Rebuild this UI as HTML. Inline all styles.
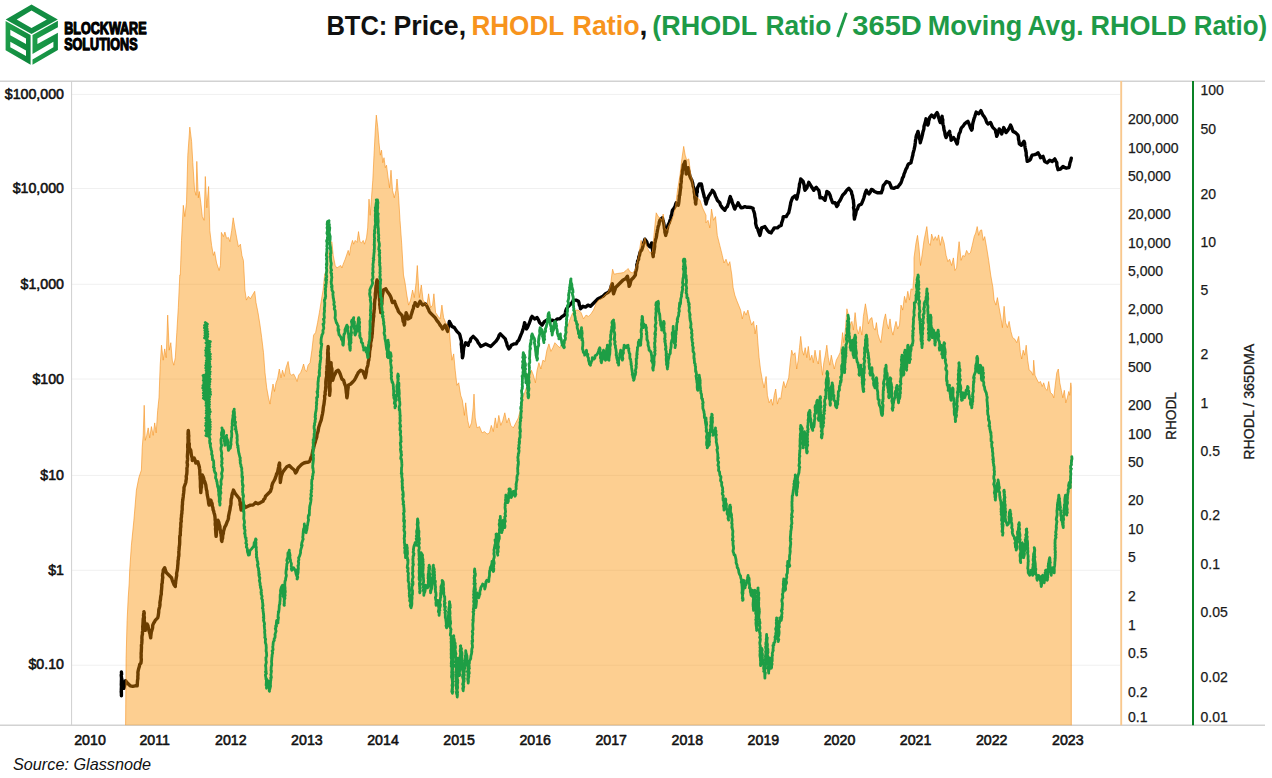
<!DOCTYPE html>
<html><head><meta charset="utf-8"><title>BTC RHODL</title>
<style>
html,body{margin:0;padding:0;background:#fff;}
body{width:1272px;height:778px;overflow:hidden;font-family:"Liberation Sans",sans-serif;}
svg{display:block;font-family:"Liberation Sans",sans-serif;}
</style></head><body>
<svg width="1272" height="778" viewBox="0 0 1272 778">
<rect width="1272" height="778" fill="#fff"/>

<g id="logo">
<defs><linearGradient id="lg" x1="0" y1="0" x2="1" y2="0.6"><stop offset="0" stop-color="#22a24c"/><stop offset="1" stop-color="#0d873c"/></linearGradient>
<linearGradient id="lg2" x1="0" y1="0.4" x2="1" y2="0.6"><stop offset="0" stop-color="#1f9f4a"/><stop offset="1" stop-color="#108c40"/></linearGradient></defs>
<path fill="#128d42" fill-rule="evenodd" d="M31.5,4.5 L57.8,19.5 L31.5,34.1 L5.7,19.5 Z M31.5,10.4 L46.8,19.4 L31.5,27.9 L16.7,19.4 Z"/>
<path fill="url(#lg)" fill-rule="evenodd" d="M5.6,20.9 L30.6,34.9 L30.6,64.8 L5.6,50.2 Z M10.3,29.7 L26.0,38.4 L26.0,43.9 L10.3,35.2 Z M10.3,41.8 L26.0,50.5 L26.0,56.0 L10.3,47.3 Z"/>
<path fill="url(#lg2)" d="M32.5,34.9 L57.9,20.7 L57.9,27.2 L37.4,38.4 L37.4,43.9 L57.9,32.8 L57.9,50.1 L32.5,64.8 L32.5,59.5 L53.4,47.3 L53.4,41.8 L32.5,53.9 Z"/>
</g>

<g font-weight="bold" fill="#000" stroke="#000" stroke-width="1.25" stroke-linejoin="round" font-size="16.8">
<text x="64.2" y="33.8" textLength="82.4" lengthAdjust="spacingAndGlyphs">BLOCKWARE</text>
<text x="64.2" y="49.8" textLength="73.4" lengthAdjust="spacingAndGlyphs">SOLUTIONS</text>
</g>
<g font-weight="bold" font-size="28.5"><text x="326.4" y="34.9" textLength="61.0" lengthAdjust="spacingAndGlyphs" fill="#111">BTC:</text><text x="393.5" y="34.9" textLength="72.6" lengthAdjust="spacingAndGlyphs" fill="#111">Price,</text><text x="471.4" y="34.9" textLength="92.8" lengthAdjust="spacingAndGlyphs" fill="#F7941D">RHODL</text><text x="572.5" y="34.9" textLength="67.1" lengthAdjust="spacingAndGlyphs" fill="#F7941D">Ratio</text><text x="643.4" y="34.9" text-anchor="middle" fill="#111">,</text><text x="652.3" y="34.9" textLength="104.9" lengthAdjust="spacingAndGlyphs" fill="#1E9A47">(RHODL</text><text x="765.5" y="34.9" textLength="65.9" lengthAdjust="spacingAndGlyphs" fill="#1E9A47">Ratio</text><line x1="837.7" y1="37.0" x2="846.3" y2="12.8" stroke="#1E9A47" stroke-width="2.9"/><text x="852.3" y="34.9" textLength="69.6" lengthAdjust="spacingAndGlyphs" fill="#1E9A47">365D</text><text x="927.7" y="34.9" textLength="94.6" lengthAdjust="spacingAndGlyphs" fill="#1E9A47">Moving</text><text x="1027.6" y="34.9" textLength="55.9" lengthAdjust="spacingAndGlyphs" fill="#1E9A47">Avg.</text><text x="1090.5" y="34.9" textLength="96.1" lengthAdjust="spacingAndGlyphs" fill="#1E9A47">RHOLD</text><text x="1193.7" y="34.9" textLength="73.4" lengthAdjust="spacingAndGlyphs" fill="#1E9A47">Ratio)</text></g>
<g stroke="#f0f0f0" stroke-width="1"><line x1="72" x2="1120" y1="94.4" y2="94.4"/><line x1="72" x2="1120" y1="188.5" y2="188.5"/><line x1="72" x2="1120" y1="284.3" y2="284.3"/><line x1="72" x2="1120" y1="379.0" y2="379.0"/><line x1="72" x2="1120" y1="475.4" y2="475.4"/><line x1="72" x2="1120" y1="570.3" y2="570.3"/><line x1="72" x2="1120" y1="665.2" y2="665.2"/></g>
<line x1="0" x2="1265" y1="81.2" y2="81.2" stroke="#d2d2d2" stroke-width="1.4"/>
<line x1="0" x2="1265" y1="725.3" y2="725.3" stroke="#d2d2d2" stroke-width="1.4"/>
<line x1="71.6" x2="71.6" y1="81" y2="725.3" stroke="#cfcfcf" stroke-width="1"/>
<path d="M121.4,672.0 L121.6,674.3 L121.2,675.1 L121.5,677.7 L121.5,679.1 L121.4,681.3 L121.4,682.5 L121.3,684.7 L121.5,687.2 L121.6,688.5 L121.4,690.0 L121.2,691.5 L121.4,693.7 L121.4,695.8 L121.4,694.3 L121.4,692.0 L121.3,689.4 L121.4,687.5 L121.5,686.6 L121.6,683.7 L121.8,682.5 L121.7,680.7 L121.6,678.2 L122.3,681.1 L122.6,683.2 L123.2,686.3 L123.9,688.3 L124.5,686.0 L124.9,684.8 L125.2,682.7 L125.6,680.7 L127.6,683.2 L130.2,685.8 L132.7,686.3 L135.2,685.8 L137.2,685.8 L137.3,684.4 L137.4,682.4 L137.5,680.6 L137.9,678.2 L137.8,676.9 L138.0,674.5 L137.9,672.4 L138.2,670.7 L138.8,668.2 L139.4,666.3 L139.7,664.5 L140.9,663.2 L141.2,661.0 L141.3,659.5 L141.1,657.3 L141.2,655.4 L141.1,653.0 L141.3,651.9 L141.4,648.9 L141.5,647.7 L141.4,645.4 L141.8,643.2 L141.9,641.2 L142.0,639.5 L141.9,638.4 L142.0,636.1 L142.5,633.9 L142.4,632.7 L142.7,630.4 L142.8,628.8 L142.7,626.5 L142.9,625.0 L143.0,623.4 L143.1,621.3 L143.2,618.8 L143.7,616.8 L143.5,615.6 L143.8,612.9 L143.9,611.6 L144.3,613.1 L144.0,615.2 L144.4,617.5 L144.2,618.9 L144.3,620.9 L144.8,623.2 L145.0,625.1 L145.1,626.9 L145.1,628.2 L145.2,630.4 L145.9,628.1 L146.3,626.2 L147.2,624.1 L148.0,625.8 L148.4,628.2 L148.9,630.4 L149.4,631.9 L150.0,633.9 L150.3,635.9 L150.7,637.9 L150.8,636.2 L151.1,633.8 L151.3,632.1 L151.7,630.9 L152.1,629.6 L152.6,627.8 L152.7,625.4 L153.4,623.7 L154.3,622.2 L155.2,620.4 L157.7,617.9 L158.1,616.4 L158.5,613.8 L158.7,612.3 L158.8,609.8 L159.3,608.0 L159.7,606.6 L160.0,604.5 L159.9,602.6 L160.2,600.8 L160.5,599.3 L160.6,597.7 L160.8,596.2 L161.3,594.2 L161.3,592.1 L161.5,590.3 L161.7,587.9 L161.8,586.7 L161.8,584.3 L162.3,582.8 L162.3,581.7 L162.5,579.1 L162.8,577.4 L162.5,575.9 L162.7,573.7 L163.2,572.3 L163.2,570.2 L164.7,567.7 L165.4,570.2 L166.5,572.8 L169.0,575.3 L171.5,577.8 L172.3,580.3 L173.3,582.8 L174.1,584.8 L175.3,586.5 L175.3,584.5 L175.6,583.4 L175.7,581.4 L176.0,579.4 L176.3,577.4 L176.7,575.6 L176.6,573.4 L176.8,572.5 L177.3,570.2 L177.5,569.0 L177.7,566.0 L177.8,565.1 L178.0,563.0 L178.0,561.1 L178.4,559.0 L178.4,557.5 L178.8,556.0 L178.9,554.2 L178.8,551.7 L179.0,550.2 L179.2,548.0 L179.3,546.5 L179.6,544.5 L179.7,541.9 L179.7,541.1 L179.7,538.4 L179.8,536.1 L180.3,535.2 L180.3,532.7 L180.5,530.3 L180.5,528.4 L180.8,527.0 L180.8,524.9 L180.8,523.0 L181.3,521.3 L181.1,519.0 L181.5,516.8 L181.5,515.1 L181.9,513.2 L181.9,511.2 L182.2,509.8 L182.2,507.2 L182.3,505.2 L182.5,504.3 L182.5,502.0 L182.8,500.1 L183.0,498.2 L183.2,497.0 L183.4,494.7 L183.7,492.7 L183.8,491.3 L184.0,489.8 L184.0,487.5 L184.8,485.2 L185.8,482.5 L186.0,480.6 L186.4,478.5 L186.2,476.2 L186.7,474.6 L186.9,472.5 L187.0,470.0 L186.9,468.6 L187.3,466.2 L187.5,464.6 L187.1,462.6 L187.5,459.9 L187.6,458.4 L187.4,456.7 L187.5,454.5 L187.7,452.1 L187.8,450.4 L187.9,448.6 L187.7,447.4 L187.7,444.4 L188.0,443.6 L188.1,441.6 L188.1,439.7 L188.0,437.4 L188.2,435.3 L188.0,434.3 L188.1,432.5 L188.3,430.4 L188.5,432.2 L188.6,434.6 L188.8,435.8 L188.6,438.0 L188.8,439.9 L188.7,442.2 L189.3,443.9 L189.2,445.8 L189.3,447.9 L190.8,450.4 L191.1,452.9 L191.3,454.6 L191.7,456.5 L192.2,457.9 L192.3,460.5 L194.1,458.0 L195.1,460.2 L195.8,463.0 L197.8,461.7 L198.6,464.6 L199.3,466.7 L199.5,468.5 L199.8,470.0 L199.8,472.3 L199.9,474.8 L200.2,476.4 L200.1,477.8 L200.3,480.0 L200.4,481.8 L200.4,484.8 L200.4,486.7 L200.6,488.2 L200.7,490.0 L200.8,492.6 L201.0,490.2 L201.1,488.4 L201.5,487.2 L201.5,484.9 L201.9,482.6 L201.6,480.5 L201.8,479.1 L202.1,476.8 L202.3,475.0 L203.4,477.2 L204.1,480.0 L205.1,482.7 L205.8,485.0 L206.1,487.4 L206.4,489.5 L206.9,491.1 L207.1,493.6 L207.3,495.1 L207.8,497.4 L208.2,499.6 L208.5,501.7 L208.6,503.2 L209.1,505.1 L210.1,502.4 L210.8,500.1 L211.3,501.6 L212.1,503.7 L212.3,506.2 L212.9,507.6 L213.1,509.9 L213.5,510.5 L214.0,512.7 L214.7,515.1 L214.9,516.4 L215.1,518.1 L215.1,519.7 L215.4,521.7 L215.2,523.8 L215.3,525.3 L215.8,526.8 L215.5,528.8 L215.7,530.9 L215.8,532.6 L215.9,534.3 L216.1,536.4 L216.4,534.4 L216.4,533.1 L216.5,530.6 L217.1,529.1 L217.2,526.9 L217.3,526.0 L217.4,524.1 L217.7,521.8 L217.9,520.1 L218.8,522.1 L219.2,524.4 L219.9,526.4 L220.0,528.7 L220.4,530.3 L220.6,532.6 L221.1,534.3 L221.1,535.7 L221.4,537.1 L221.4,540.1 L221.9,541.4 L222.0,540.1 L222.6,538.2 L222.7,535.6 L223.4,533.3 L223.4,531.9 L223.9,530.1 L224.7,527.2 L225.9,525.1 L227.0,522.1 L227.9,520.1 L228.5,518.3 L228.5,516.6 L229.0,514.1 L229.5,511.7 L229.9,510.1 L230.2,507.8 L230.3,507.0 L230.8,504.8 L231.0,503.4 L231.0,501.1 L231.2,498.9 L231.7,497.6 L231.9,495.3 L232.3,493.5 L232.9,492.1 L233.4,490.1 L234.6,492.4 L235.4,493.8 L237.4,496.3 L239.4,498.8 L239.8,500.7 L240.2,502.2 L240.1,504.8 L240.7,506.0 L240.8,508.0 L241.2,510.1 L241.7,507.9 L242.3,506.3 L242.9,503.8 L244.3,505.8 L245.4,507.6 L247.9,506.3 L250.4,505.1 L253.0,505.1 L255.5,502.6 L258.0,503.8 L260.5,502.6 L263.0,501.3 L263.8,499.4 L264.8,498.6 L265.5,496.3 L268.0,493.8 L270.5,491.3 L270.9,489.8 L271.6,488.0 L271.8,486.1 L272.4,483.9 L273.0,482.5 L273.9,481.0 L274.7,479.5 L275.5,477.5 L276.2,475.6 L276.5,474.1 L277.5,472.3 L278.0,470.0 L278.6,467.1 L278.9,464.9 L279.5,463.0 L279.7,465.0 L279.5,467.4 L280.0,469.3 L279.8,470.6 L279.8,473.1 L280.1,474.4 L280.2,476.7 L280.1,478.5 L280.3,480.5 L280.3,482.5 L280.7,480.0 L281.0,478.1 L281.3,476.3 L282.1,474.0 L282.5,472.5 L284.3,470.0 L285.5,468.4 L286.8,466.7 L289.3,465.5 L291.8,468.0 L294.3,470.0 L295.6,473.0 L296.8,471.2 L298.1,468.0 L299.9,466.1 L301.8,464.2 L303.9,463.0 L305.6,462.5 L307.6,462.3 L309.4,461.7 L310.3,459.6 L311.0,457.4 L311.9,455.4 L312.3,453.3 L312.6,451.7 L313.0,449.8 L313.6,447.9 L314.1,445.8 L314.5,444.3 L315.3,442.0 L315.6,440.4 L316.2,438.7 L316.8,436.9 L317.0,434.4 L317.6,432.9 L318.2,430.8 L318.3,429.6 L318.8,427.0 L319.4,425.4 L320.2,422.6 L321.1,420.4 L321.6,418.2 L321.9,416.3 L322.5,413.8 L322.8,411.9 L323.1,410.3 L323.2,408.5 L323.6,405.8 L323.9,404.8 L324.2,402.3 L324.4,400.3 L324.7,398.7 L324.6,395.9 L325.2,394.6 L325.1,392.2 L325.6,390.0 L325.6,387.8 L325.9,385.9 L325.8,383.5 L325.8,382.1 L326.0,380.1 L326.3,378.0 L326.7,376.0 L326.6,374.0 L326.6,371.9 L326.9,370.2 L327.0,368.8 L326.9,367.1 L327.3,364.2 L327.4,362.8 L327.4,360.6 L327.5,359.3 L327.7,357.5 L327.8,355.9 L327.6,353.2 L327.8,351.5 L327.8,349.9 L328.1,348.4 L328.1,346.4 L328.3,348.8 L328.1,350.2 L328.1,352.1 L328.4,353.3 L328.3,355.8 L328.5,358.0 L328.5,359.1 L328.8,361.2 L328.5,363.3 L328.7,365.3 L328.8,366.9 L329.0,368.4 L328.9,370.2 L329.2,371.6 L328.9,374.5 L328.8,376.2 L329.4,378.2 L329.4,379.4 L329.3,381.9 L329.3,383.6 L329.5,385.3 L329.2,387.7 L329.7,389.9 L329.6,391.2 L329.8,392.8 L329.6,395.3 L329.6,393.8 L330.0,391.6 L330.1,389.4 L330.0,387.5 L329.9,385.9 L329.9,384.3 L330.2,382.4 L330.4,380.3 L330.4,379.0 L330.4,377.7 L330.4,375.3 L330.6,373.4 L331.0,371.9 L330.8,369.9 L330.9,368.7 L331.1,366.5 L330.9,364.6 L331.1,362.7 L331.1,364.5 L331.3,366.9 L331.9,368.7 L331.9,370.2 L332.0,372.4 L332.1,374.1 L332.2,376.7 L332.7,378.7 L332.7,380.3 L333.6,377.2 L334.4,375.2 L335.2,373.8 L336.2,371.5 L338.2,370.2 L339.4,372.2 L340.2,374.0 L341.1,376.7 L341.9,379.0 L343.7,380.3 L344.2,382.6 L345.0,384.9 L345.7,386.5 L345.9,388.6 L346.1,390.3 L346.3,392.7 L346.6,394.0 L346.7,396.4 L346.9,397.8 L347.3,395.9 L347.6,393.2 L347.6,391.7 L347.8,390.0 L348.2,387.2 L348.2,385.3 L350.7,384.0 L353.2,381.5 L354.5,380.0 L355.7,377.8 L356.6,375.9 L357.5,374.2 L358.2,372.7 L360.7,370.2 L363.2,371.5 L363.7,373.8 L364.6,375.6 L365.2,377.8 L365.6,376.3 L366.1,373.6 L366.5,371.8 L366.6,369.9 L367.0,367.7 L367.6,366.3 L368.0,364.2 L368.3,361.5 L368.8,360.2 L368.9,358.0 L369.4,356.5 L369.4,355.1 L369.5,353.5 L369.7,350.8 L370.1,349.4 L370.2,347.7 L370.7,345.8 L370.6,343.5 L370.8,342.3 L371.4,340.0 L371.4,338.7 L371.9,337.5 L372.0,335.1 L372.3,333.4 L372.4,331.1 L372.5,329.1 L372.5,328.0 L372.8,326.0 L372.9,323.6 L373.1,322.1 L373.3,320.1 L373.3,318.6 L373.8,316.0 L373.6,314.8 L374.0,312.3 L374.1,310.4 L374.4,308.9 L374.4,306.6 L374.5,305.1 L374.6,303.2 L374.8,300.9 L374.8,299.7 L375.3,298.0 L375.3,296.0 L375.3,293.5 L375.7,291.3 L375.8,290.0 L375.8,288.4 L376.1,285.6 L376.5,284.4 L376.5,282.5 L377.0,280.0 L378.3,282.5 L378.3,284.6 L378.5,286.0 L378.9,288.0 L379.0,290.8 L378.9,292.8 L378.9,293.8 L379.2,295.7 L379.5,298.1 L379.5,300.1 L379.9,301.9 L379.7,304.7 L380.0,306.2 L380.2,308.5 L380.6,310.1 L380.8,312.6 L380.8,310.3 L381.3,308.0 L381.3,306.5 L381.7,304.6 L381.9,302.6 L382.0,300.1 L382.1,298.6 L382.3,295.6 L382.6,294.4 L383.0,292.5 L383.3,290.0 L385.8,288.8 L387.1,291.2 L388.1,292.5 L388.0,292.5 L389.3,294.2 L390.5,296.3 L391.4,298.7 L391.7,300.5 L392.5,302.6 L394.5,301.3 L395.0,302.8 L396.1,305.8 L396.8,307.6 L397.8,309.6 L398.3,311.2 L399.3,312.6 L401.8,315.1 L402.5,317.3 L402.8,318.9 L403.1,321.3 L404.0,322.7 L404.3,325.1 L404.7,323.8 L404.7,322.0 L404.9,319.5 L405.3,318.4 L405.6,315.7 L406.0,314.5 L406.1,312.6 L406.9,314.4 L407.3,316.3 L408.1,318.9 L410.6,317.6 L410.9,315.7 L411.5,314.0 L412.2,311.8 L412.6,310.1 L413.4,308.4 L413.7,306.0 L414.7,304.6 L415.1,302.6 L416.1,304.7 L417.6,306.3 L418.3,304.6 L419.4,302.7 L420.1,301.3 L421.2,303.2 L422.6,305.1 L425.1,303.8 L426.5,305.2 L427.6,307.6 L428.6,309.5 L429.1,311.1 L430.1,312.6 L432.6,315.1 L435.1,317.6 L436.4,319.7 L437.6,321.4 L438.9,323.0 L440.1,325.1 L441.4,326.7 L442.6,328.9 L443.9,326.9 L445.1,325.1 L445.8,326.9 L446.7,329.2 L447.6,331.4 L448.0,329.7 L448.2,327.4 L448.6,325.0 L448.9,323.9 L449.4,321.4 L450.4,323.4 L450.9,324.3 L451.9,326.4 L454.4,327.6 L455.5,329.3 L456.9,331.4 L459.4,333.9 L460.0,335.4 L460.6,338.3 L461.2,340.2 L461.5,341.7 L461.2,344.4 L461.5,345.8 L461.6,347.7 L461.8,349.6 L461.9,351.9 L462.3,353.6 L462.3,355.7 L462.4,357.7 L462.9,356.0 L463.2,353.3 L463.3,351.4 L463.5,349.7 L463.7,347.7 L464.7,345.0 L465.7,342.7 L468.2,345.2 L468.8,342.5 L470.1,341.5 L470.7,338.9 L473.2,336.4 L475.7,338.9 L477.0,340.3 L478.2,342.7 L479.6,344.6 L480.7,346.4 L483.2,345.2 L485.7,343.9 L488.2,345.2 L490.8,346.4 L493.3,343.9 L495.8,341.4 L497.0,339.7 L498.3,337.7 L499.1,335.4 L500.3,333.9 L502.8,336.4 L505.3,338.9 L506.0,341.3 L506.7,343.0 L507.1,345.2 L508.2,347.5 L508.8,348.9 L510.1,347.5 L511.3,345.2 L513.8,343.9 L516.3,343.9 L517.4,341.5 L518.8,340.2 L520.0,337.2 L520.8,335.1 L521.8,332.9 L522.8,330.1 L523.4,327.9 L523.9,325.8 L524.2,325.0 L524.6,322.6 L525.2,324.5 L526.0,327.1 L526.4,328.9 L527.5,327.5 L528.4,325.1 L529.2,323.5 L529.8,321.8 L530.4,320.1 L531.1,318.0 L532.1,316.4 L534.6,318.9 L537.1,317.6 L537.8,318.7 L538.9,320.8 L539.6,322.6 L542.1,325.1 L543.6,322.7 L544.6,321.4 L547.1,320.1 L549.6,321.4 L552.2,320.1 L554.7,321.4 L557.2,318.9 L559.7,318.9 L562.2,316.4 L564.7,315.1 L565.4,312.6 L565.8,310.7 L566.5,308.8 L568.5,306.3 L571.0,303.8 L572.4,302.1 L573.5,300.1 L576.0,300.1 L578.5,301.3 L579.0,302.8 L579.3,304.9 L580.2,306.9 L580.5,308.8 L583.0,306.3 L585.5,307.1 L588.0,305.1 L590.5,306.3 L593.0,303.8 L595.5,301.3 L598.0,298.8 L600.5,297.6 L603.0,296.3 L605.5,293.8 L608.0,292.5 L609.4,291.1 L610.6,288.8 L611.2,286.1 L612.3,283.8 L612.5,285.4 L612.8,288.0 L612.9,290.0 L613.2,292.0 L613.6,293.8 L614.1,292.1 L614.9,290.0 L615.6,287.5 L618.1,285.0 L620.6,282.5 L623.1,280.0 L625.6,278.8 L627.4,276.2 L627.9,278.4 L627.8,280.1 L628.6,282.5 L628.9,284.2 L629.1,286.3 L630.0,284.7 L630.5,282.2 L631.1,280.0 L633.6,277.5 L635.4,275.0 L635.5,272.4 L635.9,271.3 L636.5,269.3 L636.9,266.4 L636.8,264.7 L637.4,263.0 L637.6,261.1 L638.6,259.4 L638.7,257.1 L639.5,255.1 L639.9,252.9 L640.7,250.9 L641.7,250.1 L642.4,247.9 L643.0,246.2 L643.2,244.1 L643.8,242.3 L644.3,241.1 L644.9,239.2 L645.8,240.4 L646.8,241.9 L647.4,244.2 L649.9,246.7 L651.0,244.9 L651.7,242.9 L651.9,244.6 L652.2,247.3 L652.2,248.4 L652.7,250.5 L652.5,252.7 L652.8,254.4 L653.2,256.7 L653.3,254.2 L653.8,252.8 L654.0,250.5 L654.3,249.4 L654.7,246.3 L654.6,244.4 L654.9,242.9 L655.3,241.3 L655.7,239.2 L656.2,237.7 L656.6,235.7 L656.8,233.5 L657.1,232.3 L657.4,230.4 L657.8,228.5 L658.2,226.3 L659.0,224.3 L659.3,222.0 L659.9,220.3 L662.4,217.8 L663.0,220.5 L663.7,222.9 L663.9,224.3 L664.2,226.2 L664.4,228.3 L664.8,229.8 L664.9,232.3 L665.2,233.1 L665.7,235.4 L666.0,233.9 L666.8,231.9 L666.9,230.2 L667.5,227.9 L667.9,225.5 L668.5,224.2 L669.4,222.4 L670.0,220.3 L670.7,218.6 L671.1,215.9 L671.7,214.8 L672.1,211.8 L672.5,210.3 L673.8,208.5 L675.0,206.6 L675.6,204.4 L676.2,202.8 L678.2,205.3 L678.6,203.9 L678.9,201.5 L679.1,199.4 L679.3,197.6 L679.2,195.9 L679.8,195.2 L680.0,192.8 L680.2,191.0 L680.4,189.3 L680.8,187.3 L680.7,184.5 L681.1,182.8 L681.3,181.5 L681.2,178.8 L681.5,177.6 L681.7,175.2 L682.2,173.8 L682.2,171.4 L682.8,169.1 L683.0,166.9 L683.2,165.2 L684.3,163.3 L685.0,161.4 L685.2,163.7 L685.3,166.0 L685.6,167.6 L685.9,170.0 L686.1,172.3 L686.2,174.0 L687.1,171.8 L687.7,170.2 L688.2,167.7 L688.5,170.1 L689.1,172.0 L689.4,174.0 L690.0,176.5 L691.0,178.8 L691.8,180.2 L692.5,182.4 L692.9,184.4 L693.1,186.1 L693.8,187.8 L694.2,189.9 L694.1,191.6 L694.4,193.1 L694.8,195.2 L694.7,197.0 L694.9,198.3 L695.5,200.9 L695.4,202.6 L695.8,204.1 L695.8,202.2 L696.1,199.9 L696.3,198.7 L696.7,196.3 L696.6,194.4 L696.8,192.9 L697.3,191.9 L697.2,189.6 L697.5,187.8 L698.4,185.9 L699.3,184.0 L701.3,184.0 L702.0,186.7 L702.1,188.3 L702.8,190.8 L703.3,192.8 L703.9,195.2 L704.2,196.7 L705.1,198.4 L705.3,200.9 L706.0,202.8 L706.0,204.1 L706.5,202.2 L707.1,199.9 L707.8,198.8 L708.5,196.5 L709.5,195.1 L710.5,193.3 L711.6,192.0 L712.3,190.3 L713.6,191.6 L714.8,194.0 L715.5,196.2 L716.7,198.5 L717.3,200.3 L719.8,202.8 L720.4,204.8 L721.3,206.3 L722.3,207.8 L724.8,210.3 L725.9,207.9 L727.3,206.6 L728.0,204.5 L728.6,202.8 L729.2,200.5 L729.6,198.6 L730.3,196.5 L730.9,198.3 L731.8,200.5 L732.3,202.8 L733.3,205.1 L734.0,207.3 L734.8,209.1 L735.8,206.4 L737.2,205.2 L738.1,202.8 L739.2,205.0 L740.0,206.1 L741.1,207.8 L743.0,207.6 L744.9,206.6 L746.6,207.3 L748.6,207.3 L751.1,207.5 L753.1,208.3 L753.3,210.0 L754.1,212.1 L754.6,214.0 L754.9,216.6 L755.4,218.6 L755.7,220.8 L755.6,223.4 L756.1,225.4 L756.7,227.6 L757.6,228.4 L758.1,230.4 L759.0,232.9 L759.9,235.4 L760.5,233.2 L760.8,231.7 L761.2,229.8 L761.6,227.9 L764.9,226.6 L766.1,228.4 L767.4,230.4 L769.2,232.2 L771.2,232.9 L772.2,230.7 L773.1,229.9 L774.2,227.9 L777.4,227.9 L779.4,226.1 L781.2,225.4 L781.6,223.1 L782.4,220.7 L782.9,219.2 L783.2,216.6 L786.2,216.6 L787.2,214.7 L788.7,212.8 L789.1,211.0 L789.7,208.5 L790.1,206.2 L790.5,204.5 L790.7,202.8 L791.4,200.7 L792.5,197.8 L795.0,195.8 L796.1,197.6 L796.7,199.1 L797.4,196.7 L797.6,194.9 L798.4,192.2 L798.7,190.3 L799.0,188.1 L799.3,187.0 L799.5,184.1 L799.9,183.1 L800.4,181.2 L800.7,179.0 L803.2,181.5 L803.8,184.2 L804.2,185.3 L804.4,188.0 L805.0,190.3 L807.0,187.8 L807.4,185.7 L808.1,184.7 L808.8,182.3 L810.2,184.6 L811.3,186.5 L812.5,188.3 L813.8,190.3 L814.8,188.7 L816.3,187.3 L817.4,188.8 L818.8,190.3 L819.2,192.0 L819.5,194.4 L819.9,195.8 L820.0,197.8 L822.5,197.8 L825.0,200.3 L825.4,198.6 L825.9,195.6 L826.5,194.2 L826.8,191.5 L828.8,192.8 L830.0,195.1 L830.8,197.8 L831.6,200.0 L832.6,202.8 L835.1,202.8 L835.9,204.4 L836.8,206.6 L837.9,205.1 L838.3,202.7 L839.3,201.6 L840.3,200.0 L841.4,197.7 L842.6,195.3 L845.1,192.8 L846.2,190.9 L847.8,189.3 L848.9,188.3 L850.1,189.9 L851.4,191.5 L851.8,194.0 L852.5,195.6 L852.8,198.1 L853.4,200.3 L853.5,202.3 L853.7,203.9 L853.9,205.9 L853.5,207.7 L853.9,209.3 L854.2,211.7 L854.1,213.2 L854.0,215.1 L854.3,217.4 L854.4,219.1 L855.0,216.3 L855.5,214.9 L856.0,212.5 L856.4,210.3 L857.4,209.2 L858.1,206.9 L858.9,205.3 L861.4,204.1 L862.2,202.3 L863.1,200.2 L863.9,197.8 L864.4,196.0 L865.0,194.1 L865.5,192.2 L866.4,190.3 L867.8,192.7 L868.9,194.0 L870.2,192.2 L871.4,189.5 L872.8,189.9 L874.4,191.5 L877.7,192.8 L879.6,192.6 L881.4,192.8 L881.9,191.0 L882.6,189.5 L882.9,187.2 L883.4,185.3 L885.0,183.6 L886.5,181.5 L889.5,182.8 L890.5,185.2 L891.5,187.8 L894.0,188.3 L896.0,187.2 L897.7,187.3 L899.0,185.4 L899.8,184.5 L901.0,182.8 L901.8,180.5 L902.5,178.0 L903.5,176.5 L904.0,174.1 L904.8,172.4 L905.3,170.8 L906.0,169.0 L906.9,167.7 L907.7,165.3 L908.5,164.0 L911.0,162.7 L911.3,160.9 L911.8,159.2 L912.2,157.3 L912.8,155.2 L913.1,153.0 L913.5,151.7 L914.1,149.6 L914.5,147.7 L915.0,145.3 L915.1,143.9 L915.3,142.7 L915.5,140.4 L915.9,138.3 L916.2,136.3 L916.5,135.1 L917.3,133.4 L918.0,131.4 L918.6,133.8 L918.7,135.7 L919.0,136.6 L919.6,139.1 L920.0,140.2 L920.3,142.7 L920.8,140.6 L921.4,138.8 L922.0,136.4 L922.6,133.9 L922.8,132.6 L923.4,130.6 L923.9,128.7 L924.0,126.4 L924.5,124.9 L925.1,122.7 L925.6,121.0 L926.0,118.8 L926.7,120.9 L927.4,122.9 L927.8,125.1 L928.4,123.7 L928.7,120.9 L929.3,119.1 L929.6,117.6 L931.6,115.1 L934.1,117.6 L934.9,115.4 L936.0,114.1 L937.1,112.6 L937.9,114.3 L938.4,117.1 L939.1,118.8 L939.5,120.6 L940.3,122.6 L940.8,120.8 L941.4,118.0 L942.1,116.3 L942.2,118.0 L942.8,119.8 L942.7,121.9 L943.0,124.5 L943.6,126.2 L943.7,127.6 L944.1,130.1 L944.7,131.7 L945.1,134.5 L945.5,136.0 L946.1,137.6 L946.9,135.8 L947.9,133.9 L949.6,131.4 L949.9,133.8 L950.4,135.2 L950.9,137.6 L951.1,140.2 L953.6,137.6 L955.4,140.2 L956.2,142.0 L957.1,143.9 L957.6,142.2 L957.7,139.8 L958.4,137.9 L958.6,136.2 L959.1,133.9 L960.2,132.0 L960.8,129.3 L961.6,127.6 L963.1,126.1 L964.6,123.9 L966.2,122.5 L967.9,121.3 L968.7,123.2 L969.6,125.3 L970.4,127.6 L971.7,130.1 L972.3,128.5 L972.4,125.6 L972.6,124.5 L973.2,121.7 L973.7,120.1 L974.1,118.4 L974.8,116.6 L975.5,114.2 L976.2,112.1 L978.7,113.8 L979.7,112.4 L980.9,110.6 L981.8,112.6 L982.9,115.1 L984.0,116.4 L985.5,118.8 L986.3,121.1 L986.9,122.6 L988.0,123.9 L990.5,122.6 L991.2,123.9 L991.9,125.8 L993.0,127.6 L995.5,130.1 L995.7,132.2 L996.3,133.9 L996.7,136.4 L997.5,134.6 L998.1,132.3 L998.7,131.0 L999.2,128.9 L1000.2,130.2 L1001.1,132.2 L1001.7,133.9 L1002.2,132.3 L1003.0,130.2 L1003.7,127.6 L1004.4,128.8 L1005.3,131.0 L1006.0,132.6 L1008.0,130.1 L1008.9,128.6 L1009.6,127.1 L1010.5,125.1 L1011.4,126.8 L1012.2,129.1 L1013.0,131.4 L1015.5,132.6 L1018.0,135.1 L1018.4,136.9 L1018.5,139.2 L1019.0,141.1 L1019.3,143.9 L1021.3,145.2 L1022.6,143.2 L1024.0,141.4 L1024.6,142.8 L1024.8,145.5 L1025.1,147.6 L1025.4,148.9 L1025.7,150.5 L1026.2,152.7 L1026.2,155.2 L1026.8,157.5 L1026.9,158.9 L1027.2,161.4 L1029.7,160.2 L1030.6,159.1 L1031.4,156.6 L1032.2,155.2 L1034.7,154.7 L1036.3,154.1 L1038.0,152.7 L1038.9,154.5 L1039.7,155.5 L1040.5,157.7 L1043.0,156.4 L1043.7,158.4 L1044.7,161.4 L1047.2,162.7 L1049.7,160.2 L1052.2,161.4 L1054.8,158.9 L1055.7,160.8 L1056.8,162.7 L1056.9,165.4 L1057.6,167.7 L1058.0,169.7 L1060.5,169.0 L1063.0,166.5 L1064.9,167.7 L1066.3,168.2 L1068.8,167.7 L1069.5,165.4 L1070.0,162.7 L1070.7,160.8 L1071.3,158.2" fill="none" stroke="#000" stroke-width="3.4" stroke-linejoin="round" stroke-linecap="round"/>
<path d="M125.6,725.1 L126.1,658.2 L127.1,620.6 L128.2,598.0 L129.2,583.0 L129.7,570.2 L131.4,545.2 L133.9,520.1 L136.4,490.1 L138.9,477.5 L141.4,470.0 L142.2,447.9 L143.2,435.4 L144.2,405.3 L145.2,440.4 L146.7,435.4 L148.2,427.9 L149.7,437.9 L151.4,426.6 L153.2,435.4 L154.7,422.9 L156.2,432.9 L157.7,410.3 L159.0,397.8 L160.2,365.2 L161.5,345.2 L163.2,360.2 L164.7,348.9 L166.2,357.7 L167.7,315.1 L169.2,350.2 L170.8,342.7 L172.3,360.2 L173.8,365.2 L175.3,357.7 L176.8,332.6 L178.3,307.6 L179.8,275.0 L180.3,275.0 L181.5,240.4 L183.3,205.3 L184.8,216.6 L186.5,202.8 L187.8,155.2 L189.8,127.1 L191.6,141.4 L192.8,162.7 L194.6,190.3 L196.1,195.3 L196.8,161.4 L198.3,197.8 L199.3,191.5 L200.8,202.8 L202.3,216.6 L204.1,220.3 L205.3,176.5 L206.8,207.8 L208.6,186.5 L209.8,230.4 L211.6,245.4 L213.4,255.4 L214.6,251.7 L216.6,263.0 L219.1,270.5 L220.4,265.5 L221.4,232.4 L223.4,236.6 L224.9,232.1 L226.6,238.4 L228.4,237.4 L229.9,241.7 L231.7,230.4 L233.2,217.8 L234.9,227.9 L236.7,237.9 L238.4,246.7 L240.4,244.2 L241.9,255.4 L243.4,260.4 L244.2,275.0 L244.9,290.0 L246.4,300.1 L248.4,296.3 L250.4,298.8 L252.5,295.1 L254.7,291.3 L256.0,302.6 L258.0,312.6 L260.0,325.1 L261.7,337.7 L263.5,352.7 L265.0,372.7 L266.7,387.8 L268.5,397.8 L270.0,404.1 L271.2,395.3 L273.0,384.0 L274.5,391.5 L276.0,382.8 L277.5,379.0 L279.3,369.0 L281.0,377.8 L282.5,370.2 L284.3,376.5 L286.0,367.7 L288.1,361.5 L290.1,374.0 L291.8,375.2 L293.6,374.0 L295.6,377.8 L297.1,381.5 L298.6,375.2 L300.6,372.7 L302.1,369.0 L303.6,364.0 L305.1,370.2 L306.6,371.5 L308.1,365.2 L310.1,362.7 L311.9,350.2 L313.6,335.1 L315.6,332.6 L317.6,322.6 L319.4,312.6 L321.4,300.1 L323.1,290.0 L324.6,275.0 L326.1,270.5 L328.1,255.4 L330.6,242.9 L331.9,241.7 L333.2,255.4 L335.2,265.5 L336.9,268.0 L338.7,266.7 L340.7,265.5 L341.9,268.0 L343.2,264.2 L345.2,259.2 L346.9,254.2 L348.2,250.4 L349.4,255.4 L350.7,246.7 L352.5,240.4 L353.7,244.2 L355.2,240.4 L357.0,242.4 L358.5,231.6 L360.0,241.7 L361.5,242.9 L363.2,240.4 L364.5,244.2 L366.5,237.9 L367.7,227.9 L369.0,199.1 L370.2,215.3 L371.5,197.8 L372.8,180.2 L374.0,155.2 L375.3,130.1 L376.3,115.1 L377.8,127.6 L379.0,142.7 L380.3,155.2 L381.5,150.2 L382.8,162.7 L384.0,157.7 L385.3,167.7 L386.5,165.2 L388.1,177.7 L389.5,187.8 L391.0,170.2 L392.5,190.3 L394.3,197.8 L396.0,190.3 L397.0,179.0 L398.5,195.3 L400.0,220.3 L401.8,245.4 L403.5,275.0 L405.0,282.5 L406.8,295.1 L408.6,305.1 L410.6,300.1 L412.6,290.0 L414.3,297.6 L416.1,282.5 L417.3,265.5 L419.3,297.6 L421.3,285.0 L423.1,300.1 L425.1,302.6 L426.9,305.1 L428.6,293.8 L430.6,307.6 L432.6,305.1 L433.9,293.8 L435.6,312.6 L438.1,316.4 L440.1,318.9 L441.9,305.1 L443.6,317.6 L445.6,322.6 L447.6,325.1 L449.4,330.1 L450.7,347.7 L451.9,360.2 L453.7,353.9 L455.2,370.2 L456.9,385.3 L458.7,382.8 L460.7,395.3 L462.4,400.3 L464.4,415.4 L465.7,402.8 L467.7,420.4 L469.4,427.9 L471.5,422.9 L473.2,407.8 L474.0,394.1 L475.2,417.9 L477.0,427.9 L479.5,426.6 L482.0,432.9 L484.5,431.6 L487.0,434.1 L489.5,432.9 L491.3,425.4 L493.3,431.6 L495.3,417.9 L497.0,427.9 L498.8,415.4 L500.8,425.4 L502.8,420.4 L504.8,412.8 L506.8,422.9 L508.8,417.9 L510.8,425.4 L513.3,427.9 L515.8,422.9 L518.3,417.9 L520.3,410.3 L522.1,400.3 L524.6,392.8 L527.1,385.3 L529.6,377.8 L531.4,370.2 L533.4,375.2 L535.4,382.8 L537.1,370.2 L538.9,362.7 L540.9,369.0 L542.9,360.2 L544.9,361.5 L546.9,350.2 L548.9,343.9 L550.9,351.4 L552.9,347.7 L554.9,342.7 L557.2,345.2 L559.7,347.7 L562.2,342.7 L564.7,338.9 L567.2,328.9 L569.7,320.1 L572.2,313.9 L574.7,310.1 L578.5,310.1 L581.0,312.6 L583.5,318.9 L586.0,315.1 L588.5,316.4 L591.0,313.9 L593.5,310.1 L596.0,303.8 L598.5,300.1 L601.0,298.8 L603.5,296.3 L606.0,293.8 L608.5,291.3 L610.6,285.0 L611.8,275.0 L612.6,269.2 L614.1,274.2 L617.3,273.5 L621.1,273.0 L623.6,272.5 L626.1,270.5 L628.1,268.5 L629.9,271.7 L632.4,273.0 L634.9,270.5 L636.6,264.2 L638.6,255.4 L641.1,240.4 L642.4,245.4 L644.9,237.9 L646.9,246.7 L649.9,252.9 L652.4,251.7 L654.2,232.9 L656.2,212.8 L658.2,216.6 L659.9,217.8 L661.7,220.3 L663.2,214.1 L664.9,227.9 L666.7,230.4 L668.7,225.4 L671.2,220.3 L673.7,215.3 L675.7,205.3 L677.5,190.3 L680.0,175.2 L681.7,160.2 L683.7,146.4 L685.2,155.2 L686.8,160.2 L688.8,158.9 L690.8,175.2 L692.5,180.2 L695.0,195.3 L697.5,197.8 L700.0,200.3 L702.5,207.8 L706.0,215.3 L706.0,222.9 L708.0,220.3 L709.8,227.9 L711.5,209.1 L713.5,220.3 L715.5,216.6 L717.3,235.4 L719.8,245.4 L722.3,255.4 L724.0,263.0 L726.0,259.2 L728.1,265.5 L729.8,261.7 L731.8,275.0 L733.1,287.5 L734.8,295.1 L736.6,300.1 L738.6,305.1 L740.6,310.1 L742.3,318.9 L744.1,311.3 L746.1,315.1 L747.9,310.1 L749.9,318.9 L751.6,325.1 L753.6,321.4 L755.1,333.9 L756.6,325.1 L757.9,342.7 L759.1,357.7 L760.6,370.2 L762.4,380.3 L764.1,387.8 L766.1,376.5 L767.4,395.3 L769.2,402.8 L771.2,399.1 L772.7,405.3 L774.2,395.3 L775.7,389.0 L777.4,404.1 L779.2,397.8 L780.7,399.1 L782.4,387.8 L783.7,381.5 L785.5,387.8 L787.0,382.8 L788.7,377.8 L790.2,362.7 L791.7,350.2 L793.2,355.2 L795.0,352.7 L796.7,369.0 L798.2,360.2 L799.5,347.7 L800.7,336.4 L802.2,350.2 L803.7,355.2 L805.2,347.7 L806.8,357.7 L808.3,346.4 L810.0,360.2 L811.8,355.2 L813.3,362.7 L815.0,350.2 L816.8,360.2 L818.3,364.0 L820.0,350.2 L821.3,365.2 L822.5,375.2 L823.8,362.7 L825.3,355.2 L826.8,345.2 L828.3,357.7 L829.8,365.2 L831.3,355.2 L832.8,362.7 L834.3,369.0 L836.3,360.2 L838.3,356.4 L840.1,352.7 L841.3,345.2 L842.6,332.6 L843.8,342.7 L845.4,328.9 L846.9,308.8 L848.4,315.1 L850.1,325.1 L851.9,321.4 L853.4,330.1 L855.1,312.6 L856.9,328.9 L858.4,333.9 L860.1,326.4 L861.9,335.1 L863.4,316.4 L865.4,303.8 L866.9,312.6 L868.4,323.9 L870.2,318.9 L871.9,317.6 L873.4,327.6 L875.2,330.1 L876.4,322.6 L877.9,333.9 L879.4,338.9 L880.9,342.7 L882.4,330.1 L883.9,320.1 L885.5,313.9 L887.0,323.9 L888.5,328.9 L890.0,318.9 L891.5,330.1 L893.0,335.1 L894.5,327.6 L896.0,321.4 L897.7,328.9 L899.5,325.1 L901.0,305.1 L902.7,310.1 L904.5,296.3 L906.0,302.6 L907.8,291.3 L909.5,300.1 L911.0,288.8 L912.8,290.0 L914.0,275.0 L914.0,257.9 L916.0,242.9 L917.5,235.4 L919.0,247.9 L920.5,265.5 L922.0,255.4 L924.0,240.4 L925.5,232.9 L926.8,226.6 L928.6,242.9 L930.3,245.4 L931.6,234.1 L933.6,240.4 L935.3,236.6 L937.1,240.4 L938.6,234.9 L940.3,245.4 L942.1,236.6 L944.1,242.9 L946.1,255.4 L947.9,261.7 L949.6,259.2 L951.6,265.5 L953.4,257.9 L954.9,270.5 L956.6,268.0 L957.9,252.9 L959.1,241.7 L961.1,260.4 L962.9,255.4 L964.6,256.7 L966.6,250.4 L968.7,254.2 L970.4,252.9 L972.2,245.4 L974.2,236.6 L975.7,232.9 L977.2,226.6 L978.7,235.4 L980.2,230.4 L981.7,229.9 L983.2,240.4 L984.7,236.6 L986.7,247.9 L988.7,260.4 L990.7,275.0 L992.9,287.5 L994.1,300.1 L995.9,305.1 L997.4,297.6 L999.1,307.6 L1000.9,317.6 L1002.4,327.6 L1004.1,306.3 L1005.6,322.6 L1007.4,327.6 L1009.1,321.4 L1010.9,331.4 L1012.6,337.7 L1014.6,338.9 L1016.7,342.7 L1018.7,336.4 L1020.4,352.7 L1021.7,359.0 L1023.2,350.2 L1024.7,355.2 L1026.2,345.2 L1027.7,360.2 L1029.2,370.2 L1031.2,371.5 L1033.0,375.2 L1033.7,360.2 L1035.0,375.2 L1036.7,379.0 L1038.7,382.8 L1040.5,381.5 L1042.2,386.5 L1043.7,382.8 L1045.5,389.0 L1047.2,390.3 L1048.7,381.5 L1050.5,392.8 L1052.2,394.1 L1053.8,397.8 L1055.2,385.3 L1056.8,372.7 L1058.3,369.0 L1059.8,382.8 L1061.3,390.3 L1062.8,397.8 L1064.3,390.3 L1065.8,402.8 L1067.3,397.8 L1068.8,391.5 L1069.8,395.3 L1070.8,382.8 L1071.3,386.5 L1071.3,725.3 L125.6,725.3 Z" fill="rgba(250,143,0,0.43)" stroke="none"/>
<path d="M125.6,725.1 L126.1,658.2 L127.1,620.6 L128.2,598.0 L129.2,583.0 L129.7,570.2 L131.4,545.2 L133.9,520.1 L136.4,490.1 L138.9,477.5 L141.4,470.0 L142.2,447.9 L143.2,435.4 L144.2,405.3 L145.2,440.4 L146.7,435.4 L148.2,427.9 L149.7,437.9 L151.4,426.6 L153.2,435.4 L154.7,422.9 L156.2,432.9 L157.7,410.3 L159.0,397.8 L160.2,365.2 L161.5,345.2 L163.2,360.2 L164.7,348.9 L166.2,357.7 L167.7,315.1 L169.2,350.2 L170.8,342.7 L172.3,360.2 L173.8,365.2 L175.3,357.7 L176.8,332.6 L178.3,307.6 L179.8,275.0 L180.3,275.0 L181.5,240.4 L183.3,205.3 L184.8,216.6 L186.5,202.8 L187.8,155.2 L189.8,127.1 L191.6,141.4 L192.8,162.7 L194.6,190.3 L196.1,195.3 L196.8,161.4 L198.3,197.8 L199.3,191.5 L200.8,202.8 L202.3,216.6 L204.1,220.3 L205.3,176.5 L206.8,207.8 L208.6,186.5 L209.8,230.4 L211.6,245.4 L213.4,255.4 L214.6,251.7 L216.6,263.0 L219.1,270.5 L220.4,265.5 L221.4,232.4 L223.4,236.6 L224.9,232.1 L226.6,238.4 L228.4,237.4 L229.9,241.7 L231.7,230.4 L233.2,217.8 L234.9,227.9 L236.7,237.9 L238.4,246.7 L240.4,244.2 L241.9,255.4 L243.4,260.4 L244.2,275.0 L244.9,290.0 L246.4,300.1 L248.4,296.3 L250.4,298.8 L252.5,295.1 L254.7,291.3 L256.0,302.6 L258.0,312.6 L260.0,325.1 L261.7,337.7 L263.5,352.7 L265.0,372.7 L266.7,387.8 L268.5,397.8 L270.0,404.1 L271.2,395.3 L273.0,384.0 L274.5,391.5 L276.0,382.8 L277.5,379.0 L279.3,369.0 L281.0,377.8 L282.5,370.2 L284.3,376.5 L286.0,367.7 L288.1,361.5 L290.1,374.0 L291.8,375.2 L293.6,374.0 L295.6,377.8 L297.1,381.5 L298.6,375.2 L300.6,372.7 L302.1,369.0 L303.6,364.0 L305.1,370.2 L306.6,371.5 L308.1,365.2 L310.1,362.7 L311.9,350.2 L313.6,335.1 L315.6,332.6 L317.6,322.6 L319.4,312.6 L321.4,300.1 L323.1,290.0 L324.6,275.0 L326.1,270.5 L328.1,255.4 L330.6,242.9 L331.9,241.7 L333.2,255.4 L335.2,265.5 L336.9,268.0 L338.7,266.7 L340.7,265.5 L341.9,268.0 L343.2,264.2 L345.2,259.2 L346.9,254.2 L348.2,250.4 L349.4,255.4 L350.7,246.7 L352.5,240.4 L353.7,244.2 L355.2,240.4 L357.0,242.4 L358.5,231.6 L360.0,241.7 L361.5,242.9 L363.2,240.4 L364.5,244.2 L366.5,237.9 L367.7,227.9 L369.0,199.1 L370.2,215.3 L371.5,197.8 L372.8,180.2 L374.0,155.2 L375.3,130.1 L376.3,115.1 L377.8,127.6 L379.0,142.7 L380.3,155.2 L381.5,150.2 L382.8,162.7 L384.0,157.7 L385.3,167.7 L386.5,165.2 L388.1,177.7 L389.5,187.8 L391.0,170.2 L392.5,190.3 L394.3,197.8 L396.0,190.3 L397.0,179.0 L398.5,195.3 L400.0,220.3 L401.8,245.4 L403.5,275.0 L405.0,282.5 L406.8,295.1 L408.6,305.1 L410.6,300.1 L412.6,290.0 L414.3,297.6 L416.1,282.5 L417.3,265.5 L419.3,297.6 L421.3,285.0 L423.1,300.1 L425.1,302.6 L426.9,305.1 L428.6,293.8 L430.6,307.6 L432.6,305.1 L433.9,293.8 L435.6,312.6 L438.1,316.4 L440.1,318.9 L441.9,305.1 L443.6,317.6 L445.6,322.6 L447.6,325.1 L449.4,330.1 L450.7,347.7 L451.9,360.2 L453.7,353.9 L455.2,370.2 L456.9,385.3 L458.7,382.8 L460.7,395.3 L462.4,400.3 L464.4,415.4 L465.7,402.8 L467.7,420.4 L469.4,427.9 L471.5,422.9 L473.2,407.8 L474.0,394.1 L475.2,417.9 L477.0,427.9 L479.5,426.6 L482.0,432.9 L484.5,431.6 L487.0,434.1 L489.5,432.9 L491.3,425.4 L493.3,431.6 L495.3,417.9 L497.0,427.9 L498.8,415.4 L500.8,425.4 L502.8,420.4 L504.8,412.8 L506.8,422.9 L508.8,417.9 L510.8,425.4 L513.3,427.9 L515.8,422.9 L518.3,417.9 L520.3,410.3 L522.1,400.3 L524.6,392.8 L527.1,385.3 L529.6,377.8 L531.4,370.2 L533.4,375.2 L535.4,382.8 L537.1,370.2 L538.9,362.7 L540.9,369.0 L542.9,360.2 L544.9,361.5 L546.9,350.2 L548.9,343.9 L550.9,351.4 L552.9,347.7 L554.9,342.7 L557.2,345.2 L559.7,347.7 L562.2,342.7 L564.7,338.9 L567.2,328.9 L569.7,320.1 L572.2,313.9 L574.7,310.1 L578.5,310.1 L581.0,312.6 L583.5,318.9 L586.0,315.1 L588.5,316.4 L591.0,313.9 L593.5,310.1 L596.0,303.8 L598.5,300.1 L601.0,298.8 L603.5,296.3 L606.0,293.8 L608.5,291.3 L610.6,285.0 L611.8,275.0 L612.6,269.2 L614.1,274.2 L617.3,273.5 L621.1,273.0 L623.6,272.5 L626.1,270.5 L628.1,268.5 L629.9,271.7 L632.4,273.0 L634.9,270.5 L636.6,264.2 L638.6,255.4 L641.1,240.4 L642.4,245.4 L644.9,237.9 L646.9,246.7 L649.9,252.9 L652.4,251.7 L654.2,232.9 L656.2,212.8 L658.2,216.6 L659.9,217.8 L661.7,220.3 L663.2,214.1 L664.9,227.9 L666.7,230.4 L668.7,225.4 L671.2,220.3 L673.7,215.3 L675.7,205.3 L677.5,190.3 L680.0,175.2 L681.7,160.2 L683.7,146.4 L685.2,155.2 L686.8,160.2 L688.8,158.9 L690.8,175.2 L692.5,180.2 L695.0,195.3 L697.5,197.8 L700.0,200.3 L702.5,207.8 L706.0,215.3 L706.0,222.9 L708.0,220.3 L709.8,227.9 L711.5,209.1 L713.5,220.3 L715.5,216.6 L717.3,235.4 L719.8,245.4 L722.3,255.4 L724.0,263.0 L726.0,259.2 L728.1,265.5 L729.8,261.7 L731.8,275.0 L733.1,287.5 L734.8,295.1 L736.6,300.1 L738.6,305.1 L740.6,310.1 L742.3,318.9 L744.1,311.3 L746.1,315.1 L747.9,310.1 L749.9,318.9 L751.6,325.1 L753.6,321.4 L755.1,333.9 L756.6,325.1 L757.9,342.7 L759.1,357.7 L760.6,370.2 L762.4,380.3 L764.1,387.8 L766.1,376.5 L767.4,395.3 L769.2,402.8 L771.2,399.1 L772.7,405.3 L774.2,395.3 L775.7,389.0 L777.4,404.1 L779.2,397.8 L780.7,399.1 L782.4,387.8 L783.7,381.5 L785.5,387.8 L787.0,382.8 L788.7,377.8 L790.2,362.7 L791.7,350.2 L793.2,355.2 L795.0,352.7 L796.7,369.0 L798.2,360.2 L799.5,347.7 L800.7,336.4 L802.2,350.2 L803.7,355.2 L805.2,347.7 L806.8,357.7 L808.3,346.4 L810.0,360.2 L811.8,355.2 L813.3,362.7 L815.0,350.2 L816.8,360.2 L818.3,364.0 L820.0,350.2 L821.3,365.2 L822.5,375.2 L823.8,362.7 L825.3,355.2 L826.8,345.2 L828.3,357.7 L829.8,365.2 L831.3,355.2 L832.8,362.7 L834.3,369.0 L836.3,360.2 L838.3,356.4 L840.1,352.7 L841.3,345.2 L842.6,332.6 L843.8,342.7 L845.4,328.9 L846.9,308.8 L848.4,315.1 L850.1,325.1 L851.9,321.4 L853.4,330.1 L855.1,312.6 L856.9,328.9 L858.4,333.9 L860.1,326.4 L861.9,335.1 L863.4,316.4 L865.4,303.8 L866.9,312.6 L868.4,323.9 L870.2,318.9 L871.9,317.6 L873.4,327.6 L875.2,330.1 L876.4,322.6 L877.9,333.9 L879.4,338.9 L880.9,342.7 L882.4,330.1 L883.9,320.1 L885.5,313.9 L887.0,323.9 L888.5,328.9 L890.0,318.9 L891.5,330.1 L893.0,335.1 L894.5,327.6 L896.0,321.4 L897.7,328.9 L899.5,325.1 L901.0,305.1 L902.7,310.1 L904.5,296.3 L906.0,302.6 L907.8,291.3 L909.5,300.1 L911.0,288.8 L912.8,290.0 L914.0,275.0 L914.0,257.9 L916.0,242.9 L917.5,235.4 L919.0,247.9 L920.5,265.5 L922.0,255.4 L924.0,240.4 L925.5,232.9 L926.8,226.6 L928.6,242.9 L930.3,245.4 L931.6,234.1 L933.6,240.4 L935.3,236.6 L937.1,240.4 L938.6,234.9 L940.3,245.4 L942.1,236.6 L944.1,242.9 L946.1,255.4 L947.9,261.7 L949.6,259.2 L951.6,265.5 L953.4,257.9 L954.9,270.5 L956.6,268.0 L957.9,252.9 L959.1,241.7 L961.1,260.4 L962.9,255.4 L964.6,256.7 L966.6,250.4 L968.7,254.2 L970.4,252.9 L972.2,245.4 L974.2,236.6 L975.7,232.9 L977.2,226.6 L978.7,235.4 L980.2,230.4 L981.7,229.9 L983.2,240.4 L984.7,236.6 L986.7,247.9 L988.7,260.4 L990.7,275.0 L992.9,287.5 L994.1,300.1 L995.9,305.1 L997.4,297.6 L999.1,307.6 L1000.9,317.6 L1002.4,327.6 L1004.1,306.3 L1005.6,322.6 L1007.4,327.6 L1009.1,321.4 L1010.9,331.4 L1012.6,337.7 L1014.6,338.9 L1016.7,342.7 L1018.7,336.4 L1020.4,352.7 L1021.7,359.0 L1023.2,350.2 L1024.7,355.2 L1026.2,345.2 L1027.7,360.2 L1029.2,370.2 L1031.2,371.5 L1033.0,375.2 L1033.7,360.2 L1035.0,375.2 L1036.7,379.0 L1038.7,382.8 L1040.5,381.5 L1042.2,386.5 L1043.7,382.8 L1045.5,389.0 L1047.2,390.3 L1048.7,381.5 L1050.5,392.8 L1052.2,394.1 L1053.8,397.8 L1055.2,385.3 L1056.8,372.7 L1058.3,369.0 L1059.8,382.8 L1061.3,390.3 L1062.8,397.8 L1064.3,390.3 L1065.8,402.8 L1067.3,397.8 L1068.8,391.5 L1069.8,395.3 L1070.8,382.8 L1071.3,386.5 L1071.3,725.3" fill="none" stroke="rgba(245,145,30,0.6)" stroke-width="1" stroke-linejoin="round"/>
<path d="M205.3,322.6 L207.4,324.1 L205.6,325.7 L204.5,325.4 L207.0,326.6 L206.0,326.6 L204.4,327.9 L205.8,328.4 L207.2,329.1 L204.8,330.4 L206.4,331.8 L207.8,331.6 L205.9,331.0 L205.0,332.9 L206.7,333.3 L207.8,334.1 L206.6,333.5 L204.9,335.4 L206.3,336.6 L207.8,336.6 L205.8,338.4 L204.5,337.9 L206.3,337.3 L207.3,339.2 L206.6,340.4 L208.0,341.1 L210.4,341.7 L209.4,341.8 L207.1,342.3 L205.9,342.9 L207.4,342.8 L209.8,344.2 L208.2,344.8 L206.8,345.4 L208.0,345.4 L209.9,346.7 L207.7,347.2 L206.1,347.9 L207.5,347.3 L209.4,349.2 L207.9,350.0 L205.6,350.4 L207.7,350.2 L209.5,351.7 L208.2,353.3 L205.9,352.9 L207.0,352.9 L209.2,354.3 L210.4,354.2 L209.3,354.4 L207.6,355.5 L205.7,355.4 L207.0,356.1 L209.1,357.2 L210.2,356.7 L208.4,357.6 L206.6,358.0 L208.0,357.9 L210.4,359.2 L209.3,359.4 L207.3,360.2 L206.3,360.5 L208.3,361.5 L209.8,361.7 L207.8,362.2 L206.1,363.0 L208.0,364.3 L209.9,364.2 L208.5,364.4 L207.1,363.8 L205.7,365.5 L206.8,366.4 L209.4,366.6 L210.5,366.7 L208.9,366.3 L207.4,368.8 L205.8,368.0 L208.1,368.7 L209.8,369.2 L208.3,369.2 L206.1,370.5 L207.5,372.1 L208.9,371.2 L210.2,371.7 L208.0,372.5 L206.3,373.0 L208.7,372.3 L210.0,374.2 L208.9,375.3 L207.6,375.4 L206.1,375.0 L204.4,375.1 L203.0,375.5 L204.2,376.8 L206.4,375.3 L207.9,376.4 L209.6,376.8 L207.9,376.7 L206.6,377.7 L205.1,377.6 L203.5,378.0 L204.7,377.6 L206.5,378.9 L209.0,379.7 L210.3,379.3 L209.2,380.3 L207.2,380.6 L206.3,378.9 L204.2,379.0 L203.3,380.5 L205.2,380.2 L206.2,381.5 L208.1,380.3 L209.9,381.8 L208.0,382.2 L206.5,381.8 L205.5,382.6 L203.7,383.0 L205.0,383.3 L206.2,383.4 L208.1,383.1 L209.7,384.3 L207.6,385.6 L206.3,384.1 L204.7,386.0 L202.9,385.5 L204.0,384.6 L205.8,386.7 L207.4,387.0 L209.4,386.8 L207.9,387.2 L205.8,388.6 L204.7,387.8 L202.7,388.0 L203.9,388.7 L205.6,388.7 L207.0,389.1 L208.2,388.5 L210.1,389.3 L208.9,390.6 L206.6,390.8 L205.0,391.4 L203.5,390.5 L205.5,390.6 L206.7,389.9 L209.1,390.3 L210.4,391.8 L209.3,393.2 L207.6,391.4 L206.5,393.8 L204.8,392.8 L203.2,393.1 L204.5,392.9 L205.8,394.0 L207.5,393.0 L208.7,394.5 L210.6,394.3 L208.9,394.5 L207.5,395.8 L206.7,393.8 L204.5,394.9 L203.4,395.6 L205.5,396.6 L206.4,395.4 L208.3,397.4 L209.7,396.8 L208.5,396.7 L206.9,397.9 L204.9,399.0 L203.3,398.1 L204.6,399.0 L206.0,397.8 L208.4,398.3 L209.5,399.3 L207.9,400.2 L205.7,400.6 L208.0,400.8 L209.5,401.8 L207.6,401.9 L206.1,403.1 L208.2,404.0 L209.6,404.3 L208.2,406.0 L205.9,405.6 L207.2,406.3 L209.3,406.8 L207.5,406.3 L206.5,408.1 L207.7,409.7 L209.8,409.3 L208.3,410.8 L206.2,410.6 L207.4,411.3 L209.2,411.1 L210.3,411.8 L209.0,411.5 L207.1,412.1 L206.2,413.1 L208.3,413.9 L209.6,414.4 L208.5,414.9 L206.6,415.6 L207.7,417.0 L209.3,416.9 L207.8,416.2 L205.7,418.1 L207.3,417.5 L208.1,419.9 L209.9,419.4 L207.5,419.3 L206.2,420.6 L208.1,420.8 L208.5,420.6 L210.3,421.9 L208.6,422.9 L207.0,423.8 L205.9,423.1 L207.2,424.8 L209.2,423.4 L210.2,424.4 L208.3,424.7 L206.6,425.6 L205.5,425.6 L206.6,424.8 L209.2,425.9 L210.3,426.9 L208.4,427.4 L206.3,428.1 L208.1,427.6 L210.2,429.4 L209.1,431.0 L207.6,429.2 L205.6,430.6 L206.7,431.4 L208.9,431.6 L209.8,431.9 L208.3,432.9 L206.4,433.1 L208.1,433.9 L210.2,434.4 L208.6,434.2 L206.9,434.7 L205.9,435.6 L208.1,436.0 L209.3,436.6 L209.7,438.5 L210.1,439.3 L209.6,440.6 L209.8,443.4 L210.6,443.5 L210.3,445.4 L210.5,447.0 L211.0,448.5 L210.9,448.5 L211.2,450.0 L211.8,451.5 L211.6,454.4 L212.4,455.4 L212.3,457.7 L212.7,459.3 L212.5,459.8 L213.4,460.2 L213.7,461.9 L213.7,465.4 L213.9,465.2 L213.4,467.1 L214.4,468.0 L214.1,470.0 L214.9,472.5 L215.6,473.0 L215.9,474.2 L215.5,477.9 L216.3,479.4 L216.7,480.5 L216.6,481.3 L217.1,481.9 L217.1,483.3 L217.7,486.1 L217.5,486.0 L218.6,489.4 L218.4,490.1 L218.6,491.7 L219.0,492.9 L218.7,494.1 L218.7,494.8 L219.3,497.4 L219.3,497.9 L219.3,499.6 L219.2,501.5 L220.1,503.3 L219.9,505.1 L219.8,503.9 L219.7,500.9 L220.1,500.7 L220.3,499.0 L220.4,498.3 L220.0,496.2 L220.4,494.1 L220.4,493.5 L221.0,492.9 L220.4,490.7 L220.2,487.8 L220.8,488.4 L220.5,486.6 L221.3,484.0 L221.2,483.9 L220.9,482.0 L221.1,480.0 L221.6,478.8 L221.9,478.2 L222.1,475.9 L221.5,473.7 L221.7,473.0 L222.5,470.3 L222.4,470.0 L222.5,469.1 L222.0,467.0 L221.7,466.1 L221.5,465.2 L222.2,462.8 L221.6,462.0 L222.2,458.5 L221.9,458.9 L221.7,457.0 L221.4,456.1 L221.8,453.1 L221.5,451.8 L221.1,450.4 L220.8,448.6 L220.8,448.7 L221.7,445.2 L221.4,444.6 L221.0,442.9 L221.1,442.6 L220.9,439.8 L221.4,437.9 L221.7,438.0 L221.9,435.6 L221.4,435.0 L221.5,433.7 L221.5,432.6 L222.1,431.5 L222.3,429.4 L221.9,427.9 L222.6,430.1 L223.4,430.4 L223.8,432.1 L223.6,432.8 L223.4,435.7 L223.6,437.0 L224.2,439.1 L224.6,440.6 L224.1,440.9 L224.7,441.9 L224.7,443.6 L224.9,445.4 L225.2,442.7 L225.3,442.4 L225.4,440.9 L226.2,440.2 L226.1,438.6 L226.3,436.1 L226.6,435.4 L226.3,436.3 L227.1,439.4 L227.5,439.9 L227.9,441.3 L227.9,442.7 L228.0,445.7 L227.7,445.1 L228.2,447.5 L228.1,447.6 L228.4,450.4 L229.3,449.0 L230.4,447.9 L230.4,447.4 L230.7,445.6 L231.1,444.2 L230.8,442.7 L231.1,441.0 L231.2,438.9 L231.3,438.0 L231.7,437.0 L231.7,435.5 L231.8,433.6 L231.4,431.2 L231.7,430.4 L232.0,429.9 L231.9,426.5 L232.4,425.8 L232.1,423.2 L232.3,423.5 L232.3,421.0 L232.7,418.6 L232.7,419.5 L233.0,416.6 L232.9,415.4 L233.4,414.1 L233.2,411.5 L234.2,410.1 L234.2,409.1 L233.8,411.4 L234.4,411.7 L234.5,414.1 L234.3,415.4 L235.0,417.3 L234.6,418.3 L234.7,419.6 L234.7,421.7 L235.6,422.0 L235.0,425.1 L235.4,425.4 L235.8,427.7 L235.3,429.2 L236.0,429.1 L236.0,431.6 L236.5,431.5 L236.5,432.9 L237.1,435.0 L237.2,437.1 L236.9,437.9 L237.2,438.7 L237.3,439.8 L237.0,442.6 L237.4,444.1 L237.5,445.4 L238.1,445.8 L237.7,447.4 L238.2,448.0 L238.4,450.4 L238.4,450.7 L239.1,454.3 L239.0,453.5 L239.8,457.0 L240.3,457.9 L240.0,459.9 L240.4,460.5 L240.2,462.5 L240.4,463.4 L241.0,464.9 L240.9,466.1 L241.8,468.3 L241.7,470.0 L241.8,470.9 L242.1,472.9 L241.9,475.0 L242.1,477.6 L242.6,476.8 L242.5,480.5 L242.1,480.7 L242.5,483.6 L242.4,485.0 L242.9,484.6 L243.2,485.8 L242.5,489.0 L242.9,490.1 L242.5,491.2 L242.7,492.9 L243.5,495.5 L242.7,494.8 L243.6,496.2 L243.1,497.8 L242.9,499.1 L243.6,502.4 L243.7,504.1 L243.7,504.4 L243.8,507.3 L243.7,507.6 L243.9,508.4 L243.3,511.6 L243.9,511.5 L244.0,513.5 L244.0,513.6 L243.9,516.0 L243.7,518.6 L244.0,519.5 L244.4,521.1 L244.5,522.6 L244.0,524.6 L244.0,525.9 L244.8,527.1 L244.4,527.6 L244.1,528.0 L245.1,530.4 L244.7,533.2 L244.5,533.5 L245.1,533.8 L245.2,536.8 L245.4,537.7 L246.1,537.9 L245.9,539.5 L246.4,540.9 L245.8,543.1 L246.8,544.3 L246.3,547.0 L246.9,547.7 L247.6,550.1 L247.3,550.5 L247.6,552.4 L248.0,553.3 L248.4,555.2 L249.4,554.7 L249.9,550.8 L250.4,550.2 L251.6,548.8 L252.5,547.7 L253.6,546.6 L254.0,544.9 L254.2,542.7 L255.0,541.8 L255.7,538.9 L256.2,539.8 L255.5,541.5 L256.0,542.2 L255.9,544.9 L255.7,547.0 L256.4,547.1 L256.2,548.7 L256.3,551.1 L256.6,552.0 L256.3,554.5 L256.6,554.4 L256.4,557.5 L257.0,557.7 L257.1,560.2 L257.7,561.7 L257.8,563.0 L258.1,564.1 L257.4,564.7 L258.0,567.4 L258.4,568.0 L258.6,568.5 L258.5,570.2 L259.1,572.0 L258.7,572.9 L259.5,574.5 L258.8,574.9 L259.5,577.4 L259.9,577.8 L259.5,580.6 L259.3,580.3 L260.0,582.8 L260.2,583.6 L260.0,585.0 L260.8,587.1 L260.4,587.4 L261.4,590.3 L260.9,592.3 L261.5,592.8 L261.1,593.9 L262.1,596.3 L261.6,598.2 L262.1,599.6 L262.5,599.9 L262.4,601.7 L262.8,603.8 L262.7,605.3 L263.1,605.3 L262.4,608.1 L263.1,608.9 L263.0,610.4 L263.1,611.6 L263.6,614.1 L263.4,613.7 L263.8,616.3 L263.3,617.3 L263.9,618.1 L263.5,620.4 L264.4,623.0 L264.6,624.0 L264.2,625.4 L264.4,627.0 L264.5,628.4 L264.9,631.0 L264.6,631.6 L264.6,632.2 L264.9,634.4 L265.0,636.9 L264.7,637.4 L265.7,639.2 L265.4,639.7 L265.3,642.6 L265.5,642.9 L266.1,644.9 L266.2,647.2 L266.3,647.3 L266.1,650.0 L266.1,651.4 L266.4,651.9 L266.5,652.9 L266.7,655.5 L266.4,656.7 L265.9,657.5 L266.0,660.8 L266.1,660.8 L266.4,662.2 L265.7,664.9 L265.5,665.7 L265.8,666.9 L265.9,668.5 L265.9,669.9 L266.2,671.9 L265.4,671.8 L266.4,673.5 L265.4,674.9 L266.0,678.2 L265.9,679.0 L266.5,678.7 L266.3,682.5 L266.3,682.7 L266.1,685.2 L266.9,684.4 L266.5,686.6 L266.5,688.3 L267.0,685.8 L266.8,684.7 L267.4,684.5 L268.1,683.0 L268.0,680.7 L268.4,681.2 L268.3,684.2 L268.4,685.3 L269.3,685.8 L269.4,687.2 L269.2,690.8 L269.5,691.3 L269.4,689.7 L269.8,689.1 L270.6,685.9 L270.3,685.9 L270.5,683.2 L270.6,681.0 L270.9,679.9 L270.7,677.6 L271.3,677.8 L271.4,677.2 L270.8,674.6 L271.0,673.7 L271.5,670.9 L271.0,670.6 L271.2,667.7 L271.1,667.3 L271.5,665.7 L271.7,665.5 L271.7,663.1 L271.5,661.1 L271.7,660.4 L271.8,657.7 L272.0,656.9 L272.1,655.8 L272.0,655.1 L272.7,652.8 L272.1,650.8 L272.9,650.2 L273.1,649.4 L272.7,646.9 L273.0,645.4 L273.2,642.8 L273.5,641.5 L274.3,640.4 L274.1,639.0 L275.0,637.6 L275.2,635.2 L274.9,634.6 L275.5,632.9 L276.1,631.1 L275.3,628.5 L275.8,628.5 L275.7,625.9 L276.5,626.3 L276.3,623.8 L276.6,620.7 L276.8,620.4 L278.0,622.9 L277.9,620.5 L278.0,620.7 L278.5,617.3 L278.0,617.6 L278.1,615.1 L278.4,612.9 L278.3,611.7 L278.7,612.3 L279.1,609.1 L279.2,607.7 L279.2,606.3 L279.3,605.3 L279.9,603.5 L279.8,602.7 L280.0,601.1 L280.2,599.1 L280.1,598.1 L280.1,596.5 L280.2,594.5 L280.7,593.7 L280.5,590.6 L280.5,590.3 L281.2,587.8 L281.6,586.8 L282.5,585.3 L282.7,586.1 L282.5,588.2 L282.9,589.3 L282.6,590.7 L283.3,592.6 L283.3,594.8 L283.6,595.8 L283.0,596.2 L283.9,597.3 L284.2,598.7 L284.3,600.3 L284.4,603.4 L284.0,604.9 L284.3,605.3 L284.0,604.8 L284.3,602.2 L284.1,601.2 L284.3,599.9 L285.0,598.2 L284.2,597.7 L285.2,595.4 L284.8,593.7 L285.3,592.0 L285.3,590.9 L285.0,590.3 L285.1,587.9 L284.8,586.1 L284.8,585.2 L284.9,582.0 L285.1,580.8 L285.5,580.3 L285.7,578.4 L285.6,578.5 L286.3,576.2 L286.4,575.1 L285.9,573.6 L286.0,571.4 L286.3,568.9 L286.8,569.3 L286.5,567.7 L286.8,565.2 L286.8,564.1 L287.6,562.8 L286.8,560.4 L287.3,558.4 L287.9,557.3 L287.9,556.2 L287.9,553.1 L288.1,552.7 L288.9,552.5 L289.3,550.2 L289.1,552.0 L289.6,552.7 L290.1,555.7 L289.5,557.0 L290.1,558.2 L290.0,559.4 L290.6,560.2 L290.3,561.2 L291.4,563.5 L291.4,564.4 L291.2,565.9 L291.7,568.0 L291.3,568.7 L291.8,570.2 L292.7,569.2 L293.6,567.7 L295.0,569.9 L295.6,570.2 L295.5,571.4 L295.7,571.9 L296.0,573.8 L297.0,576.5 L297.3,577.0 L297.3,579.0 L297.0,578.8 L297.8,577.3 L297.1,574.5 L297.8,574.0 L298.2,572.0 L297.7,569.2 L298.2,570.3 L298.4,568.1 L297.9,565.6 L298.4,566.0 L298.7,562.6 L298.4,562.0 L298.3,561.3 L298.9,559.7 L298.6,557.7 L299.4,556.5 L300.1,554.5 L300.6,552.7 L300.5,552.0 L300.6,550.3 L301.1,548.7 L301.6,547.1 L302.2,545.1 L301.4,545.5 L301.9,542.4 L302.3,541.8 L302.6,540.2 L303.2,539.2 L302.7,537.3 L303.0,535.7 L303.1,533.4 L303.3,532.5 L303.2,532.1 L303.6,528.9 L303.9,529.2 L304.3,527.2 L304.4,524.9 L304.3,523.9 L304.3,524.7 L304.8,526.2 L305.2,527.4 L305.1,529.1 L305.5,532.0 L306.1,532.7 L306.4,530.4 L306.6,530.6 L307.1,528.3 L307.2,525.9 L307.6,525.1 L307.9,522.6 L308.3,521.2 L308.4,520.7 L308.6,519.8 L308.2,518.3 L308.3,516.1 L308.8,514.8 L309.3,515.3 L309.4,512.6 L309.4,512.1 L309.4,510.3 L309.7,508.4 L309.6,507.7 L309.9,505.4 L310.2,504.8 L310.6,502.6 L310.8,501.4 L311.1,499.0 L310.5,499.0 L310.8,497.5 L311.6,495.6 L310.8,494.7 L311.5,491.7 L311.1,490.9 L311.1,490.5 L311.9,488.8 L311.6,487.6 L311.9,485.0 L311.6,484.1 L311.8,480.7 L311.8,479.8 L312.6,478.7 L312.5,477.8 L312.4,476.4 L312.9,475.6 L312.9,473.9 L313.5,472.2 L313.1,470.0 L313.0,467.9 L312.7,467.9 L312.7,465.6 L313.1,462.8 L312.8,463.3 L313.2,462.1 L313.5,458.4 L313.3,456.8 L313.0,456.3 L313.6,455.2 L312.8,453.5 L313.1,451.2 L313.1,450.4 L313.0,449.9 L313.8,448.2 L312.9,447.1 L313.4,445.4 L313.1,442.2 L314.0,441.0 L313.1,440.1 L314.2,439.5 L313.7,438.5 L314.2,436.6 L314.1,434.0 L314.4,432.7 L314.5,431.4 L314.6,429.7 L314.1,428.6 L314.1,425.9 L314.4,425.4 L314.6,424.9 L314.5,423.5 L315.2,421.8 L315.0,420.9 L315.6,418.4 L315.0,417.0 L315.6,415.4 L315.2,414.9 L315.7,412.0 L316.0,411.2 L316.2,409.3 L316.4,408.7 L316.3,406.3 L316.8,403.5 L316.3,402.9 L316.4,402.8 L316.9,400.3 L316.6,397.8 L316.9,397.3 L317.6,397.1 L317.7,394.6 L317.0,391.7 L317.8,392.1 L317.5,391.0 L317.9,388.5 L318.1,385.7 L318.1,385.3 L317.9,384.9 L318.1,381.2 L318.3,381.4 L318.4,378.5 L318.5,377.7 L319.1,375.7 L319.4,376.0 L319.5,372.1 L319.1,372.9 L319.4,370.2 L319.9,367.8 L319.6,366.9 L320.0,364.5 L319.7,364.9 L320.4,361.5 L320.2,361.6 L320.6,359.5 L320.9,357.4 L320.1,355.7 L320.6,355.2 L320.8,352.8 L320.6,351.5 L320.4,352.1 L320.8,350.7 L321.3,347.3 L321.6,345.3 L321.8,344.0 L321.1,343.9 L320.9,343.0 L321.1,341.7 L321.1,339.5 L321.4,337.5 L321.8,336.2 L321.9,335.1 L322.4,334.3 L323.1,332.6 L322.9,330.3 L323.5,329.2 L323.8,328.0 L323.4,325.5 L323.0,324.2 L323.7,324.2 L324.1,322.1 L323.9,320.4 L323.4,319.2 L324.1,318.7 L324.4,317.3 L324.1,315.1 L324.1,313.4 L324.4,312.2 L324.6,310.4 L324.3,309.9 L324.4,307.6 L324.7,306.2 L324.7,305.5 L324.8,302.6 L324.6,302.0 L324.4,300.2 L325.4,298.1 L325.1,297.9 L325.7,296.4 L325.5,294.1 L325.4,293.3 L325.4,292.2 L325.6,290.0 L325.2,289.2 L326.0,286.5 L325.4,285.1 L326.0,284.8 L326.4,281.8 L325.7,280.0 L326.7,279.9 L325.9,278.5 L326.8,276.8 L326.4,275.0 L326.1,274.8 L326.7,271.3 L326.8,270.7 L326.6,268.9 L326.3,267.6 L326.6,266.2 L327.0,263.8 L326.3,264.6 L326.8,262.3 L326.8,259.9 L326.6,258.3 L326.4,258.9 L327.0,257.2 L326.3,255.3 L326.6,253.3 L327.0,250.7 L326.9,250.4 L326.8,249.1 L327.4,247.6 L326.8,246.4 L327.1,244.1 L327.1,242.6 L326.6,241.3 L326.7,240.3 L327.2,239.9 L327.5,238.1 L327.8,235.4 L327.2,233.9 L326.9,233.2 L327.4,230.7 L327.9,231.5 L327.0,227.5 L327.0,228.0 L327.9,224.8 L327.1,224.6 L327.4,221.8 L327.6,221.6 L329.1,220.8 L328.7,221.6 L329.0,223.3 L329.4,224.7 L329.1,226.1 L329.8,227.7 L329.6,229.7 L329.4,231.1 L329.1,232.1 L329.8,235.1 L329.4,235.0 L330.2,236.3 L330.1,239.9 L329.9,240.4 L329.6,242.8 L329.7,242.2 L329.9,244.5 L330.3,246.3 L330.6,248.3 L330.0,248.7 L330.7,249.9 L331.0,253.2 L330.3,253.4 L330.6,255.4 L330.4,256.7 L330.5,257.2 L330.6,259.2 L330.7,261.3 L331.3,263.4 L331.1,265.4 L330.9,265.8 L330.8,268.3 L331.6,270.0 L331.3,269.5 L330.8,272.8 L331.7,273.6 L331.4,275.0 L331.9,277.6 L331.8,277.7 L331.5,279.1 L331.5,280.9 L331.1,281.5 L331.4,284.2 L332.1,286.1 L331.4,286.9 L332.0,287.6 L331.9,290.0 L333.2,292.5 L332.8,294.3 L333.1,295.9 L333.2,298.0 L333.5,298.4 L333.8,301.1 L334.3,302.5 L334.2,301.9 L333.8,304.7 L334.8,306.7 L334.4,307.6 L334.2,308.8 L335.2,310.7 L335.3,313.2 L335.3,314.2 L335.4,315.0 L335.0,318.1 L335.0,317.9 L335.7,320.1 L336.4,323.0 L336.7,322.8 L337.7,325.1 L338.3,326.1 L338.1,327.6 L338.0,330.6 L338.9,329.6 L338.5,331.3 L339.0,334.7 L339.4,335.1 L339.9,335.7 L341.2,337.7 L341.4,339.2 L342.4,340.8 L342.8,342.3 L342.7,344.6 L343.2,345.2 L343.4,343.6 L343.5,341.8 L343.6,339.6 L343.6,339.8 L343.7,336.9 L343.9,335.8 L343.9,334.3 L344.7,333.6 L345.1,330.6 L344.9,330.1 L345.8,327.7 L346.1,327.0 L346.9,325.1 L347.5,327.0 L347.9,326.7 L347.5,329.4 L347.5,329.7 L348.1,332.4 L348.1,332.6 L348.7,335.1 L348.7,337.3 L349.1,339.4 L349.3,340.7 L349.4,341.1 L349.4,341.6 L349.1,344.6 L350.1,344.4 L349.6,346.7 L349.9,349.6 L350.2,350.2 L350.0,348.3 L350.4,348.5 L350.2,346.2 L350.1,344.3 L351.1,342.3 L350.6,342.0 L350.9,340.4 L351.0,339.2 L350.8,336.9 L350.9,335.9 L351.2,335.4 L351.1,332.9 L351.6,332.8 L351.1,330.7 L351.2,329.3 L351.1,327.3 L351.7,326.4 L352.1,325.2 L351.8,323.0 L351.4,321.7 L351.9,320.1 L352.9,319.5 L353.7,317.6 L353.5,319.3 L353.5,321.1 L354.4,321.8 L354.4,323.9 L354.1,323.8 L354.7,326.0 L354.2,327.7 L355.1,330.5 L354.9,332.0 L354.6,332.2 L354.6,333.0 L355.2,335.1 L356.2,332.3 L356.5,331.8 L357.0,330.1 L357.7,330.0 L357.0,326.7 L358.1,325.5 L357.4,325.6 L358.1,322.7 L358.2,321.6 L358.3,320.5 L358.2,319.3 L358.7,317.6 L359.3,319.3 L359.2,319.9 L358.7,320.6 L359.7,322.3 L359.1,325.2 L359.6,326.5 L359.4,328.5 L359.5,329.9 L359.2,331.1 L359.4,331.6 L359.8,332.5 L360.0,335.7 L359.6,335.4 L360.2,337.7 L361.3,339.2 L361.3,342.1 L362.0,342.7 L362.6,343.3 L362.8,344.8 L363.3,347.3 L363.7,347.6 L363.7,350.2 L365.2,348.2 L365.7,347.7 L366.4,349.0 L366.7,349.5 L366.1,351.9 L367.3,353.3 L367.2,354.0 L367.5,356.1 L367.7,357.7 L368.3,356.9 L368.0,353.9 L367.8,354.5 L368.4,351.1 L368.8,349.7 L368.6,349.9 L368.4,346.4 L368.4,345.1 L368.9,344.1 L369.0,341.8 L369.3,341.5 L369.5,340.2 L369.8,338.2 L369.7,336.9 L369.9,335.1 L369.7,334.4 L369.7,333.2 L369.8,331.3 L370.2,331.5 L370.0,329.3 L370.2,327.1 L370.1,326.0 L370.0,324.4 L370.1,322.6 L369.9,321.1 L370.3,319.9 L370.5,320.2 L370.6,317.3 L370.8,315.9 L370.3,315.2 L370.6,313.3 L370.8,313.0 L370.3,310.0 L370.5,309.8 L370.8,307.0 L370.6,307.5 L370.8,305.1 L371.1,303.8 L370.8,303.0 L370.2,299.4 L370.5,298.8 L370.5,297.0 L370.1,296.9 L369.6,294.3 L369.6,293.1 L370.1,292.8 L369.8,290.0 L370.8,287.4 L371.2,286.8 L372.0,285.0 L372.3,284.1 L372.7,283.3 L372.0,279.8 L372.9,278.4 L373.0,276.9 L372.7,275.5 L372.8,275.0 L372.5,273.1 L373.2,272.5 L372.8,269.5 L372.9,268.1 L372.9,267.5 L373.2,267.1 L372.9,264.6 L373.4,262.0 L373.3,260.5 L373.9,259.6 L373.2,258.4 L373.7,258.0 L373.8,255.4 L374.0,253.3 L374.3,251.3 L374.1,250.0 L374.3,249.0 L374.4,249.2 L374.4,246.0 L374.1,244.6 L374.5,245.5 L374.3,243.2 L374.5,240.5 L374.3,239.6 L374.7,238.4 L374.4,237.3 L374.3,234.7 L374.4,233.1 L374.9,232.9 L374.9,231.8 L374.4,231.0 L375.2,227.5 L374.9,228.1 L374.9,226.9 L375.3,225.0 L375.6,223.9 L375.3,220.6 L375.3,220.3 L375.3,219.4 L375.4,217.6 L375.3,216.8 L375.3,214.8 L375.6,212.1 L375.2,210.6 L375.5,210.0 L375.3,207.5 L376.2,208.4 L375.9,205.6 L376.2,203.2 L376.2,203.2 L376.7,201.6 L376.3,199.8 L377.5,199.8 L377.6,201.0 L378.0,202.8 L377.6,204.8 L377.6,204.5 L377.8,208.0 L377.6,207.5 L377.4,211.0 L377.4,211.9 L377.4,212.9 L378.3,213.7 L377.7,216.1 L378.0,217.4 L377.9,217.5 L378.1,219.6 L378.2,221.5 L377.9,224.4 L377.9,225.8 L378.1,226.1 L378.0,226.6 L378.4,228.8 L378.3,230.4 L378.4,231.0 L378.4,233.7 L378.8,235.2 L378.5,236.8 L378.7,237.7 L378.8,238.7 L378.3,239.8 L379.3,243.2 L379.3,243.0 L379.4,245.9 L379.1,246.1 L378.7,249.4 L379.7,250.5 L379.2,251.6 L379.8,252.6 L379.1,255.2 L379.5,255.4 L379.6,257.6 L379.8,257.3 L379.7,258.7 L379.5,262.7 L380.0,263.1 L379.5,264.9 L380.0,266.3 L380.2,268.6 L380.0,269.3 L380.1,270.7 L380.3,271.2 L379.8,272.5 L380.3,275.0 L379.8,276.6 L380.1,278.6 L380.0,278.4 L380.8,279.7 L380.3,282.6 L380.6,283.0 L380.2,285.2 L380.3,287.4 L380.4,289.0 L380.1,289.6 L380.4,290.7 L380.6,293.0 L380.4,294.3 L380.8,295.1 L380.5,297.0 L381.4,298.0 L381.6,299.4 L381.3,302.4 L382.1,303.6 L381.4,305.6 L381.7,307.0 L382.0,307.6 L382.0,308.4 L382.1,311.2 L383.0,312.3 L382.2,314.3 L383.2,316.1 L382.4,316.5 L383.4,319.1 L383.3,320.1 L383.9,322.6 L383.8,323.6 L383.5,323.4 L384.1,326.0 L384.3,326.7 L384.4,329.5 L384.6,331.2 L384.2,332.2 L384.0,333.0 L384.5,335.1 L384.9,335.8 L384.9,338.5 L385.4,340.7 L385.5,341.3 L385.8,342.7 L386.0,344.8 L386.4,346.8 L386.2,346.2 L386.6,349.0 L387.0,350.2 L387.4,350.9 L387.2,353.4 L387.4,355.6 L387.4,356.9 L388.1,357.7 L387.7,356.8 L388.3,355.9 L388.5,352.1 L388.2,352.9 L388.3,350.3 L388.3,348.4 L388.3,347.2 L388.5,344.8 L388.1,343.6 L388.3,344.3 L388.0,342.5 L388.0,340.2 L387.8,340.4 L388.5,342.9 L387.9,345.0 L388.8,344.9 L388.6,347.1 L388.1,347.8 L388.3,349.9 L388.6,352.0 L389.1,354.2 L389.4,353.9 L389.3,357.2 L389.2,357.7 L389.4,356.3 L390.6,354.7 L390.5,352.7 L390.8,353.6 L391.2,356.5 L390.5,356.5 L390.3,358.4 L391.2,360.7 L390.5,360.7 L390.6,362.2 L390.7,363.4 L391.2,366.8 L391.5,367.5 L391.0,369.7 L391.0,368.9 L391.1,372.3 L391.6,372.5 L391.2,374.8 L391.6,376.7 L391.6,376.3 L391.2,378.1 L391.8,380.3 L392.1,382.3 L392.5,382.0 L393.3,384.7 L393.2,385.5 L393.5,387.8 L393.4,388.5 L393.8,391.7 L393.6,391.7 L393.7,392.3 L393.5,395.7 L394.7,395.2 L393.8,397.7 L394.2,398.6 L394.9,399.9 L394.3,403.2 L394.8,404.0 L395.0,403.7 L395.4,405.2 L395.0,407.8 L394.9,406.4 L395.8,406.2 L395.1,402.7 L395.3,401.3 L396.4,399.8 L396.2,398.7 L395.9,397.5 L396.3,396.8 L396.8,395.3 L397.2,394.0 L397.0,391.9 L396.7,391.0 L397.0,390.7 L396.9,387.0 L396.8,386.3 L397.1,385.1 L397.8,384.5 L397.6,383.4 L398.0,380.0 L397.9,378.7 L397.7,378.0 L397.6,375.7 L397.6,376.0 L398.0,374.0 L398.6,376.5 L397.7,377.1 L397.9,378.4 L398.3,379.0 L397.9,381.3 L398.0,383.7 L398.9,383.0 L398.9,386.6 L398.2,387.4 L398.7,387.8 L399.1,390.3 L399.2,392.7 L399.4,393.4 L399.4,393.3 L398.9,395.9 L399.2,397.0 L399.5,399.1 L399.3,400.3 L399.7,401.6 L399.8,402.7 L399.9,404.7 L399.4,406.2 L399.1,407.8 L399.7,409.5 L399.2,409.9 L399.8,410.4 L400.0,414.0 L399.9,415.0 L400.3,415.6 L399.9,418.2 L400.1,418.0 L400.1,420.7 L400.4,420.4 L399.7,423.3 L400.4,424.8 L400.2,425.3 L400.7,426.3 L400.1,427.1 L399.9,430.1 L400.5,430.5 L400.7,431.7 L400.3,434.4 L400.5,435.4 L400.9,436.7 L400.9,438.2 L400.8,440.6 L400.8,441.3 L401.2,441.4 L400.3,442.8 L400.6,445.6 L401.0,447.4 L400.4,449.3 L400.7,451.0 L400.8,452.2 L401.3,451.5 L401.1,453.9 L401.6,454.9 L401.0,456.2 L400.7,458.6 L401.4,459.0 L401.6,460.6 L401.8,463.2 L401.9,464.1 L401.8,465.9 L401.7,466.9 L401.5,468.0 L401.5,470.0 L401.4,472.5 L401.2,473.7 L402.0,473.4 L401.7,476.6 L401.9,477.2 L402.0,477.7 L402.5,480.7 L401.9,481.1 L402.4,483.8 L402.3,483.8 L402.2,485.9 L402.8,487.7 L402.2,487.4 L402.5,490.1 L402.8,490.9 L403.1,492.0 L403.3,495.1 L402.6,494.5 L403.3,496.2 L402.7,498.3 L402.8,499.0 L403.3,501.9 L403.6,501.8 L403.0,504.3 L403.8,505.0 L403.7,506.2 L404.1,509.6 L403.8,510.1 L404.3,511.2 L403.4,513.8 L403.8,514.0 L403.9,516.4 L404.2,517.1 L403.8,517.8 L403.6,521.3 L404.6,520.4 L404.2,524.2 L404.2,525.6 L403.8,526.4 L404.6,526.3 L403.9,529.9 L404.0,530.5 L404.8,532.1 L404.6,532.5 L404.8,533.5 L404.3,535.9 L404.7,536.1 L404.1,538.4 L404.5,540.2 L404.3,542.7 L404.6,543.3 L404.7,545.5 L405.3,547.1 L404.5,547.8 L405.3,550.0 L405.2,550.3 L404.9,550.6 L404.8,552.8 L405.6,554.5 L405.5,555.7 L405.5,557.7 L406.2,557.2 L405.6,554.3 L405.6,552.7 L405.9,552.0 L406.1,550.4 L406.0,548.9 L406.8,546.2 L406.8,545.2 L407.1,547.6 L407.3,548.6 L406.9,549.7 L407.3,550.4 L407.5,553.1 L407.4,554.5 L406.7,556.0 L407.2,557.1 L407.5,557.9 L407.6,560.4 L408.0,559.7 L407.9,563.1 L407.7,564.5 L407.5,565.0 L407.2,567.8 L408.1,568.1 L407.9,570.4 L407.5,571.1 L408.2,572.6 L408.5,573.2 L408.1,575.3 L408.3,577.4 L408.2,579.3 L408.3,578.6 L408.1,580.7 L409.1,583.5 L409.1,584.3 L408.8,585.7 L409.0,587.9 L408.9,587.9 L409.4,590.4 L409.5,590.1 L409.5,591.8 L409.2,593.2 L409.6,595.3 L409.2,595.7 L410.1,598.9 L409.6,600.6 L410.2,601.6 L409.9,601.2 L410.9,602.6 L410.2,605.5 L410.4,606.2 L411.1,607.8 L411.5,605.4 L411.6,606.0 L411.9,603.8 L411.8,601.1 L411.7,601.5 L412.1,598.2 L412.1,597.3 L411.9,596.9 L412.2,594.2 L412.5,594.3 L412.5,590.6 L412.3,590.3 L411.9,589.1 L412.0,586.4 L412.8,584.8 L412.3,584.1 L413.0,584.3 L412.9,581.6 L412.2,581.5 L412.4,579.2 L413.0,577.4 L413.2,577.1 L412.7,575.1 L412.4,572.9 L413.1,571.1 L412.8,570.9 L412.7,569.9 L412.7,566.7 L413.2,565.3 L413.5,564.2 L412.8,563.5 L413.1,562.0 L412.8,559.1 L413.1,558.8 L413.0,556.6 L413.7,555.3 L413.3,555.5 L414.0,553.8 L413.1,552.3 L413.6,550.2 L413.4,549.5 L413.9,546.5 L414.4,544.8 L414.9,545.0 L415.1,542.7 L415.9,544.7 L416.3,545.2 L416.0,543.1 L416.8,541.8 L416.8,541.0 L416.2,538.6 L417.1,538.9 L416.8,535.2 L416.3,536.1 L417.2,534.0 L416.7,533.1 L416.6,531.1 L417.3,528.8 L417.5,526.8 L417.7,527.3 L417.1,524.3 L417.7,522.8 L417.5,522.3 L418.0,521.0 L417.6,518.9 L417.5,520.0 L417.4,522.6 L418.3,522.6 L418.0,524.4 L417.9,525.1 L418.4,528.9 L418.0,529.9 L418.8,530.8 L419.0,532.0 L418.8,532.6 L418.8,535.2 L418.5,536.8 L419.2,537.9 L419.4,539.4 L418.8,541.5 L419.4,543.2 L419.1,542.9 L418.8,545.2 L418.5,545.9 L419.3,547.2 L419.2,548.7 L418.7,550.2 L418.9,551.5 L419.0,554.5 L419.2,554.8 L419.0,555.7 L419.5,557.2 L418.9,558.8 L419.4,561.6 L419.6,561.9 L419.0,564.3 L418.9,564.9 L419.9,565.6 L419.4,567.0 L419.3,567.9 L419.6,570.8 L419.1,570.4 L419.2,572.7 L419.4,575.1 L419.6,574.7 L419.1,577.2 L419.2,579.6 L419.9,580.9 L419.8,580.8 L420.0,582.4 L419.3,583.2 L419.6,587.0 L419.9,587.6 L419.6,588.4 L420.2,591.3 L419.6,591.6 L419.8,592.8 L419.9,590.6 L419.9,588.9 L420.3,588.3 L420.2,587.8 L419.8,586.8 L420.6,584.2 L419.7,583.1 L420.4,580.6 L420.5,579.4 L420.0,577.4 L420.4,577.7 L420.6,575.1 L420.2,573.0 L420.1,572.1 L420.2,570.1 L420.4,568.6 L420.6,567.2 L420.5,566.0 L420.3,566.1 L420.3,564.9 L421.0,563.1 L420.8,561.9 L420.6,559.6 L420.4,557.1 L420.9,557.3 L421.5,556.5 L420.6,555.2 L421.1,552.7 L421.7,553.7 L422.6,555.2 L422.3,555.6 L422.6,558.2 L423.1,559.9 L422.4,561.2 L423.1,561.7 L422.6,563.2 L423.4,564.3 L423.1,566.3 L423.2,568.1 L422.7,570.5 L423.1,569.7 L422.8,571.5 L423.0,573.0 L423.4,575.5 L423.1,576.1 L423.4,577.8 L423.6,580.5 L423.6,582.1 L423.2,583.3 L423.4,584.8 L423.6,584.7 L423.3,587.6 L423.6,587.2 L423.7,588.6 L423.2,590.4 L424.0,591.7 L424.2,592.7 L423.8,595.3 L423.9,592.6 L424.5,592.7 L424.9,591.8 L425.3,589.4 L425.0,588.4 L425.3,585.9 L425.6,585.3 L426.5,586.3 L427.6,587.8 L428.1,585.3 L428.0,585.5 L428.3,583.7 L428.2,581.2 L428.5,579.6 L428.3,578.3 L428.0,578.4 L428.2,577.0 L428.2,574.1 L428.4,573.7 L429.0,573.2 L428.6,572.0 L428.9,568.6 L428.9,568.5 L429.3,565.7 L429.1,565.2 L429.7,566.8 L428.7,567.6 L429.7,568.4 L429.2,571.5 L429.1,573.1 L429.7,573.3 L430.0,574.3 L429.4,577.5 L429.9,577.6 L429.8,580.7 L429.6,580.1 L430.1,581.9 L430.3,583.4 L429.9,585.9 L430.8,587.1 L430.9,589.7 L430.7,590.1 L430.4,590.3 L430.6,592.8 L430.9,590.5 L431.3,589.6 L431.6,588.5 L431.9,587.9 L432.1,585.3 L432.3,582.9 L432.7,583.1 L432.2,580.8 L432.5,579.3 L432.7,579.4 L432.2,577.8 L433.2,576.2 L432.8,574.3 L432.9,572.1 L432.6,570.2 L433.1,569.0 L432.9,568.4 L433.0,567.5 L433.4,565.2 L433.1,566.0 L433.6,567.4 L434.3,569.5 L433.6,570.2 L434.5,571.9 L434.2,573.1 L434.6,575.3 L434.2,577.4 L434.6,577.5 L434.4,579.6 L435.2,582.2 L435.4,581.2 L435.0,583.8 L435.2,585.1 L435.6,587.0 L435.2,589.4 L435.4,588.3 L435.5,592.2 L435.6,591.7 L435.9,592.7 L436.0,594.4 L436.0,595.9 L435.4,597.5 L435.8,600.1 L435.9,599.9 L436.4,603.4 L435.9,602.7 L436.1,605.3 L436.5,604.9 L437.6,601.1 L437.6,600.3 L437.5,603.1 L437.8,603.8 L438.5,605.7 L438.5,606.6 L438.7,607.2 L438.9,608.6 L438.3,611.6 L439.3,613.0 L439.1,612.8 L439.1,615.4 L439.3,613.1 L439.4,612.3 L439.1,611.2 L439.9,610.2 L439.3,609.3 L440.2,606.4 L440.4,604.5 L439.9,604.8 L439.7,602.2 L439.7,600.3 L440.2,600.5 L440.5,597.1 L440.8,597.4 L440.6,595.3 L440.6,593.0 L441.2,593.4 L440.8,590.4 L441.1,590.5 L440.9,586.5 L441.2,586.2 L442.2,583.6 L442.1,583.4 L442.4,583.0 L442.1,580.3 L442.7,581.1 L443.2,582.0 L443.5,584.6 L443.1,587.3 L443.6,587.8 L443.7,588.9 L443.6,590.4 L443.7,592.1 L443.9,592.8 L443.6,593.9 L444.5,596.8 L444.7,596.7 L444.8,600.1 L444.3,601.7 L445.1,602.8 L444.7,604.3 L444.4,603.8 L444.5,606.6 L445.4,606.7 L444.7,609.9 L445.1,610.4 L445.7,610.8 L444.9,612.7 L445.3,613.5 L445.3,617.1 L445.3,617.5 L446.1,619.7 L445.8,619.6 L446.1,621.7 L446.2,623.0 L446.4,626.2 L446.0,625.7 L446.6,627.9 L447.3,626.4 L447.5,623.8 L448.1,622.1 L448.1,621.2 L448.1,620.4 L448.5,619.7 L448.6,618.7 L448.2,617.0 L448.7,613.8 L448.4,612.1 L449.3,611.3 L448.8,609.3 L449.4,609.0 L448.9,608.1 L449.3,606.7 L449.6,604.3 L449.4,604.0 L449.6,601.6 L449.4,602.0 L450.1,604.9 L450.2,606.2 L450.4,607.2 L449.4,609.2 L449.7,609.9 L449.9,611.2 L450.1,613.4 L449.7,615.6 L450.0,616.6 L450.0,616.4 L450.1,618.2 L450.1,620.8 L450.5,621.0 L450.6,623.5 L450.1,624.8 L450.0,626.5 L450.3,627.8 L451.1,629.5 L450.7,630.4 L450.8,632.1 L450.5,633.4 L450.3,635.0 L451.3,636.5 L451.2,639.1 L451.0,638.6 L451.5,641.1 L451.0,641.5 L451.3,645.0 L451.2,645.7 L451.2,646.3 L451.4,647.7 L451.1,649.3 L451.3,651.8 L451.4,652.0 L451.1,653.5 L451.4,656.9 L451.6,658.1 L451.1,657.3 L451.6,659.3 L451.4,662.0 L451.2,663.8 L451.5,664.5 L451.7,665.7 L451.2,666.0 L451.9,667.4 L451.9,669.6 L451.6,672.7 L452.2,672.5 L451.8,673.9 L451.5,677.0 L452.1,677.9 L451.9,678.0 L452.2,679.6 L452.5,682.8 L452.6,682.4 L452.0,685.5 L452.2,686.2 L452.5,686.7 L452.3,687.8 L451.8,691.6 L452.6,692.1 L452.4,693.3 L452.1,691.3 L452.9,691.8 L452.6,690.2 L452.4,688.6 L452.8,685.5 L453.0,683.6 L452.4,683.4 L453.1,681.7 L452.3,681.2 L452.9,678.3 L452.9,677.5 L452.7,677.6 L453.1,676.3 L453.0,673.3 L452.7,671.3 L452.4,670.9 L452.6,669.6 L452.7,668.0 L453.4,666.5 L453.5,664.7 L452.7,664.3 L453.0,662.8 L453.2,660.8 L453.0,658.9 L453.2,658.2 L453.7,656.0 L453.2,656.4 L453.6,655.2 L453.4,652.0 L453.7,650.0 L453.8,649.6 L453.6,649.3 L453.4,647.7 L453.8,645.5 L453.9,643.4 L453.1,643.2 L453.9,641.0 L453.1,639.7 L453.3,637.3 L453.3,637.3 L453.7,635.6 L453.8,637.9 L454.0,638.9 L454.3,639.6 L454.5,642.3 L455.2,643.1 L455.0,645.0 L455.4,646.1 L455.5,647.8 L454.9,649.5 L455.4,651.0 L455.0,650.4 L455.6,652.5 L456.0,653.9 L455.5,655.4 L455.6,656.4 L456.1,658.0 L456.1,661.3 L455.5,662.2 L456.1,661.6 L456.3,663.9 L455.6,666.4 L455.5,665.8 L456.4,667.2 L456.1,670.0 L455.9,672.1 L456.3,671.4 L456.2,675.0 L456.0,674.5 L456.2,675.6 L456.2,678.2 L456.1,679.7 L456.0,681.4 L456.7,682.5 L456.5,683.2 L456.0,685.4 L456.4,687.3 L456.3,688.2 L456.8,690.5 L456.4,692.3 L456.6,693.8 L457.3,695.2 L457.5,694.5 L457.2,697.0 L457.1,695.8 L457.1,694.6 L457.7,692.0 L457.1,692.2 L457.2,688.8 L457.7,687.9 L457.5,685.8 L457.5,686.3 L457.4,683.7 L457.8,682.7 L457.6,680.4 L457.8,680.6 L457.1,677.8 L457.9,676.0 L458.1,674.5 L457.5,673.9 L457.4,673.6 L457.9,670.9 L458.0,670.3 L458.0,668.6 L458.1,666.7 L457.8,664.4 L458.2,663.6 L458.5,661.9 L458.4,660.9 L457.8,659.3 L458.2,658.2 L458.4,660.1 L458.2,660.4 L458.1,662.8 L458.8,665.1 L458.7,665.1 L459.1,667.3 L459.1,667.3 L459.3,669.6 L459.3,670.2 L458.7,671.6 L458.9,673.2 L459.4,675.7 L459.9,674.4 L459.1,674.2 L459.5,671.9 L459.8,669.6 L460.1,669.8 L459.7,666.8 L459.8,666.6 L459.9,663.2 L459.5,663.3 L459.7,662.1 L460.2,659.2 L459.7,659.0 L459.9,658.4 L460.3,655.2 L460.6,654.6 L460.5,653.6 L460.4,650.2 L460.1,651.2 L460.7,647.3 L460.3,646.1 L460.7,645.7 L460.6,647.5 L461.5,648.6 L461.2,650.9 L461.0,652.3 L461.7,651.9 L462.0,653.2 L462.0,655.3 L461.6,657.9 L462.2,658.2 L461.9,659.3 L462.4,660.4 L461.9,661.9 L462.2,664.7 L462.5,666.4 L462.1,667.5 L463.0,669.4 L462.3,668.5 L462.9,670.8 L462.8,671.3 L463.2,673.5 L463.2,673.9 L462.5,676.5 L462.7,677.3 L463.3,679.6 L463.3,680.9 L463.2,682.6 L462.6,684.2 L463.3,685.7 L463.1,685.3 L463.4,689.2 L462.7,688.2 L463.2,690.8 L463.2,689.9 L463.3,688.6 L463.8,686.6 L463.6,685.2 L463.4,682.6 L464.1,681.3 L464.0,680.5 L464.0,679.7 L464.3,678.4 L463.7,676.9 L464.4,674.9 L463.8,674.3 L464.5,671.3 L464.0,671.0 L464.5,668.3 L464.8,668.5 L464.4,665.7 L464.8,665.1 L464.8,662.2 L465.1,661.7 L465.3,659.3 L465.5,658.7 L465.5,657.6 L465.3,656.1 L465.8,654.9 L465.7,651.0 L465.7,650.7 L465.8,651.6 L466.2,653.7 L466.9,655.7 L467.1,658.4 L466.6,659.8 L467.2,660.8 L467.6,661.1 L467.5,663.6 L467.2,665.5 L467.8,664.6 L467.8,667.0 L468.0,667.6 L468.0,670.2 L467.4,671.6 L468.1,672.9 L467.8,675.5 L468.2,675.3 L467.9,677.2 L467.7,678.1 L467.7,679.5 L468.1,681.2 L468.2,683.2 L468.5,680.8 L468.1,681.6 L468.5,678.1 L468.9,676.3 L468.4,675.1 L468.6,674.6 L469.3,673.2 L469.3,673.0 L468.5,669.3 L469.4,668.4 L469.1,667.9 L469.2,667.0 L468.9,664.0 L469.4,663.2 L469.4,660.9 L470.8,658.6 L470.7,658.2 L470.9,656.0 L471.3,654.5 L471.5,653.9 L471.9,651.4 L471.6,652.1 L471.8,649.4 L472.0,648.2 L472.5,647.5 L472.4,645.0 L472.0,643.2 L472.7,641.1 L471.9,641.1 L472.7,640.5 L472.5,638.7 L472.3,636.4 L472.8,634.0 L472.8,633.2 L472.2,631.5 L472.7,630.4 L473.0,629.7 L473.0,628.0 L472.8,625.5 L472.8,624.3 L472.8,624.0 L473.3,620.6 L472.7,620.0 L473.3,619.1 L473.2,617.3 L473.4,615.1 L473.7,613.8 L473.0,611.8 L473.6,611.2 L473.9,610.7 L473.3,609.0 L473.8,607.0 L473.7,605.3 L474.3,603.0 L473.7,602.2 L473.6,601.3 L474.2,599.5 L473.5,597.5 L474.2,596.5 L473.5,594.5 L474.1,593.2 L473.8,591.9 L473.7,591.8 L474.0,589.3 L474.2,587.8 L474.7,585.5 L474.3,584.1 L473.9,584.1 L474.2,582.7 L474.4,579.4 L474.0,577.9 L474.6,577.5 L474.3,575.7 L474.5,575.8 L475.0,574.2 L474.9,570.9 L474.5,571.3 L474.7,569.0 L474.4,571.0 L474.4,572.7 L474.6,572.7 L475.4,573.7 L475.3,575.7 L474.7,576.7 L474.5,578.8 L475.0,580.0 L474.5,583.0 L475.4,583.7 L474.7,583.9 L475.1,585.4 L475.0,587.0 L475.5,589.6 L475.0,591.7 L475.4,592.8 L475.5,593.4 L475.4,594.7 L475.0,597.5 L475.3,596.6 L475.1,598.9 L475.8,600.6 L475.4,603.1 L475.2,602.9 L476.0,604.9 L475.6,605.3 L475.7,607.8 L475.9,606.9 L476.3,603.8 L476.2,604.2 L476.6,600.8 L476.0,601.4 L476.3,598.6 L476.8,596.6 L476.4,596.0 L477.0,595.4 L477.0,592.8 L477.1,594.9 L477.8,596.4 L478.7,597.8 L479.2,596.2 L479.2,594.7 L479.9,594.4 L479.8,592.7 L480.1,590.5 L480.6,589.5 L480.7,587.8 L481.4,586.5 L482.4,584.9 L482.7,584.0 L483.5,584.8 L484.6,586.2 L484.7,589.0 L485.4,586.7 L485.6,584.8 L485.6,583.5 L486.0,583.5 L485.9,581.9 L486.8,580.3 L488.8,581.5 L488.8,581.1 L489.0,577.5 L489.0,578.3 L489.5,575.6 L489.5,573.9 L489.5,573.2 L489.7,570.7 L490.3,570.2 L490.2,568.1 L491.3,566.5 L490.6,567.0 L491.4,565.6 L492.0,562.9 L492.0,561.5 L492.1,561.6 L492.3,563.7 L492.4,566.7 L492.8,568.4 L493.2,569.6 L492.7,570.1 L493.3,571.5 L493.7,570.8 L493.8,568.4 L493.1,567.2 L493.7,566.3 L493.5,565.2 L494.2,563.4 L494.1,562.5 L493.5,559.4 L494.0,558.1 L494.3,556.7 L494.1,554.2 L493.8,553.9 L494.2,551.8 L493.9,549.9 L494.2,549.5 L494.3,548.0 L494.9,545.5 L494.8,545.2 L495.1,544.4 L495.6,543.7 L495.0,539.8 L495.7,539.7 L496.1,538.4 L496.2,535.5 L496.1,534.5 L496.3,533.9 L496.0,534.2 L496.9,536.5 L496.9,538.9 L497.0,539.1 L497.0,540.9 L497.3,542.9 L497.4,545.0 L496.9,544.9 L496.7,547.6 L497.4,547.2 L497.5,550.7 L497.9,552.2 L497.4,551.7 L497.2,552.9 L497.8,555.2 L497.6,554.1 L497.4,553.4 L498.2,551.7 L497.9,549.4 L498.6,546.8 L497.9,545.5 L498.1,544.1 L498.0,542.5 L498.5,541.5 L498.6,540.5 L499.0,539.2 L499.3,538.7 L499.3,536.1 L498.7,534.4 L499.1,533.1 L499.6,532.1 L499.3,530.1 L499.8,527.7 L499.6,526.5 L499.1,524.3 L499.6,523.2 L499.7,521.3 L499.5,520.3 L500.3,519.4 L500.4,519.0 L500.3,516.4 L500.4,518.1 L500.2,518.9 L500.9,521.6 L500.5,521.5 L500.9,523.6 L501.2,526.2 L501.0,525.7 L500.9,527.7 L501.4,528.7 L502.0,530.8 L501.8,532.7 L501.7,530.7 L502.5,530.2 L502.6,527.5 L502.1,526.8 L502.6,524.8 L502.5,523.2 L502.5,522.0 L502.9,521.0 L503.3,520.1 L503.7,522.9 L504.0,523.1 L504.1,523.6 L504.7,526.0 L504.8,527.6 L505.0,525.9 L504.6,524.4 L504.6,522.8 L505.4,521.2 L505.1,521.7 L504.9,518.7 L504.7,516.8 L505.6,516.2 L505.0,513.7 L505.4,512.5 L505.3,512.7 L505.6,511.6 L505.1,508.3 L505.0,507.3 L505.3,505.6 L505.1,504.8 L505.4,502.6 L505.9,501.1 L505.5,500.4 L505.5,499.6 L505.7,498.2 L506.0,495.4 L505.8,495.1 L506.7,496.6 L506.9,497.3 L507.0,500.3 L507.2,501.2 L507.8,502.6 L508.4,501.1 L508.2,500.0 L508.8,497.4 L509.1,497.1 L508.7,494.1 L508.7,493.2 L509.4,491.6 L508.9,489.2 L509.6,488.8 L510.3,489.2 L510.6,492.8 L510.5,493.6 L511.1,495.5 L511.2,496.8 L511.3,497.6 L512.2,495.3 L512.2,495.1 L513.0,492.6 L513.3,491.3 L514.4,491.8 L514.2,493.7 L515.1,496.3 L515.1,496.1 L515.9,494.2 L515.5,493.2 L515.5,490.8 L516.1,488.9 L516.2,488.9 L516.0,487.2 L516.3,485.0 L516.0,484.6 L516.6,481.7 L517.2,479.5 L516.9,480.2 L516.9,476.9 L517.2,476.4 L517.1,475.7 L518.0,473.7 L517.7,471.3 L517.8,470.0 L517.6,468.2 L517.9,466.7 L518.0,464.4 L518.3,464.9 L518.4,461.7 L517.9,460.6 L518.2,461.0 L518.1,459.2 L517.8,457.3 L518.3,455.4 L518.3,453.6 L518.7,453.4 L519.1,450.8 L518.8,449.5 L518.4,448.3 L519.2,447.8 L518.8,445.4 L519.5,443.0 L519.0,442.1 L519.6,441.7 L519.3,439.6 L519.6,437.9 L520.1,437.7 L520.1,434.9 L520.0,433.6 L519.9,431.9 L520.5,431.5 L520.1,428.2 L519.9,429.0 L519.8,427.6 L520.2,424.1 L520.3,424.6 L520.0,422.4 L520.7,420.8 L520.4,419.9 L520.7,417.2 L521.2,417.7 L520.8,415.4 L520.9,415.0 L521.1,411.2 L521.5,411.4 L520.7,408.3 L521.4,407.8 L520.8,407.1 L521.4,406.0 L521.5,403.6 L521.2,403.6 L522.0,399.7 L522.1,400.1 L521.4,398.7 L521.8,396.8 L522.1,394.5 L522.2,393.8 L521.8,393.4 L521.5,390.9 L522.4,388.1 L522.1,387.8 L522.5,386.4 L522.2,384.5 L522.5,382.6 L522.3,381.8 L522.4,380.0 L522.4,378.1 L522.6,378.2 L522.1,376.1 L522.5,376.0 L523.1,374.0 L522.9,372.0 L523.1,372.1 L523.3,369.8 L522.4,367.4 L522.6,367.0 L522.7,365.1 L523.2,362.9 L522.5,361.8 L523.2,360.4 L523.5,359.8 L523.2,358.3 L522.7,357.3 L523.3,356.0 L523.1,355.1 L523.3,352.7 L523.9,354.6 L524.6,355.2 L524.1,356.9 L525.2,357.3 L524.3,358.3 L524.7,361.8 L524.6,362.9 L525.3,363.2 L525.5,365.6 L525.0,366.5 L524.8,369.1 L525.6,369.0 L524.9,370.2 L525.3,372.2 L525.9,374.8 L525.2,376.5 L526.1,378.2 L525.6,378.8 L526.1,379.0 L526.3,380.8 L525.8,382.8 L525.9,380.6 L526.6,380.4 L526.3,377.5 L527.4,377.6 L527.1,375.2 L526.9,377.5 L527.5,377.9 L527.8,380.1 L527.2,382.0 L527.3,383.0 L527.6,383.5 L527.3,385.2 L527.8,386.1 L527.5,388.0 L527.8,389.5 L528.2,391.9 L528.1,392.4 L527.7,392.8 L528.1,395.1 L528.0,396.5 L528.4,397.8 L528.6,396.9 L528.8,395.2 L528.7,393.9 L528.1,392.4 L528.8,390.1 L528.9,388.9 L529.0,388.8 L528.6,387.1 L528.5,384.1 L529.2,382.4 L529.0,382.7 L528.9,380.0 L528.4,378.9 L528.9,377.7 L528.7,375.8 L528.8,374.0 L528.9,374.4 L529.5,372.1 L529.4,370.9 L529.3,369.0 L529.5,367.4 L529.1,365.6 L529.3,365.5 L528.9,364.2 L529.8,362.5 L529.7,359.6 L529.4,358.2 L529.6,357.7 L529.7,356.1 L529.7,356.0 L529.8,354.3 L529.8,351.1 L530.0,350.1 L530.2,347.9 L530.5,348.7 L530.0,346.8 L530.4,343.5 L530.9,344.3 L531.0,342.4 L530.9,340.2 L531.5,339.4 L531.5,337.0 L531.4,336.1 L532.1,333.9 L533.4,337.0 L533.9,337.7 L534.5,339.0 L534.6,340.2 L534.9,341.1 L534.3,342.6 L534.7,344.0 L535.2,346.9 L535.4,347.7 L535.6,350.2 L535.4,349.2 L535.8,352.4 L535.8,352.0 L536.1,355.7 L536.3,355.2 L536.5,357.4 L537.2,359.3 L537.1,360.2 L537.6,358.6 L537.0,356.5 L537.0,356.1 L537.4,354.0 L537.5,351.7 L537.6,350.5 L537.5,351.0 L537.6,349.0 L538.0,346.7 L538.7,345.6 L538.7,343.4 L538.4,342.7 L538.6,340.5 L539.0,338.5 L538.6,339.3 L539.1,336.6 L539.1,336.4 L539.9,333.6 L539.6,331.2 L539.7,329.8 L540.0,328.8 L540.1,327.6 L541.5,329.3 L542.1,330.1 L542.6,332.0 L542.3,332.9 L542.6,334.2 L542.5,336.6 L543.6,338.3 L543.0,337.3 L543.5,340.8 L543.8,341.7 L543.9,342.7 L543.6,339.9 L544.7,339.5 L544.3,338.0 L544.5,336.3 L544.3,334.4 L544.6,332.5 L545.0,332.4 L545.6,331.1 L545.4,328.9 L546.3,326.7 L546.7,324.6 L547.1,323.9 L547.2,322.0 L547.7,322.3 L547.3,318.9 L548.0,318.8 L548.6,316.1 L547.9,316.5 L548.3,313.8 L548.9,312.6 L548.8,313.0 L549.4,315.4 L549.3,316.4 L550.0,319.1 L549.3,320.4 L549.6,320.2 L550.1,322.7 L550.3,322.7 L550.4,325.1 L551.2,327.2 L551.0,329.2 L551.7,329.7 L551.3,331.2 L551.9,331.1 L552.1,333.7 L552.2,335.1 L552.5,332.8 L552.2,332.4 L552.7,331.7 L553.6,329.6 L553.8,327.4 L553.5,326.1 L553.9,325.1 L554.5,322.0 L555.4,321.4 L555.6,322.8 L556.3,323.9 L555.8,326.8 L556.6,325.9 L556.3,327.9 L557.0,329.3 L557.4,331.8 L557.2,332.6 L558.0,335.1 L558.2,335.9 L558.9,336.6 L558.9,338.9 L559.5,337.3 L559.7,335.7 L560.4,333.9 L560.4,335.7 L560.5,337.3 L561.2,339.3 L561.4,340.1 L561.6,341.7 L561.9,343.6 L562.4,344.5 L562.2,345.2 L562.6,345.3 L563.9,347.7 L564.4,347.3 L563.9,345.8 L563.9,343.3 L564.3,343.2 L564.4,340.4 L565.3,339.6 L565.5,338.0 L564.9,336.1 L565.4,335.1 L565.7,333.5 L566.2,332.2 L565.7,330.8 L565.8,328.6 L565.8,327.2 L566.6,325.6 L566.6,324.2 L566.3,324.0 L566.5,321.4 L566.8,319.4 L566.3,319.5 L566.7,317.6 L567.4,315.1 L567.0,312.9 L567.5,311.5 L567.6,309.8 L567.2,310.1 L567.4,306.8 L567.4,305.9 L568.0,305.1 L568.6,302.9 L567.8,301.4 L568.2,300.2 L568.5,299.1 L568.7,298.4 L568.8,295.1 L568.5,295.3 L569.0,292.6 L569.5,292.2 L569.2,290.5 L569.8,289.5 L569.5,287.5 L569.9,286.6 L570.0,284.5 L570.3,284.2 L570.5,280.7 L570.5,280.9 L571.0,278.8 L570.9,279.5 L571.0,282.3 L571.8,284.2 L571.9,285.5 L571.7,286.4 L572.2,287.5 L572.3,289.5 L572.8,289.5 L573.0,292.2 L572.2,293.1 L572.8,295.9 L573.1,296.5 L573.1,296.9 L573.3,298.1 L573.1,299.3 L573.5,300.8 L573.5,303.8 L573.3,304.2 L573.6,306.3 L573.5,307.6 L573.9,308.6 L573.6,310.5 L574.4,311.1 L574.8,313.7 L574.2,313.8 L575.0,316.4 L575.4,319.0 L575.2,320.4 L576.2,321.1 L576.5,322.6 L576.7,324.3 L577.6,324.4 L577.2,326.0 L577.2,327.8 L578.0,330.1 L578.4,331.8 L578.4,333.6 L579.5,334.6 L579.2,337.1 L579.7,337.7 L580.4,336.2 L579.8,335.7 L580.5,332.5 L581.2,330.9 L580.8,331.5 L581.4,329.2 L581.5,327.6 L581.6,329.2 L581.8,330.3 L582.0,331.7 L582.2,333.4 L582.0,334.2 L581.8,337.0 L582.5,338.8 L581.8,339.9 L582.6,340.3 L582.9,342.6 L582.8,343.7 L582.8,345.7 L582.8,345.8 L582.5,347.5 L582.5,349.2 L583.0,350.2 L583.3,352.3 L584.4,353.1 L584.7,355.2 L585.8,353.2 L585.5,353.1 L586.5,350.2 L586.6,351.4 L586.6,353.3 L587.9,354.3 L587.5,356.1 L588.2,357.7 L588.5,357.8 L588.5,360.2 L589.5,363.2 L589.3,363.9 L590.5,365.2 L590.4,363.6 L591.0,363.1 L591.4,361.5 L592.1,360.4 L592.3,357.7 L594.0,359.0 L594.9,358.0 L595.1,355.7 L596.0,355.2 L596.9,354.7 L598.0,352.7 L598.8,350.4 L598.8,349.8 L599.8,347.7 L600.2,349.5 L599.7,351.0 L600.4,352.3 L600.2,353.7 L600.6,355.3 L600.4,357.9 L600.8,358.8 L601.1,359.0 L600.9,361.1 L601.5,362.7 L601.3,362.0 L602.5,359.3 L602.2,358.0 L601.9,357.4 L602.8,355.5 L602.8,354.4 L603.0,352.9 L603.1,352.2 L603.5,350.2 L604.1,351.8 L603.7,352.1 L604.3,353.5 L604.4,356.8 L604.5,356.9 L605.1,359.2 L605.5,360.2 L606.2,359.3 L606.0,357.6 L606.0,355.1 L606.4,353.9 L605.9,353.2 L606.6,350.1 L606.7,348.7 L607.2,349.3 L607.6,346.6 L607.3,345.2 L607.4,346.4 L607.2,347.6 L608.1,349.7 L607.9,351.9 L607.8,351.9 L608.2,353.6 L609.0,356.9 L608.7,357.0 L608.5,360.0 L609.0,360.2 L608.9,359.2 L609.3,356.2 L609.4,355.4 L609.4,355.7 L609.8,353.9 L609.9,351.5 L609.9,350.3 L610.1,349.7 L609.8,347.0 L610.4,345.7 L609.9,344.0 L610.6,344.2 L609.9,341.0 L610.2,340.7 L611.0,339.0 L610.6,337.7 L610.6,336.3 L610.6,334.8 L611.1,334.3 L611.1,331.4 L611.8,329.0 L611.9,329.0 L611.7,326.8 L612.1,326.8 L612.4,324.7 L611.9,322.7 L612.3,321.4 L613.6,320.1 L613.3,321.7 L613.9,322.4 L614.2,324.3 L614.2,325.8 L614.4,328.1 L614.2,327.9 L613.7,330.9 L614.0,331.8 L614.4,332.1 L614.6,333.3 L614.8,334.5 L614.4,338.0 L614.7,337.9 L614.2,339.7 L615.2,341.9 L614.8,342.7 L614.7,344.2 L615.5,345.9 L615.4,347.4 L615.4,347.4 L616.0,349.7 L616.2,351.9 L616.4,352.2 L616.1,355.1 L616.6,355.2 L616.7,357.8 L617.0,358.6 L617.3,360.0 L617.9,361.4 L617.5,362.5 L618.7,363.8 L618.6,365.2 L618.7,362.7 L618.5,360.9 L618.8,359.7 L619.2,359.2 L619.5,357.5 L619.9,356.2 L619.7,354.6 L619.8,353.6 L620.9,352.1 L620.6,350.2 L620.4,352.8 L620.7,352.3 L621.1,355.4 L622.0,354.7 L621.9,356.1 L622.3,357.5 L622.3,360.2 L622.9,358.6 L622.4,356.9 L622.5,355.3 L623.2,353.2 L623.5,353.0 L623.2,351.0 L623.8,348.8 L623.7,348.1 L624.3,345.6 L624.1,345.2 L624.8,346.7 L626.1,347.7 L626.7,345.8 L628.1,345.2 L628.1,347.5 L628.5,348.1 L628.9,348.7 L628.6,349.9 L629.3,353.3 L629.9,353.8 L629.9,355.2 L629.8,355.4 L629.9,358.7 L630.6,359.2 L630.7,360.2 L631.1,363.2 L631.3,363.7 L631.0,364.3 L631.5,365.9 L631.6,367.7 L631.9,369.7 L632.0,370.6 L632.4,373.0 L632.8,373.4 L632.2,374.6 L632.6,375.0 L633.1,377.8 L633.8,378.9 L633.6,380.3 L634.1,379.4 L634.4,377.7 L634.5,376.4 L635.4,374.6 L635.6,372.7 L635.8,372.2 L635.3,370.6 L636.1,368.0 L636.3,366.9 L635.9,365.5 L636.5,364.0 L636.3,362.1 L636.3,359.8 L636.1,359.1 L636.9,357.9 L636.7,355.3 L637.3,354.2 L636.8,354.7 L636.9,353.2 L637.4,350.0 L637.5,348.3 L637.4,347.7 L638.1,346.4 L638.3,345.6 L638.3,342.1 L639.0,341.5 L639.1,340.2 L639.6,342.7 L639.8,342.7 L640.6,345.2 L640.8,344.1 L640.7,341.3 L640.8,341.8 L641.2,338.6 L641.2,338.2 L641.5,336.2 L641.3,335.2 L641.6,333.9 L641.0,331.9 L641.5,330.2 L641.1,330.5 L641.8,327.1 L641.5,325.6 L642.2,324.5 L641.4,324.4 L642.0,320.9 L641.7,319.8 L642.1,319.5 L642.1,316.8 L642.1,316.4 L642.5,317.0 L642.6,319.9 L642.9,320.9 L642.6,322.4 L642.8,324.6 L643.7,323.8 L643.5,327.3 L643.6,327.6 L644.4,325.1 L645.6,325.1 L646.0,327.2 L646.4,327.6 L646.2,329.4 L646.2,330.2 L646.9,332.9 L646.3,334.0 L646.8,334.6 L647.0,336.2 L646.9,339.8 L647.4,340.2 L648.0,342.4 L648.2,342.5 L648.0,345.0 L648.6,346.8 L648.9,347.4 L649.0,349.6 L649.1,350.2 L650.1,350.8 L651.2,352.7 L651.4,355.2 L651.6,354.9 L651.8,357.9 L652.0,359.3 L651.5,360.7 L652.6,362.4 L652.5,361.8 L652.7,363.2 L653.2,364.6 L652.7,368.2 L652.6,367.9 L653.2,370.2 L653.0,369.5 L653.6,366.0 L653.7,366.0 L653.9,365.2 L654.1,362.7 L654.2,361.3 L653.9,360.9 L654.1,357.2 L654.3,355.9 L654.7,355.2 L655.1,353.8 L654.6,352.0 L655.2,350.5 L654.8,349.4 L655.1,347.2 L654.5,347.2 L654.8,345.4 L654.5,342.9 L654.7,343.2 L655.2,340.9 L654.8,338.4 L655.3,337.3 L655.1,336.9 L655.6,334.0 L654.8,334.2 L654.9,333.0 L655.3,332.0 L655.7,330.1 L655.8,327.8 L655.1,326.5 L655.3,325.6 L655.3,325.1 L656.1,323.0 L655.8,321.3 L655.5,319.1 L655.7,317.3 L655.4,317.9 L655.9,315.8 L656.0,314.1 L655.8,313.3 L656.4,310.1 L655.9,309.8 L656.0,308.2 L656.3,307.3 L656.4,305.6 L655.8,305.2 L656.2,302.6 L658.2,301.3 L658.6,303.7 L658.3,305.4 L658.3,304.8 L658.3,307.4 L658.8,309.8 L658.7,311.2 L658.8,311.2 L659.4,314.0 L659.6,313.7 L659.8,315.1 L659.9,317.6 L660.2,320.1 L659.9,320.2 L660.5,320.7 L660.6,324.3 L660.6,324.8 L661.1,326.4 L661.6,327.4 L661.8,329.9 L661.7,330.1 L662.3,328.6 L662.0,328.0 L662.4,324.6 L662.8,323.0 L663.3,322.7 L663.7,321.4 L664.0,322.0 L664.3,323.7 L663.6,326.4 L664.1,327.4 L663.9,327.5 L664.0,329.6 L664.2,331.9 L664.2,332.7 L665.1,333.5 L665.0,336.5 L665.1,337.4 L664.6,338.5 L664.6,338.9 L665.3,340.8 L664.7,341.2 L665.5,344.0 L665.4,345.2 L665.9,346.4 L665.9,349.1 L665.4,349.0 L666.3,351.5 L666.1,353.1 L666.6,353.7 L666.0,355.0 L666.2,355.8 L666.5,356.6 L666.2,358.8 L666.3,360.6 L666.6,362.5 L666.5,364.6 L666.9,364.4 L667.5,367.4 L667.3,368.3 L667.5,369.0 L667.2,367.2 L667.8,366.8 L667.9,364.2 L668.2,362.9 L668.0,361.3 L668.5,359.0 L668.9,357.1 L668.6,358.0 L669.2,355.2 L669.3,354.6 L670.3,353.3 L670.4,349.8 L670.7,348.8 L671.1,346.8 L671.1,346.4 L671.2,345.2 L671.1,343.3 L671.7,341.2 L671.9,340.2 L671.7,340.6 L672.5,338.8 L672.5,336.2 L672.4,335.7 L672.2,334.2 L672.3,332.6 L673.2,331.9 L673.3,328.5 L673.2,327.1 L673.2,326.4 L673.2,328.4 L673.1,329.7 L673.5,331.5 L673.8,333.0 L674.3,334.3 L674.1,333.9 L673.7,335.2 L674.2,337.0 L674.1,338.9 L674.0,340.0 L674.3,343.0 L674.3,342.4 L675.2,343.9 L675.3,345.9 L675.0,347.7 L675.2,346.5 L675.6,344.9 L674.9,343.3 L675.2,342.1 L675.6,341.9 L675.6,338.7 L675.8,337.4 L675.5,335.4 L676.1,334.1 L675.8,333.1 L676.1,333.2 L676.0,331.1 L676.5,330.3 L676.6,329.1 L676.6,325.4 L676.7,325.1 L677.0,322.4 L677.6,321.8 L677.4,321.3 L677.2,319.2 L677.7,319.3 L677.7,317.6 L678.5,316.0 L678.8,314.0 L678.7,312.6 L679.4,311.3 L679.0,308.7 L679.0,308.4 L679.8,306.0 L679.4,306.2 L679.6,303.0 L680.4,304.1 L680.6,302.7 L680.7,300.1 L680.7,299.2 L681.3,297.0 L681.6,296.3 L681.4,294.8 L682.3,291.7 L681.7,292.6 L682.5,290.0 L682.8,288.4 L682.2,287.6 L683.1,285.2 L683.0,284.7 L682.5,282.6 L682.8,281.3 L683.0,278.5 L683.4,277.2 L683.5,276.4 L683.5,275.0 L683.8,272.9 L683.9,272.3 L683.9,271.2 L683.2,268.6 L683.4,267.7 L683.5,267.1 L683.9,263.7 L684.1,264.1 L683.8,263.0 L683.2,260.8 L683.7,259.2 L684.7,259.2 L685.1,261.7 L684.7,263.2 L685.1,264.8 L685.2,266.0 L685.3,266.4 L685.7,268.3 L685.4,269.3 L685.4,270.3 L685.5,272.6 L685.2,274.4 L685.7,275.0 L686.1,275.6 L686.1,278.1 L686.0,278.1 L686.5,279.9 L686.4,283.3 L686.4,283.1 L685.7,283.7 L686.5,287.3 L686.7,288.3 L686.1,290.1 L686.5,291.0 L686.1,292.8 L686.4,293.2 L686.9,294.5 L686.9,297.2 L686.8,297.6 L687.9,298.0 L688.3,302.2 L688.8,302.6 L689.3,304.4 L688.7,304.3 L689.2,307.4 L689.4,307.0 L689.1,310.5 L689.0,310.8 L689.4,312.2 L690.2,314.9 L689.8,314.1 L689.7,315.4 L690.0,319.0 L690.2,318.7 L690.1,319.8 L690.7,322.0 L691.1,324.2 L690.8,325.1 L690.9,326.7 L690.5,327.5 L691.1,328.3 L691.9,330.8 L691.4,332.9 L692.0,333.8 L692.0,336.0 L691.5,337.4 L692.3,339.3 L691.9,339.3 L692.3,341.7 L692.5,342.7 L692.9,343.0 L692.4,345.1 L693.4,347.9 L693.0,347.4 L693.0,349.8 L693.0,351.6 L693.6,352.1 L694.2,353.9 L693.9,356.0 L693.9,358.6 L694.3,358.4 L694.3,360.2 L694.5,361.4 L694.4,362.8 L695.2,363.8 L695.1,365.7 L695.6,366.7 L695.5,368.8 L695.6,371.6 L696.0,371.2 L696.6,374.8 L696.3,375.2 L696.0,375.9 L696.7,379.5 L696.4,378.6 L696.8,380.5 L696.9,382.4 L697.3,383.4 L697.2,386.9 L697.2,387.9 L697.5,389.1 L697.8,390.3 L697.4,389.6 L698.3,386.7 L698.5,385.2 L698.8,383.5 L698.8,381.6 L699.0,380.3 L699.0,378.6 L699.1,378.3 L699.1,377.1 L699.3,375.2 L699.1,377.2 L699.5,377.0 L700.2,380.8 L699.4,381.2 L700.1,381.9 L700.2,383.3 L699.9,384.4 L700.5,388.4 L700.4,388.2 L700.5,389.2 L700.8,391.5 L700.9,393.5 L701.5,394.0 L701.6,396.9 L701.6,398.5 L702.5,398.8 L702.5,400.3 L703.2,402.7 L702.6,403.6 L703.0,405.7 L702.8,406.4 L702.9,408.5 L703.3,409.5 L704.0,411.7 L703.9,411.9 L704.5,414.9 L704.3,415.4 L704.4,417.8 L705.2,417.6 L705.4,418.4 L705.2,419.9 L705.6,423.3 L706.0,424.1 L706.0,425.4 L705.6,423.0 L706.5,422.8 L706.0,419.6 L706.1,420.3 L706.0,417.9 L705.8,419.4 L706.1,421.1 L706.3,423.0 L706.7,424.1 L706.5,425.0 L706.2,427.0 L706.1,427.2 L706.6,430.3 L706.2,430.2 L706.2,431.4 L707.1,432.5 L707.0,435.8 L706.5,436.1 L706.5,438.1 L706.6,438.2 L707.0,439.9 L706.6,442.3 L706.6,444.9 L707.2,445.3 L707.2,446.3 L707.2,447.9 L708.2,445.7 L709.0,445.4 L709.3,444.9 L709.2,443.2 L709.6,441.6 L709.2,440.3 L709.3,439.1 L709.4,436.9 L709.8,435.7 L709.5,432.8 L710.4,432.1 L710.6,431.5 L710.1,429.9 L710.5,429.5 L710.8,427.8 L710.5,425.4 L711.2,424.6 L710.8,421.8 L711.4,420.5 L711.0,420.1 L711.0,417.3 L711.7,416.8 L711.8,416.2 L711.8,414.1 L712.3,415.1 L711.5,416.5 L712.5,417.5 L712.3,419.6 L712.5,422.1 L712.3,422.8 L712.2,423.0 L712.0,424.8 L712.2,428.1 L712.1,429.2 L712.2,431.0 L713.0,430.6 L713.0,433.2 L713.3,433.1 L713.0,435.4 L713.9,434.4 L714.3,430.9 L714.3,430.4 L715.3,429.9 L715.5,427.9 L715.3,430.1 L715.9,430.7 L716.0,431.8 L715.6,433.7 L716.4,434.6 L715.9,436.8 L716.3,439.5 L716.4,439.3 L716.2,441.9 L716.5,442.9 L717.1,445.6 L716.9,445.5 L717.4,446.8 L717.6,448.6 L716.9,449.5 L717.4,451.9 L717.9,454.8 L717.8,455.4 L717.8,458.0 L718.4,458.0 L717.7,458.7 L717.8,460.8 L718.7,462.2 L717.9,465.3 L718.4,466.0 L718.7,467.0 L718.7,468.8 L718.5,470.0 L718.5,470.4 L719.6,472.1 L719.8,475.0 L720.5,476.2 L721.0,476.8 L720.5,480.6 L721.1,481.7 L721.8,482.5 L721.6,484.2 L721.7,485.6 L722.4,487.2 L722.7,488.1 L722.5,490.4 L723.0,492.0 L722.2,493.0 L722.3,494.1 L723.3,495.7 L723.0,497.6 L723.1,500.2 L723.5,499.7 L723.9,502.7 L723.9,504.7 L724.2,504.5 L723.4,505.7 L723.9,507.2 L724.0,510.1 L724.5,507.7 L724.7,506.8 L724.6,504.7 L724.4,503.2 L725.1,501.8 L724.8,501.4 L725.8,500.3 L725.5,498.8 L725.8,499.7 L725.4,500.4 L726.1,504.3 L726.4,503.9 L726.3,507.1 L726.4,508.3 L726.8,509.3 L727.0,510.1 L727.3,510.4 L727.1,513.8 L727.8,514.8 L728.4,516.7 L728.0,518.4 L728.3,519.0 L728.6,520.1 L728.3,519.1 L728.6,516.0 L729.0,514.5 L729.6,515.4 L729.6,511.7 L729.4,510.8 L730.0,510.3 L729.5,509.0 L729.6,506.1 L730.1,505.1 L729.8,505.9 L730.7,506.9 L730.5,510.2 L730.5,512.0 L730.8,512.9 L731.2,513.5 L731.6,515.1 L731.4,516.7 L731.6,517.8 L731.8,518.4 L732.0,520.2 L731.9,522.0 L731.6,523.3 L732.2,523.9 L731.8,527.7 L732.1,526.8 L732.5,529.9 L732.5,529.7 L732.9,531.1 L732.7,533.6 L732.6,535.2 L733.0,536.7 L732.7,538.6 L732.4,540.1 L733.3,540.8 L733.0,542.3 L733.0,544.3 L733.2,546.0 L733.4,545.8 L733.6,548.4 L733.0,550.9 L733.2,551.9 L733.6,552.7 L734.1,555.0 L735.0,555.0 L735.6,557.7 L736.0,559.6 L736.2,561.9 L736.0,562.6 L736.4,563.7 L737.1,565.2 L737.2,567.8 L737.9,568.1 L738.6,570.2 L738.8,572.2 L739.3,573.9 L740.1,575.3 L740.6,575.9 L740.7,577.6 L741.6,580.3 L741.2,582.2 L741.8,583.5 L741.9,585.4 L742.1,587.2 L742.1,588.1 L742.1,587.9 L742.2,589.6 L742.1,592.0 L741.9,592.7 L742.6,595.5 L742.6,595.2 L742.3,598.4 L742.9,599.3 L742.6,600.3 L743.1,599.9 L743.0,598.6 L742.7,597.0 L742.5,594.8 L743.1,593.1 L742.8,592.1 L743.1,590.5 L743.4,588.9 L743.2,588.1 L743.7,586.7 L743.7,585.1 L743.9,582.5 L743.1,580.8 L743.6,580.3 L744.1,580.7 L743.7,584.3 L744.6,583.6 L744.8,586.2 L745.1,587.8 L745.1,586.1 L745.9,585.0 L746.6,582.8 L746.9,582.2 L747.0,580.1 L747.9,579.4 L747.5,578.0 L748.1,575.3 L747.9,577.9 L748.8,577.6 L749.1,578.5 L749.2,580.0 L749.0,581.5 L749.6,585.1 L749.6,585.3 L749.4,588.0 L749.7,587.5 L750.4,588.4 L750.3,592.0 L750.6,592.1 L751.0,594.4 L751.1,595.3 L751.9,593.6 L752.3,591.5 L752.6,590.3 L753.0,590.5 L752.8,592.2 L752.3,595.5 L752.6,596.7 L753.5,597.9 L753.3,600.2 L753.3,601.5 L753.1,602.8 L753.3,604.5 L753.0,603.9 L753.2,606.8 L753.7,608.3 L753.3,608.6 L753.6,610.4 L753.5,609.8 L753.5,608.0 L753.9,605.2 L753.9,604.1 L753.9,603.1 L754.5,603.0 L754.8,599.9 L754.8,599.9 L754.4,597.3 L754.9,596.5 L755.0,594.6 L755.1,592.0 L755.0,590.7 L755.1,590.3 L755.6,592.9 L754.9,592.4 L754.9,594.1 L755.2,597.2 L755.1,597.7 L754.9,599.2 L755.7,599.7 L755.6,600.7 L756.0,602.9 L755.7,605.9 L755.2,605.3 L755.7,608.7 L755.5,608.5 L755.9,610.4 L756.1,611.2 L755.6,613.0 L756.4,615.6 L756.4,615.4 L756.0,617.4 L756.4,618.6 L755.7,619.6 L756.2,620.8 L755.9,623.2 L756.1,625.1 L756.3,626.5 L756.5,626.8 L756.9,630.0 L756.6,630.4 L756.7,629.2 L756.5,628.7 L756.4,624.9 L757.1,625.5 L757.0,622.6 L756.6,620.9 L756.6,620.2 L757.1,617.7 L757.2,618.5 L757.5,617.3 L757.5,614.0 L756.8,614.0 L757.2,613.0 L757.0,611.6 L757.9,607.8 L757.3,608.6 L757.6,606.5 L757.2,603.8 L757.7,604.2 L757.8,601.2 L757.7,599.3 L758.1,600.3 L758.0,597.8 L757.5,596.3 L757.8,595.2 L758.2,594.7 L757.8,592.0 L758.0,589.5 L757.9,589.7 L758.1,587.8 L757.9,588.2 L758.1,589.9 L758.1,591.7 L758.8,592.8 L758.7,593.9 L758.5,596.5 L758.5,597.4 L758.9,597.8 L758.8,600.0 L758.3,601.7 L758.7,602.1 L758.7,604.0 L758.6,606.6 L758.9,607.6 L759.3,609.6 L759.1,610.4 L759.4,611.4 L759.2,613.5 L759.2,613.5 L758.9,615.1 L758.8,618.5 L758.9,618.8 L759.5,619.4 L759.5,621.7 L759.9,622.2 L760.0,623.3 L759.2,624.5 L759.9,626.8 L759.9,628.8 L759.3,629.3 L759.6,632.6 L760.2,632.9 L760.0,634.3 L760.3,635.5 L760.0,638.1 L759.6,637.3 L760.4,639.0 L760.0,642.4 L759.7,642.4 L759.9,644.1 L760.1,645.4 L760.6,647.8 L759.9,647.5 L760.4,648.5 L759.9,651.2 L760.5,652.7 L760.1,653.1 L759.9,655.2 L760.1,656.8 L760.4,657.8 L760.5,661.0 L760.4,660.2 L760.8,662.0 L760.5,664.9 L760.6,665.7 L760.5,664.8 L760.5,663.3 L760.7,661.8 L761.5,660.1 L760.9,658.2 L761.0,656.0 L760.8,654.7 L761.4,653.6 L761.4,652.8 L761.9,650.5 L761.6,649.4 L761.6,648.2 L762.2,649.3 L762.3,650.2 L761.7,652.1 L762.4,653.8 L762.5,655.8 L762.2,656.3 L762.6,658.2 L763.1,660.3 L762.9,662.1 L763.0,662.3 L762.8,663.1 L763.0,664.1 L763.9,665.5 L763.6,668.2 L764.1,670.7 L763.7,671.3 L764.4,671.7 L764.7,672.7 L764.8,675.7 L764.9,675.9 L764.9,678.2 L764.9,678.0 L764.8,676.2 L765.4,672.8 L764.9,672.4 L764.8,671.3 L764.9,669.1 L765.4,668.4 L765.1,666.2 L765.4,666.5 L765.8,663.0 L765.5,662.7 L766.0,662.3 L765.4,659.4 L765.6,658.2 L765.4,655.9 L765.4,656.7 L765.9,653.3 L765.6,651.7 L766.2,650.1 L766.3,650.3 L765.7,647.9 L765.6,646.7 L766.7,646.5 L765.8,644.5 L765.9,642.5 L766.7,640.7 L766.4,640.3 L766.2,639.8 L766.6,637.0 L766.6,635.9 L766.6,634.4 L766.5,636.2 L766.8,638.0 L767.3,637.7 L767.0,640.3 L767.0,641.6 L766.7,641.7 L767.5,644.4 L767.3,647.0 L767.1,648.2 L767.5,649.1 L767.9,649.1 L767.8,651.4 L768.0,652.2 L767.3,654.3 L767.6,655.7 L768.1,656.9 L768.0,659.5 L767.6,658.9 L767.5,661.5 L767.7,662.5 L768.5,664.7 L768.5,665.5 L768.0,668.4 L768.1,668.3 L768.9,670.9 L768.4,670.6 L768.7,673.2 L768.5,670.9 L769.1,669.5 L768.5,668.4 L769.6,667.7 L769.7,666.6 L769.5,664.6 L769.8,663.5 L770.0,660.0 L769.7,660.8 L769.9,658.2 L770.4,659.4 L770.1,660.3 L770.6,663.4 L770.1,662.7 L770.8,665.1 L771.0,667.6 L771.2,668.2 L771.6,667.5 L771.6,665.7 L772.1,664.0 L771.4,662.6 L772.2,661.1 L772.2,658.4 L772.1,656.0 L772.4,655.7 L772.5,655.3 L772.2,653.4 L773.3,650.3 L772.9,650.3 L773.3,646.9 L772.9,645.5 L773.9,644.9 L773.7,643.1 L774.2,642.9 L774.9,641.9 L775.1,639.6 L775.3,637.7 L774.9,637.2 L775.7,635.4 L776.1,635.2 L775.7,633.6 L776.4,630.8 L775.9,630.0 L775.6,628.9 L776.3,627.0 L776.6,625.4 L776.2,622.9 L776.9,621.9 L776.7,620.5 L776.3,620.6 L776.7,617.9 L776.6,619.4 L777.3,621.8 L776.5,621.3 L777.0,623.7 L776.8,624.4 L777.1,627.1 L777.1,627.7 L776.9,629.2 L777.1,630.0 L777.4,632.9 L777.8,632.4 L777.5,634.0 L778.0,635.7 L778.0,638.1 L777.8,638.9 L778.5,639.9 L778.2,641.7 L778.8,639.4 L778.4,639.7 L778.0,637.2 L778.7,635.9 L779.0,633.7 L779.1,633.1 L779.1,631.7 L778.8,629.3 L778.6,629.6 L778.8,626.9 L779.4,627.0 L778.9,624.6 L779.5,623.1 L779.5,621.1 L779.7,621.8 L779.9,618.6 L779.7,617.9 L780.2,619.9 L781.2,620.4 L781.7,617.8 L781.9,616.7 L781.4,616.6 L781.9,614.0 L782.1,612.8 L781.3,610.7 L782.3,609.4 L781.7,609.4 L782.1,608.3 L782.4,604.8 L782.1,604.9 L782.5,603.9 L781.8,600.6 L782.2,598.7 L782.9,597.5 L782.6,596.1 L782.7,595.3 L782.3,594.6 L783.2,592.3 L782.9,591.2 L783.0,589.1 L783.6,586.8 L783.6,586.8 L783.2,583.9 L783.8,584.2 L783.4,581.7 L783.6,581.6 L783.7,579.0 L784.0,581.3 L783.7,581.1 L784.5,582.0 L785.0,585.2 L785.1,586.0 L784.7,588.5 L784.6,588.1 L785.2,590.3 L785.6,589.2 L785.6,588.3 L785.4,586.7 L785.4,585.5 L786.5,583.1 L786.6,582.1 L786.0,580.4 L786.3,578.7 L786.7,577.8 L786.8,576.9 L786.5,574.9 L786.9,573.9 L787.4,573.1 L787.5,569.2 L787.5,567.7 L787.8,567.1 L787.0,565.8 L787.8,564.3 L787.6,563.1 L787.7,561.5 L788.1,563.8 L788.5,563.7 L789.2,566.5 L789.8,565.8 L789.2,564.1 L789.0,562.6 L789.4,560.1 L789.6,558.7 L789.5,556.7 L789.5,556.3 L789.7,554.9 L789.9,554.0 L790.3,551.0 L790.1,552.0 L790.1,550.2 L790.0,547.7 L790.3,547.8 L790.5,545.2 L790.7,544.5 L790.7,542.6 L790.2,540.0 L791.0,539.0 L790.3,538.4 L790.4,536.7 L790.5,536.0 L790.8,532.3 L790.7,531.5 L791.0,530.5 L791.4,527.7 L791.6,526.9 L791.0,526.5 L791.3,525.4 L792.0,523.0 L791.7,521.9 L791.7,520.1 L791.5,519.2 L791.5,517.4 L792.4,516.9 L791.5,515.1 L791.8,513.8 L792.5,510.5 L792.0,510.5 L792.0,509.3 L792.1,507.0 L791.9,506.0 L792.0,504.3 L791.9,501.5 L792.2,501.1 L792.1,500.2 L792.2,497.9 L792.2,496.2 L792.7,495.1 L792.8,494.2 L793.2,491.1 L793.3,490.0 L793.6,489.6 L793.7,487.5 L793.7,487.2 L794.3,485.0 L793.8,484.1 L794.5,483.0 L794.2,481.3 L795.2,479.0 L795.4,476.5 L795.4,477.2 L795.2,475.0 L795.8,477.3 L795.0,478.2 L795.0,480.4 L795.7,481.6 L795.9,481.6 L796.3,484.4 L795.5,484.2 L795.7,487.6 L795.8,487.5 L796.5,489.7 L796.2,491.0 L796.2,491.0 L796.3,493.4 L796.7,495.1 L796.6,492.7 L796.4,492.1 L797.0,491.9 L796.8,490.3 L797.2,488.6 L797.6,486.7 L797.6,485.5 L797.5,484.5 L798.1,482.8 L797.7,480.7 L797.4,478.9 L797.6,477.4 L797.6,477.4 L798.2,475.0 L799.0,472.5 L799.1,471.0 L799.2,470.0 L799.5,467.5 L799.8,467.2 L798.9,465.7 L799.2,463.9 L799.6,463.0 L799.3,460.3 L799.3,459.5 L799.4,457.3 L799.9,456.1 L799.4,455.1 L799.7,452.8 L799.8,450.9 L799.7,450.4 L799.8,450.1 L800.3,448.2 L799.8,446.1 L800.0,444.7 L800.1,444.2 L800.1,442.7 L800.0,441.0 L800.2,437.9 L800.7,438.3 L800.2,435.8 L800.4,433.4 L800.9,433.1 L800.8,431.5 L800.3,428.6 L800.8,427.5 L800.6,426.4 L800.7,425.4 L802.0,427.9 L802.4,428.8 L801.8,430.0 L802.2,432.1 L802.4,432.6 L802.5,433.8 L802.5,437.5 L802.7,437.0 L802.2,439.1 L803.1,440.2 L802.7,443.2 L802.9,444.0 L803.0,445.0 L803.1,446.8 L803.2,447.9 L803.4,445.4 L803.3,444.9 L803.8,443.2 L803.6,440.9 L803.4,440.9 L803.4,438.2 L804.2,438.5 L804.6,435.8 L804.5,434.2 L804.4,432.9 L804.5,431.6 L804.7,433.8 L805.8,435.4 L805.7,435.6 L805.7,439.0 L805.6,440.0 L806.0,440.2 L806.4,441.8 L806.1,445.3 L806.5,445.5 L806.6,446.8 L806.2,447.6 L806.5,449.3 L806.7,452.6 L807.0,452.9 L807.4,451.3 L806.7,450.4 L806.9,448.2 L806.9,446.7 L807.8,445.1 L807.1,443.0 L807.2,442.8 L807.7,441.6 L807.2,441.2 L807.5,438.6 L807.2,437.0 L807.6,434.8 L807.3,434.3 L807.5,432.7 L808.0,431.9 L807.5,430.7 L808.2,429.3 L807.6,427.3 L807.7,426.0 L808.0,425.1 L808.1,422.4 L808.4,421.3 L808.0,420.1 L808.4,418.9 L808.7,416.0 L808.3,415.4 L808.6,412.8 L809.7,411.0 L809.8,410.3 L809.9,412.0 L810.2,412.5 L809.9,413.7 L810.2,415.2 L810.1,416.9 L811.0,420.1 L810.7,420.6 L811.4,423.7 L811.5,423.0 L811.3,425.4 L811.4,427.2 L812.0,428.4 L812.8,430.4 L812.6,428.8 L813.9,426.3 L813.9,426.9 L814.3,423.6 L814.3,422.9 L814.5,420.1 L814.8,419.3 L814.9,417.7 L814.7,416.4 L814.5,416.2 L814.8,413.8 L815.7,413.4 L815.1,410.1 L815.4,409.5 L815.0,407.3 L815.3,405.8 L815.8,405.3 L816.4,404.1 L816.9,401.1 L817.3,400.3 L816.9,402.1 L817.4,402.0 L817.7,404.7 L817.3,406.4 L817.8,408.7 L818.4,408.6 L817.6,411.6 L818.1,411.1 L818.4,412.3 L818.8,414.5 L819.0,416.4 L818.2,418.5 L818.6,418.8 L818.8,420.4 L818.4,419.4 L818.6,418.4 L819.0,415.4 L819.0,413.7 L819.2,414.1 L819.6,413.2 L819.7,410.8 L819.3,408.3 L819.1,408.4 L819.4,406.3 L819.3,405.8 L820.1,402.6 L819.5,401.3 L820.0,400.6 L819.6,400.4 L820.6,397.9 L820.3,396.6 L820.0,397.1 L820.1,400.3 L820.3,401.3 L820.7,402.5 L820.4,404.4 L820.8,406.0 L821.1,407.0 L820.2,407.3 L820.3,408.6 L820.5,411.1 L820.5,411.0 L820.7,414.3 L821.1,415.2 L821.5,415.3 L821.2,417.0 L820.8,419.7 L820.7,421.7 L821.0,421.4 L820.8,423.0 L821.0,424.2 L820.9,426.6 L821.4,426.7 L821.9,430.0 L821.2,431.0 L822.1,432.7 L821.4,434.7 L821.6,434.5 L821.3,437.2 L821.8,437.9 L821.9,436.2 L822.1,435.2 L822.5,433.9 L821.9,432.6 L822.2,431.8 L822.1,429.9 L822.3,428.0 L822.9,427.1 L823.4,425.7 L822.6,423.8 L823.7,422.9 L823.3,420.4 L823.4,418.0 L824.0,418.5 L823.4,414.9 L824.4,413.7 L823.7,412.2 L824.7,410.5 L823.9,410.9 L824.7,407.2 L824.3,405.5 L824.8,405.3 L825.1,405.0 L824.5,401.2 L824.8,399.8 L824.8,399.5 L825.8,398.0 L825.2,396.7 L825.9,396.4 L826.0,394.0 L825.9,391.7 L826.1,390.8 L825.5,390.3 L826.3,388.0 L826.4,386.4 L826.3,385.3 L826.0,382.9 L826.2,381.7 L826.3,381.2 L826.3,379.8 L827.3,376.4 L827.4,375.6 L827.3,375.3 L826.8,373.3 L827.3,371.5 L827.3,373.5 L827.9,373.5 L827.6,375.7 L827.4,376.9 L828.2,378.1 L828.5,381.4 L828.0,381.2 L828.4,382.2 L828.4,383.9 L828.1,386.0 L828.3,386.7 L828.8,388.1 L828.8,390.3 L829.1,392.3 L829.3,393.7 L829.1,393.9 L829.3,395.0 L829.1,398.1 L830.0,400.6 L830.1,402.0 L830.5,403.4 L830.3,405.1 L830.3,405.3 L830.0,404.1 L830.1,401.5 L830.3,400.7 L831.1,399.0 L830.7,398.1 L831.0,396.7 L831.4,396.3 L831.6,394.1 L831.7,393.2 L831.7,391.1 L831.6,389.5 L831.5,389.4 L831.3,386.9 L831.5,386.3 L832.3,384.1 L832.1,382.8 L832.2,383.5 L832.8,385.5 L832.9,387.0 L832.8,387.6 L833.0,389.2 L833.2,392.9 L832.8,393.3 L833.3,395.6 L834.0,395.5 L833.8,397.8 L833.9,398.6 L833.9,400.3 L835.2,401.1 L835.5,404.3 L835.3,405.3 L836.0,406.9 L836.8,407.8 L836.8,405.9 L836.7,405.6 L837.8,404.0 L837.5,402.1 L838.0,399.8 L837.9,398.0 L838.4,396.1 L838.3,394.5 L838.2,395.6 L838.3,392.8 L838.3,391.7 L839.5,389.9 L839.3,387.7 L839.6,385.8 L840.1,385.3 L840.2,384.2 L840.4,381.2 L840.9,382.2 L841.3,379.7 L840.6,377.1 L841.3,377.9 L841.6,375.2 L841.9,373.3 L841.7,372.0 L841.8,370.7 L841.5,369.7 L841.8,367.5 L841.6,367.0 L841.7,365.6 L842.5,363.7 L842.6,362.9 L842.7,359.9 L842.8,360.5 L842.6,356.6 L842.9,357.6 L842.8,355.0 L842.3,353.4 L842.6,351.7 L842.5,349.9 L843.5,350.4 L843.1,347.7 L842.8,350.4 L843.0,350.0 L843.8,352.4 L843.2,352.4 L843.4,355.0 L843.6,355.4 L843.7,357.6 L843.6,358.7 L844.2,360.0 L844.4,363.4 L844.4,363.7 L843.9,365.8 L844.4,365.9 L844.0,368.9 L844.4,368.9 L844.6,371.3 L844.6,372.7 L844.5,370.7 L845.0,368.9 L844.7,369.1 L844.7,365.7 L844.8,364.9 L844.8,363.3 L845.3,362.1 L845.0,361.5 L845.2,360.0 L845.5,357.4 L846.0,355.9 L845.6,355.4 L846.0,352.8 L845.7,352.9 L846.0,349.6 L845.9,349.9 L846.1,347.7 L845.9,345.1 L845.8,345.1 L846.5,343.8 L846.8,342.3 L847.0,341.1 L846.4,339.5 L846.5,337.7 L846.9,335.5 L846.4,335.3 L847.5,333.7 L847.1,331.4 L847.0,328.7 L847.6,327.7 L847.8,327.5 L847.7,325.0 L847.5,325.3 L847.9,322.2 L847.3,321.1 L848.3,320.0 L848.2,318.8 L848.5,317.7 L848.1,315.1 L848.1,315.3 L848.2,316.7 L848.8,318.9 L848.1,321.5 L848.8,322.1 L848.6,324.0 L848.8,325.7 L849.0,325.5 L848.9,328.2 L848.7,330.1 L848.8,329.9 L848.7,331.0 L849.2,333.7 L848.8,334.5 L849.6,337.0 L849.4,337.7 L849.5,338.7 L849.7,340.8 L850.0,342.5 L850.5,343.0 L850.7,343.5 L850.4,345.6 L850.1,347.4 L850.6,348.4 L850.9,350.2 L850.6,348.4 L851.0,346.2 L851.7,345.4 L851.8,344.2 L852.4,341.8 L851.7,342.6 L852.4,340.2 L852.8,342.5 L852.8,343.3 L852.6,344.9 L852.7,345.9 L852.9,348.3 L852.7,349.9 L853.6,349.3 L852.9,350.6 L853.1,354.5 L853.5,355.8 L853.8,355.6 L853.9,357.7 L854.0,355.6 L854.5,354.8 L854.0,352.2 L854.5,352.8 L854.0,351.2 L854.7,348.8 L854.2,348.8 L854.7,347.7 L854.8,343.9 L854.7,344.4 L854.4,342.0 L855.3,340.1 L854.4,339.1 L854.5,337.8 L855.2,335.6 L855.1,335.1 L855.2,336.5 L855.7,337.1 L855.4,340.3 L855.2,340.3 L855.9,342.7 L855.3,344.8 L855.8,346.2 L855.5,346.9 L855.7,348.0 L855.9,350.1 L856.0,349.9 L856.5,353.3 L856.5,352.7 L856.0,355.6 L855.9,355.2 L856.4,357.7 L856.6,358.6 L857.2,362.0 L857.9,362.7 L858.2,365.3 L858.2,364.4 L858.5,366.1 L858.5,367.4 L859.1,368.5 L859.2,370.3 L859.4,373.4 L858.9,374.3 L859.4,375.2 L859.9,372.9 L860.1,372.3 L860.4,371.2 L860.2,368.7 L860.3,367.0 L860.5,367.2 L860.9,365.2 L860.9,366.6 L861.0,367.9 L861.8,369.0 L861.3,369.7 L862.1,373.2 L862.3,374.3 L862.3,374.7 L862.0,377.5 L862.4,377.8 L862.2,379.5 L862.4,380.4 L862.2,382.7 L862.6,385.0 L863.2,385.6 L862.6,385.9 L863.1,389.6 L863.8,388.8 L863.4,391.5 L863.8,391.3 L863.0,389.8 L863.3,387.2 L863.0,385.8 L863.8,384.5 L863.8,383.7 L863.6,382.4 L863.9,380.7 L864.3,379.6 L863.4,378.2 L863.7,377.0 L863.5,374.3 L864.3,372.9 L864.1,372.2 L864.1,370.8 L864.3,368.9 L864.5,366.7 L864.3,366.6 L863.9,363.6 L864.1,364.0 L864.4,362.3 L864.8,360.8 L863.9,358.9 L864.4,357.7 L864.4,357.0 L864.8,355.8 L864.4,352.5 L864.8,352.9 L864.8,351.3 L864.5,348.1 L865.2,346.6 L865.4,347.1 L865.4,344.6 L865.4,343.8 L865.6,341.4 L865.4,340.2 L866.2,337.4 L865.9,336.7 L866.4,335.1 L866.6,336.4 L866.2,339.1 L867.0,338.4 L867.1,341.3 L867.0,343.4 L867.0,343.0 L867.4,345.5 L866.9,347.5 L867.5,349.8 L867.6,350.2 L867.7,352.4 L868.2,352.5 L868.2,353.8 L868.7,357.6 L868.0,357.8 L869.0,358.9 L868.9,361.6 L868.9,362.7 L869.5,364.0 L869.4,364.7 L869.1,365.9 L869.5,369.2 L869.9,369.2 L870.4,370.1 L869.8,373.5 L870.7,372.6 L870.4,375.2 L870.9,372.6 L871.4,372.7 L871.3,369.7 L872.0,369.8 L871.9,367.7 L872.0,368.7 L872.0,370.8 L872.1,373.0 L872.7,374.2 L872.4,375.5 L873.3,375.5 L872.7,378.7 L873.2,379.3 L873.4,380.3 L874.1,382.2 L873.5,382.9 L873.8,385.4 L874.4,386.2 L874.9,387.8 L875.1,386.4 L874.9,386.1 L876.0,382.6 L875.3,383.2 L875.9,381.4 L875.9,378.6 L876.4,377.8 L876.8,378.9 L876.7,381.6 L876.8,381.7 L877.3,383.4 L876.8,384.8 L877.2,385.5 L877.0,387.6 L877.0,388.6 L877.5,390.9 L877.8,392.2 L877.7,394.5 L877.9,395.3 L877.9,396.8 L878.0,399.1 L878.5,399.8 L879.2,399.9 L879.1,401.3 L878.9,402.9 L879.4,405.3 L880.0,406.2 L880.6,407.7 L880.9,410.3 L881.2,412.7 L881.7,414.9 L882.2,415.4 L882.7,413.9 L882.4,412.6 L882.6,412.3 L882.8,408.9 L882.8,408.1 L882.9,407.7 L883.1,405.2 L882.3,403.1 L882.5,401.9 L883.0,401.2 L882.7,399.9 L883.2,399.1 L883.1,395.6 L883.0,394.4 L883.1,394.8 L883.2,392.2 L883.2,390.2 L883.6,390.2 L883.4,387.8 L883.9,385.9 L884.2,384.1 L883.4,383.9 L883.6,382.2 L884.3,379.6 L884.8,378.4 L884.6,376.2 L884.7,375.0 L885.1,374.0 L885.0,372.7 L884.9,372.1 L885.0,368.7 L885.3,369.2 L886.2,366.3 L886.0,365.2 L885.9,365.8 L886.2,367.3 L886.1,369.0 L886.4,371.3 L886.3,373.2 L887.1,373.1 L887.3,375.7 L887.2,377.3 L887.0,378.7 L887.5,378.8 L887.6,381.6 L887.5,382.8 L887.1,383.2 L887.5,385.7 L888.1,387.1 L887.7,387.6 L888.3,389.4 L888.2,392.2 L888.8,392.9 L889.2,394.3 L889.3,395.9 L889.0,397.8 L888.7,397.3 L888.6,396.2 L889.2,392.4 L889.7,393.0 L889.2,390.1 L889.9,389.3 L889.4,387.5 L889.4,387.6 L890.0,385.8 L889.4,382.3 L889.7,381.3 L890.3,380.8 L889.7,379.6 L890.2,377.8 L890.9,378.8 L890.3,381.5 L891.1,383.0 L891.5,384.8 L891.5,385.3 L891.4,386.4 L891.9,387.0 L891.6,390.3 L891.5,392.4 L891.7,391.4 L892.0,393.9 L891.8,396.5 L892.0,397.8 L892.3,399.1 L891.8,401.3 L891.8,400.4 L892.4,403.8 L892.8,403.8 L892.6,406.1 L892.5,408.5 L892.1,408.4 L892.7,410.3 L892.6,407.8 L893.3,407.5 L893.1,406.4 L893.0,404.9 L893.7,401.9 L893.6,400.8 L894.0,400.3 L894.0,399.6 L894.9,397.7 L895.5,395.3 L895.2,393.6 L895.5,391.2 L896.5,391.8 L896.3,389.0 L896.2,387.5 L896.7,387.1 L897.0,385.3 L897.4,387.4 L897.2,387.3 L897.7,388.6 L897.3,390.0 L897.2,392.1 L898.2,395.3 L898.0,394.2 L898.3,397.9 L897.8,397.5 L898.3,400.9 L898.8,401.0 L898.5,402.8 L898.4,401.9 L898.7,399.3 L899.4,399.0 L899.9,397.1 L900.0,395.3 L899.8,393.3 L900.5,393.1 L900.0,389.7 L900.6,389.0 L900.6,387.9 L900.3,386.7 L900.0,386.0 L901.1,383.7 L900.2,381.4 L900.7,381.8 L900.7,379.9 L900.7,378.6 L901.3,376.8 L901.0,375.2 L900.9,374.2 L901.0,372.6 L900.7,370.0 L901.4,370.4 L900.9,369.3 L901.7,365.6 L901.6,365.3 L901.4,364.4 L901.9,363.6 L901.3,359.8 L901.8,358.3 L901.6,356.9 L902.3,357.2 L902.0,355.2 L902.4,355.5 L902.4,356.8 L902.1,359.8 L902.7,362.2 L902.6,363.4 L902.5,364.0 L902.2,365.5 L902.8,367.2 L903.3,367.3 L902.7,369.5 L902.7,371.9 L903.0,371.1 L903.4,373.1 L903.5,375.2 L904.0,373.6 L903.8,372.3 L903.4,370.8 L903.9,369.2 L904.2,367.5 L903.9,365.6 L904.2,363.9 L904.4,363.7 L904.6,361.6 L904.2,360.1 L904.2,359.8 L904.1,356.8 L904.8,355.7 L905.1,355.0 L904.4,352.5 L904.9,351.5 L905.0,350.2 L905.5,351.6 L905.4,351.9 L904.9,354.9 L905.6,355.7 L905.9,356.1 L905.7,358.6 L906.2,359.3 L905.4,361.1 L906.2,364.2 L906.2,365.5 L906.7,365.5 L906.4,368.5 L906.7,369.7 L906.5,370.2 L906.2,367.7 L906.5,367.7 L906.8,367.0 L906.8,365.1 L907.2,361.8 L907.0,362.0 L907.6,359.6 L907.5,357.9 L907.1,357.4 L907.6,354.2 L907.4,353.9 L907.5,353.6 L907.5,351.3 L907.3,350.4 L907.6,349.3 L907.7,345.6 L908.0,345.2 L908.6,347.8 L907.9,349.1 L907.9,348.8 L908.8,349.9 L909.0,351.4 L908.6,353.4 L909.0,356.1 L909.5,357.0 L908.8,358.2 L909.3,360.4 L909.6,360.9 L909.5,362.7 L909.7,360.2 L910.0,358.7 L910.5,359.2 L909.7,357.9 L910.3,355.8 L910.3,354.2 L910.3,351.4 L910.7,351.5 L911.2,349.0 L911.0,347.7 L911.6,345.2 L912.5,345.2 L912.1,344.5 L912.7,343.2 L913.1,340.2 L912.9,340.1 L912.7,336.9 L912.6,335.4 L913.1,335.7 L912.8,333.4 L913.2,332.7 L912.7,331.1 L913.7,328.4 L913.4,328.6 L913.0,326.8 L913.4,323.5 L913.3,323.4 L913.5,322.0 L913.5,320.1 L913.3,319.6 L913.8,316.6 L914.3,315.2 L914.1,313.9 L913.9,311.5 L914.0,311.6 L914.2,309.6 L914.6,307.6 L914.4,307.8 L914.4,305.8 L914.3,302.8 L914.8,302.6 L915.6,302.2 L916.0,300.1 L916.0,298.3 L916.3,296.3 L915.8,295.6 L916.2,294.8 L916.9,292.5 L916.6,291.8 L917.1,290.1 L916.7,288.1 L916.4,286.2 L916.4,284.6 L917.4,283.5 L917.0,282.5 L917.6,281.4 L917.0,280.0 L917.6,277.2 L918.3,275.8 L918.0,275.0 L918.5,277.2 L918.0,278.7 L918.0,278.7 L918.8,282.1 L918.6,283.1 L918.4,284.0 L918.9,284.7 L918.2,287.5 L919.0,288.9 L918.1,289.5 L918.2,292.1 L919.1,292.9 L918.3,295.4 L919.1,296.7 L918.6,297.1 L918.5,298.5 L919.0,300.1 L919.6,301.3 L919.4,304.1 L918.7,303.3 L919.3,305.7 L919.5,307.5 L919.5,307.3 L919.4,309.1 L920.0,311.2 L919.9,311.5 L919.2,313.6 L919.3,314.3 L919.4,317.8 L920.4,319.5 L919.6,319.8 L920.3,321.6 L920.0,322.6 L920.3,325.4 L920.3,324.9 L920.3,327.6 L920.3,329.1 L920.8,331.5 L920.5,331.9 L920.6,332.7 L921.0,335.1 L921.2,337.4 L920.9,339.0 L921.2,341.1 L922.0,341.8 L921.8,341.7 L921.7,344.6 L922.1,345.3 L922.0,347.7 L921.9,346.9 L922.2,343.6 L922.6,343.8 L921.8,340.7 L922.5,340.6 L921.8,339.1 L922.3,337.8 L922.1,335.2 L922.0,335.2 L922.7,334.0 L922.2,330.6 L922.3,331.1 L923.2,328.2 L922.9,327.5 L922.5,327.0 L922.7,324.1 L923.4,323.0 L923.0,321.0 L923.0,320.1 L923.2,319.2 L923.6,316.9 L923.0,314.9 L923.7,313.8 L924.1,313.6 L924.2,310.1 L923.6,309.4 L924.0,307.2 L924.5,307.5 L924.3,304.7 L924.2,303.2 L924.5,302.6 L925.0,301.5 L926.0,300.1 L926.0,297.5 L926.7,297.2 L926.1,297.1 L926.8,295.4 L926.5,293.2 L927.2,292.7 L926.8,291.4 L927.0,288.8 L926.9,289.4 L926.7,291.6 L926.9,291.9 L927.7,293.7 L927.4,295.3 L927.8,298.6 L927.7,299.7 L927.2,300.2 L927.4,300.9 L927.3,304.0 L927.2,304.3 L927.8,305.5 L928.0,307.3 L927.7,309.4 L927.8,311.8 L927.9,311.1 L928.0,313.5 L928.1,315.1 L927.9,316.2 L928.6,316.8 L927.9,318.5 L928.1,321.4 L928.1,322.7 L928.8,323.0 L928.6,326.4 L929.0,326.0 L928.3,329.5 L929.1,330.8 L929.2,331.9 L928.3,333.1 L928.6,333.8 L929.2,335.3 L929.2,337.8 L928.5,339.5 L929.1,340.2 L929.6,339.5 L928.8,337.4 L928.9,334.5 L928.9,335.6 L929.6,332.8 L930.0,332.2 L929.9,328.7 L929.6,329.5 L929.7,326.2 L929.8,326.5 L929.5,324.3 L929.7,322.6 L930.4,321.6 L930.7,318.3 L930.1,317.7 L930.8,317.3 L930.6,315.1 L930.3,315.7 L931.1,317.2 L931.0,318.6 L930.9,321.7 L931.1,321.9 L931.0,324.0 L930.8,326.2 L931.3,325.8 L931.3,327.5 L932.0,328.2 L931.9,331.0 L932.2,332.3 L932.0,333.1 L931.8,334.3 L932.0,336.2 L932.1,337.7 L932.9,335.2 L933.1,335.4 L932.8,334.1 L932.9,332.7 L933.6,330.1 L933.9,332.2 L934.3,333.4 L933.9,335.0 L934.7,337.2 L934.4,337.9 L934.7,339.5 L934.9,341.3 L934.8,341.8 L935.1,343.2 L935.1,345.2 L934.8,343.5 L935.5,342.3 L935.4,341.3 L935.3,340.3 L935.8,337.2 L936.0,336.4 L936.7,335.7 L936.9,333.0 L936.6,332.6 L937.8,332.7 L938.1,330.1 L938.4,331.7 L938.2,332.5 L938.5,333.6 L938.8,336.6 L938.1,337.1 L938.4,339.1 L938.4,340.1 L938.9,340.8 L939.4,341.9 L939.7,345.3 L939.7,345.5 L939.7,347.0 L939.2,347.7 L939.6,350.2 L939.8,348.8 L940.7,345.9 L941.1,345.2 L941.3,346.4 L941.2,347.2 L941.2,349.0 L941.8,349.9 L942.3,351.8 L941.7,354.2 L942.7,354.7 L942.8,357.6 L942.6,357.7 L942.6,355.7 L942.5,354.0 L942.9,353.3 L943.7,352.0 L943.2,350.0 L944.0,348.6 L943.9,346.2 L944.0,345.6 L943.7,344.6 L944.1,342.7 L944.7,343.6 L944.2,345.0 L944.5,347.8 L945.0,349.1 L944.9,348.8 L945.3,352.5 L945.1,353.3 L945.2,354.5 L944.8,354.6 L944.9,357.9 L945.4,359.5 L945.6,360.2 L945.2,360.7 L945.5,362.3 L945.9,363.9 L946.5,365.5 L945.7,368.3 L946.1,369.9 L945.8,369.6 L946.9,371.3 L946.8,374.6 L946.6,375.2 L946.5,377.7 L946.5,378.6 L946.6,381.0 L947.1,380.8 L947.1,382.7 L947.1,383.1 L947.2,385.0 L947.9,386.0 L948.4,389.1 L948.1,390.3 L948.9,389.3 L948.7,385.7 L949.6,385.3 L949.2,386.2 L949.5,387.6 L949.7,389.5 L949.8,390.9 L950.0,392.9 L950.1,393.7 L950.8,396.7 L950.4,396.1 L950.5,397.7 L951.1,400.3 L950.8,399.7 L951.4,397.0 L951.6,396.9 L951.5,395.1 L952.0,393.7 L952.1,392.7 L952.6,390.9 L952.4,389.0 L952.6,387.8 L953.1,388.9 L953.1,391.2 L953.1,392.7 L953.1,392.7 L952.9,393.8 L952.9,396.2 L953.5,398.0 L953.7,398.9 L954.0,399.6 L954.1,403.7 L953.7,403.8 L954.1,405.3 L953.9,405.7 L954.1,407.5 L954.7,410.8 L954.2,410.3 L954.3,413.9 L954.4,414.8 L954.9,415.0 L955.3,417.1 L955.2,419.6 L955.5,420.1 L955.4,421.6 L955.6,420.8 L955.4,418.5 L955.6,416.2 L956.1,417.2 L956.6,415.2 L956.0,413.8 L956.5,412.2 L956.6,410.3 L956.9,410.1 L957.0,407.3 L957.4,406.3 L956.5,404.1 L957.0,403.0 L957.1,400.9 L957.3,401.2 L957.0,397.8 L957.4,397.9 L957.6,395.3 L957.8,394.3 L957.3,392.1 L957.7,392.8 L957.9,390.3 L958.1,389.0 L957.9,388.5 L958.5,385.3 L957.7,383.9 L958.4,383.9 L958.7,381.7 L958.1,379.7 L958.1,379.5 L958.6,376.6 L958.5,376.8 L958.2,374.3 L958.8,372.4 L958.5,370.2 L958.8,369.7 L958.9,367.4 L959.3,365.8 L959.4,366.3 L958.8,363.2 L959.1,362.7 L959.1,364.6 L959.1,364.9 L959.1,367.3 L959.9,369.2 L960.0,369.5 L960.1,370.7 L959.2,372.2 L959.7,374.5 L960.0,376.3 L959.5,375.9 L959.5,378.7 L960.5,379.5 L959.6,382.1 L959.7,382.6 L959.8,384.2 L960.4,385.3 L960.7,386.8 L960.9,387.9 L960.3,391.0 L960.4,392.0 L961.1,392.0 L960.8,393.0 L961.1,396.9 L961.8,396.3 L961.4,399.2 L961.6,400.3 L962.4,399.9 L962.0,398.2 L962.7,395.2 L962.6,393.4 L963.1,392.8 L963.5,394.3 L964.6,395.1 L964.6,397.8 L964.8,397.3 L965.7,394.6 L966.0,394.1 L965.6,393.0 L966.1,390.3 L967.2,389.3 L967.6,386.5 L968.2,387.3 L967.8,390.5 L968.8,392.0 L968.8,391.2 L968.6,394.4 L969.2,395.3 L969.4,398.2 L970.2,399.1 L970.7,400.3 L970.4,402.8 L970.6,404.6 L971.7,405.8 L971.6,406.1 L971.7,407.8 L971.9,407.2 L971.8,404.3 L972.3,404.5 L971.9,400.9 L972.8,401.6 L972.7,399.8 L973.0,396.3 L972.3,396.3 L972.5,395.5 L972.9,392.8 L973.5,391.1 L973.2,389.9 L973.2,387.9 L973.4,387.2 L973.3,385.4 L973.6,383.1 L973.5,381.7 L974.0,382.0 L973.9,378.9 L974.3,377.9 L973.5,377.9 L974.2,375.2 L975.0,373.0 L975.4,372.4 L975.7,370.2 L975.5,368.3 L975.8,367.8 L975.7,365.6 L976.1,364.3 L976.7,362.6 L976.7,361.9 L976.9,359.9 L976.7,358.0 L977.2,356.4 L977.2,357.5 L977.7,358.1 L977.7,361.2 L977.6,363.0 L977.5,363.1 L978.0,365.1 L977.7,367.0 L977.8,367.4 L978.6,370.1 L978.0,371.2 L978.7,372.7 L979.5,370.3 L979.5,369.3 L979.6,369.5 L979.4,366.4 L980.2,365.2 L980.7,365.6 L980.6,369.2 L980.2,370.7 L981.2,372.5 L980.6,372.4 L981.0,374.2 L981.4,376.1 L981.3,378.5 L981.9,379.2 L981.7,380.3 L981.3,378.3 L981.7,376.9 L981.9,374.7 L981.9,374.2 L981.9,371.5 L982.1,370.1 L982.9,370.5 L982.7,367.7 L983.0,370.5 L982.7,371.4 L982.8,372.7 L983.5,372.9 L983.0,374.9 L982.9,377.6 L983.7,377.0 L983.0,379.6 L983.1,380.7 L983.7,382.3 L983.8,382.5 L983.7,385.3 L984.5,386.9 L984.8,389.5 L985.2,390.3 L985.8,392.1 L986.2,392.5 L986.7,395.3 L987.1,397.2 L987.3,397.3 L987.0,399.1 L986.9,399.8 L987.2,402.1 L987.3,402.8 L987.4,405.5 L987.5,406.6 L987.9,408.8 L987.6,410.2 L987.5,410.4 L987.8,413.4 L987.7,414.0 L988.2,415.4 L988.6,416.6 L988.4,419.2 L988.7,420.7 L988.8,419.9 L989.2,421.1 L989.6,423.1 L988.9,425.8 L989.8,426.3 L989.7,427.9 L989.8,428.8 L990.1,430.0 L990.5,432.4 L991.0,432.4 L990.9,435.1 L991.2,435.8 L991.2,437.9 L991.0,438.4 L991.1,441.0 L991.1,441.2 L992.2,442.5 L991.6,444.0 L991.9,447.6 L992.5,448.1 L992.4,449.6 L992.4,451.1 L992.9,453.5 L992.9,453.5 L992.7,455.4 L993.1,457.2 L993.4,459.3 L992.7,459.4 L993.6,461.1 L993.1,461.8 L993.8,465.1 L993.6,465.5 L994.1,466.4 L994.2,468.8 L994.0,470.0 L994.5,471.3 L994.2,474.0 L994.5,474.3 L993.8,476.3 L993.8,478.6 L994.4,479.6 L994.1,479.5 L994.5,481.0 L993.7,484.4 L994.1,485.0 L994.4,486.6 L994.6,487.2 L994.9,489.4 L994.5,492.2 L994.3,492.7 L995.0,494.8 L995.0,495.2 L994.9,497.0 L995.5,498.5 L995.4,500.1 L995.2,499.4 L995.5,498.3 L995.8,496.0 L995.7,493.5 L995.6,492.8 L996.6,491.6 L996.7,489.3 L997.0,488.5 L996.6,487.5 L996.8,485.7 L997.2,483.4 L997.5,484.3 L998.1,482.0 L998.1,480.0 L998.6,482.7 L998.7,483.8 L998.9,485.2 L998.7,487.3 L999.3,487.0 L999.4,488.0 L998.8,489.4 L998.8,491.0 L999.7,492.5 L999.6,495.1 L1000.2,497.3 L999.8,496.7 L1000.4,500.2 L1000.5,500.2 L1001.1,502.8 L1000.9,502.8 L1001.1,505.1 L1001.4,506.9 L1001.0,509.2 L1001.2,509.3 L1001.9,511.3 L1001.0,511.3 L1002.0,514.9 L1001.1,514.3 L1001.8,515.7 L1001.8,517.1 L1001.5,520.3 L1002.1,519.9 L1002.4,521.6 L1001.8,524.2 L1002.2,524.3 L1002.1,527.0 L1002.3,527.3 L1002.4,529.3 L1002.0,531.0 L1002.1,531.7 L1003.0,532.5 L1002.6,535.2 L1002.7,534.0 L1003.0,532.8 L1002.5,532.0 L1002.8,528.3 L1002.7,526.8 L1002.9,527.2 L1003.1,524.6 L1002.5,525.1 L1002.7,522.9 L1003.1,521.4 L1003.0,519.4 L1003.7,518.9 L1002.9,516.9 L1003.7,516.3 L1003.3,514.5 L1003.0,512.7 L1003.6,509.9 L1003.2,509.4 L1003.7,507.3 L1003.5,506.6 L1003.6,506.5 L1003.4,505.0 L1003.9,502.7 L1003.7,502.4 L1004.2,500.2 L1003.9,499.3 L1004.4,498.1 L1004.5,495.2 L1004.1,494.0 L1004.5,491.8 L1004.1,492.3 L1004.1,490.1 L1003.7,491.0 L1004.4,494.2 L1004.6,494.7 L1004.1,495.4 L1005.0,497.4 L1004.8,498.2 L1004.5,498.9 L1004.9,501.7 L1004.5,503.2 L1004.7,503.1 L1005.3,505.1 L1005.0,507.4 L1005.4,508.7 L1005.3,509.1 L1005.3,511.2 L1005.7,512.0 L1005.3,513.4 L1005.4,515.7 L1005.0,516.9 L1005.3,518.2 L1005.6,520.1 L1005.8,521.4 L1007.0,524.0 L1007.1,525.1 L1008.4,523.9 L1008.6,522.6 L1009.2,522.5 L1009.3,520.7 L1009.1,519.2 L1008.9,516.4 L1009.8,516.3 L1009.2,513.9 L1009.5,511.9 L1010.4,512.0 L1010.1,510.1 L1010.0,511.9 L1009.9,512.8 L1010.9,513.9 L1010.6,516.0 L1010.3,516.8 L1011.3,517.7 L1011.3,519.6 L1011.3,520.6 L1011.2,522.0 L1011.8,523.4 L1012.0,526.1 L1011.6,527.6 L1012.4,529.1 L1012.5,531.2 L1012.2,531.7 L1012.4,533.3 L1013.1,535.2 L1014.3,537.0 L1014.6,537.7 L1014.4,538.5 L1015.5,540.7 L1015.5,542.5 L1014.9,543.1 L1015.9,545.7 L1015.3,544.7 L1015.5,547.3 L1016.2,547.9 L1016.2,550.2 L1016.7,548.4 L1016.8,548.3 L1016.9,546.5 L1016.5,543.7 L1016.8,541.6 L1016.8,542.4 L1016.7,538.6 L1017.1,537.8 L1017.6,536.0 L1017.7,535.2 L1017.5,533.9 L1017.5,531.6 L1018.3,531.0 L1018.3,530.4 L1018.5,527.5 L1018.9,525.8 L1018.5,524.4 L1018.9,524.3 L1019.2,522.6 L1019.3,524.3 L1019.5,524.9 L1019.0,526.6 L1019.5,529.4 L1019.7,529.0 L1019.1,530.3 L1019.4,531.9 L1020.0,535.1 L1019.9,536.5 L1019.3,538.1 L1019.4,539.6 L1020.2,539.5 L1019.5,541.6 L1019.7,542.9 L1020.4,543.4 L1020.0,546.3 L1020.0,546.7 L1020.2,549.6 L1020.2,548.7 L1020.5,550.1 L1020.8,551.8 L1020.1,554.3 L1020.0,555.7 L1020.3,557.7 L1020.3,558.9 L1020.2,560.9 L1020.5,560.6 L1020.7,562.7 L1020.3,560.7 L1020.5,559.0 L1020.5,558.5 L1021.0,558.2 L1020.7,555.7 L1021.1,553.4 L1021.8,553.6 L1021.4,551.3 L1021.5,549.1 L1021.7,547.2 L1021.6,546.6 L1022.2,544.9 L1022.6,543.7 L1022.2,542.7 L1021.9,543.0 L1022.9,546.2 L1022.4,548.2 L1022.8,549.2 L1023.1,551.1 L1023.2,552.9 L1023.3,553.8 L1022.9,554.2 L1023.6,556.1 L1023.7,557.7 L1023.3,557.1 L1024.1,556.1 L1024.5,553.8 L1024.1,552.9 L1024.4,551.7 L1024.9,549.7 L1025.2,549.2 L1024.8,546.6 L1025.2,545.2 L1024.9,544.6 L1025.7,542.9 L1025.2,539.5 L1026.1,539.3 L1025.7,537.9 L1026.5,537.3 L1025.7,534.9 L1026.5,533.5 L1026.5,531.7 L1026.2,529.5 L1026.7,528.9 L1026.5,529.6 L1026.9,532.3 L1027.1,532.1 L1026.6,535.1 L1026.5,535.6 L1027.3,536.8 L1026.9,538.1 L1027.1,539.5 L1027.5,541.6 L1027.6,543.3 L1027.6,545.4 L1027.3,545.6 L1027.8,548.1 L1027.7,549.3 L1027.9,551.6 L1027.8,552.7 L1027.4,552.3 L1028.1,555.8 L1028.1,556.9 L1028.2,556.2 L1028.0,558.2 L1028.3,561.2 L1028.4,561.5 L1028.1,562.2 L1028.1,565.3 L1028.1,564.9 L1027.7,568.4 L1028.3,569.7 L1028.2,570.2 L1028.2,572.8 L1029.1,574.2 L1029.7,575.3 L1030.1,574.6 L1030.7,572.6 L1031.2,570.2 L1031.4,571.6 L1032.3,572.3 L1032.7,575.3 L1033.0,574.7 L1033.3,571.3 L1033.1,571.6 L1033.3,570.5 L1032.7,568.2 L1033.3,565.7 L1032.9,564.7 L1033.7,562.4 L1033.9,563.2 L1033.1,560.2 L1033.2,558.8 L1033.5,558.4 L1033.4,555.9 L1034.2,554.5 L1033.5,554.2 L1034.3,552.0 L1034.6,550.5 L1034.4,548.5 L1034.2,547.7 L1034.5,548.5 L1034.8,550.2 L1034.5,552.6 L1034.6,554.5 L1034.5,555.7 L1035.0,557.1 L1034.5,557.9 L1034.6,559.8 L1035.0,561.7 L1034.8,563.3 L1035.2,562.8 L1035.4,566.5 L1035.2,567.8 L1035.8,568.8 L1035.9,569.1 L1035.4,571.1 L1035.7,572.8 L1035.8,574.3 L1036.7,575.1 L1037.0,577.5 L1036.7,577.9 L1037.2,580.3 L1037.5,578.6 L1038.2,578.2 L1038.7,575.3 L1039.9,576.7 L1040.2,577.8 L1040.2,580.1 L1040.9,581.9 L1040.9,583.3 L1040.8,583.9 L1041.2,584.2 L1041.2,586.5 L1041.4,586.0 L1041.7,584.2 L1041.4,582.2 L1041.9,580.7 L1042.7,578.9 L1042.8,578.1 L1042.1,576.3 L1042.7,575.3 L1042.6,576.4 L1042.8,578.4 L1043.8,580.4 L1044.2,582.1 L1044.2,582.8 L1044.6,580.1 L1044.9,580.1 L1044.7,579.0 L1044.7,576.2 L1045.5,576.1 L1045.3,573.8 L1045.1,572.9 L1045.5,571.2 L1045.7,570.2 L1045.5,571.5 L1046.6,572.1 L1046.2,575.5 L1046.5,576.6 L1047.3,576.2 L1047.5,579.6 L1047.2,580.3 L1046.9,578.0 L1047.8,577.7 L1047.6,575.1 L1047.3,574.3 L1048.1,574.1 L1048.3,571.4 L1048.6,570.4 L1047.7,569.5 L1048.7,567.7 L1048.1,566.4 L1048.6,563.6 L1048.7,562.7 L1049.1,560.5 L1049.2,559.3 L1049.7,557.7 L1049.9,558.6 L1050.0,561.1 L1049.9,562.7 L1050.4,562.4 L1049.9,563.8 L1050.1,566.4 L1050.9,568.9 L1050.3,570.4 L1050.5,571.2 L1050.8,571.6 L1051.3,573.5 L1051.2,575.3 L1051.5,572.6 L1052.3,571.2 L1051.8,572.0 L1052.2,569.0 L1052.8,567.7 L1053.6,569.6 L1054.1,571.3 L1054.2,572.8 L1054.3,571.0 L1054.3,569.0 L1054.3,569.5 L1054.2,567.9 L1054.7,565.4 L1054.8,563.7 L1054.8,562.3 L1055.1,560.2 L1054.9,558.4 L1055.2,558.9 L1055.3,557.4 L1055.2,555.7 L1055.4,554.9 L1055.1,552.3 L1055.5,552.1 L1054.9,549.0 L1055.4,547.9 L1054.9,546.6 L1055.2,545.2 L1054.9,542.9 L1055.1,542.7 L1055.1,539.8 L1055.5,538.5 L1056.0,537.1 L1056.1,537.4 L1055.4,535.6 L1056.2,534.5 L1055.6,532.2 L1056.1,530.8 L1056.1,530.1 L1056.5,527.3 L1056.2,527.4 L1056.3,525.1 L1056.5,524.7 L1056.7,522.9 L1057.0,521.7 L1056.2,519.3 L1056.6,517.4 L1057.2,514.8 L1057.1,514.9 L1057.1,513.6 L1056.9,510.5 L1057.3,510.1 L1057.1,509.7 L1057.4,506.4 L1057.4,504.4 L1057.7,503.3 L1057.7,502.5 L1058.0,502.0 L1058.2,499.4 L1058.6,498.2 L1058.7,495.6 L1058.8,495.1 L1059.0,496.2 L1059.0,499.3 L1059.6,498.4 L1059.4,500.6 L1059.8,502.1 L1060.0,504.7 L1059.9,504.8 L1060.5,507.6 L1059.7,508.7 L1060.3,510.1 L1060.9,510.7 L1060.7,513.7 L1060.8,514.4 L1060.9,515.9 L1061.5,516.7 L1061.2,519.9 L1061.8,520.1 L1062.4,522.7 L1062.8,524.1 L1062.5,524.2 L1062.7,525.0 L1063.3,527.6 L1063.3,525.1 L1062.9,524.6 L1063.3,522.9 L1063.0,521.4 L1063.5,520.1 L1063.7,519.2 L1063.3,517.1 L1063.3,516.4 L1064.1,514.3 L1064.3,512.6 L1063.7,512.5 L1064.2,511.4 L1063.8,510.3 L1064.1,508.9 L1064.5,506.1 L1064.3,505.1 L1065.0,503.3 L1064.8,501.4 L1064.8,499.6 L1064.8,498.9 L1065.4,497.6 L1065.0,497.7 L1065.5,495.1 L1065.8,496.4 L1065.7,497.6 L1066.2,499.7 L1066.2,501.5 L1066.0,502.4 L1065.8,502.9 L1065.8,506.0 L1065.8,505.7 L1066.1,507.1 L1066.2,509.7 L1066.9,509.9 L1067.1,512.7 L1066.4,513.8 L1066.8,515.1 L1066.4,513.9 L1067.4,512.7 L1066.7,509.7 L1067.3,509.8 L1066.7,506.8 L1066.8,505.0 L1067.3,503.7 L1067.5,503.2 L1067.5,502.2 L1067.1,500.6 L1067.4,499.0 L1067.5,497.5 L1067.3,497.2 L1067.8,493.7 L1068.0,492.7 L1068.3,491.2 L1068.0,490.1 L1068.3,489.7 L1068.9,487.3 L1068.5,485.6 L1069.0,483.5 L1069.3,482.5 L1069.1,483.6 L1070.0,484.9 L1070.3,487.5 L1070.3,485.4 L1070.1,484.1 L1070.0,483.3 L1070.6,482.7 L1070.4,480.1 L1070.7,478.6 L1070.6,478.4 L1070.5,476.6 L1070.9,474.1 L1070.8,473.0 L1070.5,471.6 L1070.8,470.0 L1071.4,468.7 L1070.6,468.4 L1070.6,466.0 L1071.5,464.7 L1071.3,463.0 L1071.6,461.5 L1071.4,461.0 L1072.0,458.9 L1071.8,456.7" fill="none" stroke="#1E9E45" stroke-width="2.8" stroke-linejoin="round" stroke-linecap="round"/>
<line x1="1121.2" x2="1121.2" y1="81" y2="725.3" stroke="#F9C88E" stroke-width="1.9"/>
<line x1="1193" x2="1193" y1="81" y2="725.3" stroke="#0A8226" stroke-width="2"/>
<g font-size="14.2" fill="#111" stroke="#111" stroke-width="0.55" stroke-linejoin="round"><text x="64.0" y="99.0" text-anchor="end">$100,000</text><text x="64.0" y="193.0" text-anchor="end">$10,000</text><text x="64.0" y="288.8" text-anchor="end">$1,000</text><text x="64.0" y="384.4" text-anchor="end">$100</text><text x="64.0" y="480.2" text-anchor="end">$10</text><text x="64.0" y="575.4" text-anchor="end">$1</text><text x="64.0" y="669.4" text-anchor="end">$0.10</text><text x="90.0" y="745.3" text-anchor="middle">2010</text><text x="154.7" y="745.3" text-anchor="middle">2011</text><text x="230.8" y="745.3" text-anchor="middle">2012</text><text x="306.9" y="745.3" text-anchor="middle">2013</text><text x="383.0" y="745.3" text-anchor="middle">2014</text><text x="459.1" y="745.3" text-anchor="middle">2015</text><text x="535.2" y="745.3" text-anchor="middle">2016</text><text x="611.2" y="745.3" text-anchor="middle">2017</text><text x="687.3" y="745.3" text-anchor="middle">2018</text><text x="763.4" y="745.3" text-anchor="middle">2019</text><text x="839.5" y="745.3" text-anchor="middle">2020</text><text x="915.6" y="745.3" text-anchor="middle">2021</text><text x="991.7" y="745.3" text-anchor="middle">2022</text><text x="1067.8" y="745.3" text-anchor="middle">2023</text></g>
<g font-size="14" fill="#1a1a1a" stroke="#1a1a1a" stroke-width="0.25"><text x="1128" y="123.8">200,000</text><text x="1128" y="152.5">100,000</text><text x="1128" y="180.9">50,000</text><text x="1128" y="219.1">20,000</text><text x="1128" y="247.8">10,000</text><text x="1128" y="276.2">5,000</text><text x="1128" y="314.4">2,000</text><text x="1128" y="343.4">1,000</text><text x="1128" y="371.8">500</text><text x="1128" y="410.0">200</text><text x="1128" y="438.6">100</text><text x="1128" y="467.2">50</text><text x="1128" y="505.3">20</text><text x="1128" y="533.8">10</text><text x="1128" y="562.4">5</text><text x="1128" y="601.0">2</text><text x="1128" y="629.6">1</text><text x="1128" y="658.1">0.5</text><text x="1128" y="696.6">0.2</text><text x="1128" y="721.6">0.1</text><text x="1200.5" y="94.6">100</text><text x="1200.5" y="134.0">50</text><text x="1200.5" y="198.6">20</text><text x="1200.5" y="247.2">10</text><text x="1200.5" y="295.1">5</text><text x="1200.5" y="359.1">2</text><text x="1200.5" y="407.9">1</text><text x="1200.5" y="455.8">0.5</text><text x="1200.5" y="520.3">0.2</text><text x="1200.5" y="568.8">0.1</text><text x="1200.5" y="616.9">0.05</text><text x="1200.5" y="681.5">0.02</text><text x="1200.5" y="721.6">0.01</text></g>
<g font-size="14" fill="#1a1a1a" stroke="#1a1a1a" stroke-width="0.3">
<text transform="translate(1176.3,416) rotate(-90)" text-anchor="middle" textLength="48" lengthAdjust="spacingAndGlyphs">RHODL</text>
<text transform="translate(1254,401.7) rotate(-90)" text-anchor="middle" textLength="116" lengthAdjust="spacingAndGlyphs">RHODL / 365DMA</text>
</g>
<text x="13" y="770" font-size="16.5" font-style="italic" fill="#111" textLength="138" lengthAdjust="spacingAndGlyphs">Source: Glassnode</text>
</svg>
</body></html>
